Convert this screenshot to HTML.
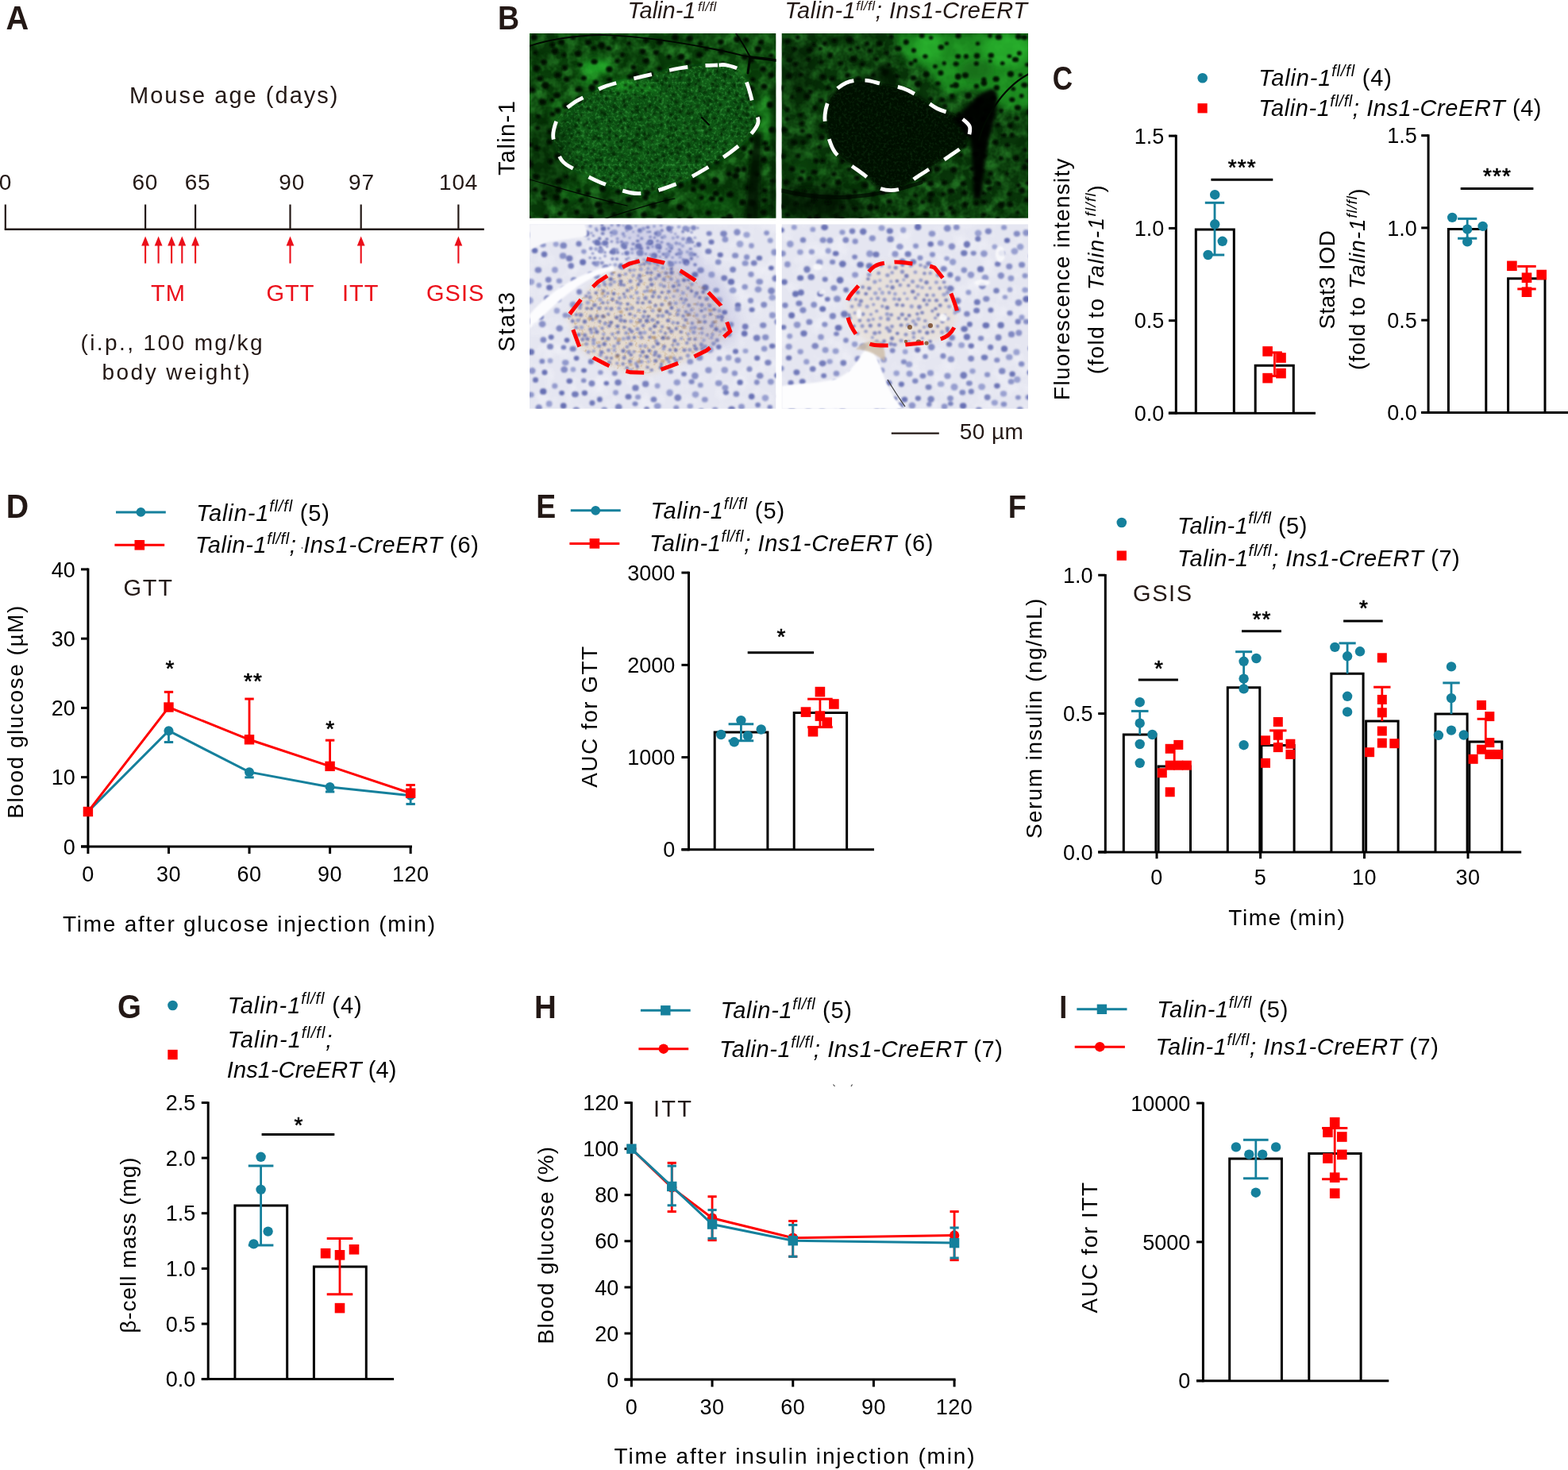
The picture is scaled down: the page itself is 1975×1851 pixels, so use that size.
<!DOCTYPE html>
<html><head><meta charset="utf-8"><title>Figure</title>
<style>
html,body{margin:0;padding:0;background:#fff;}
svg{display:block;}
text{font-family:"Liberation Sans",Arial,Helvetica,sans-serif;white-space:pre;}
.r{font-style:normal;font-weight:normal;}
.it{font-style:italic;font-weight:normal;}
.bd{font-weight:bold;}
</style></head><body>
<svg width="1975" height="1851" viewBox="0 0 1975 1851">
<rect width="100%" height="100%" fill="#fff"/>
<text class="bd" transform="translate(7.51 37.2) scale(0.925 1)" font-size="43.02" fill="#231815">A</text>
<text class="bd" transform="translate(626.88 36.9) scale(0.879 1)" font-size="42.73" fill="#231815">B</text>
<text class="bd" transform="translate(1325.66 112.97) scale(0.814 1)" font-size="43.22" fill="#231815">C</text>
<text class="bd" transform="translate(7.77 652.4) scale(0.939 1)" font-size="41.86" fill="#231815">D</text>
<text class="bd" transform="translate(675.29 652.4) scale(0.876 1)" font-size="42.73" fill="#231815">E</text>
<text class="bd" transform="translate(1269.68 651.9) scale(0.909 1)" font-size="41.42" fill="#231815">F</text>
<text class="bd" transform="translate(148.02 1282.17) scale(0.897 1)" font-size="42.94" fill="#231815">G</text>
<text class="bd" transform="translate(673.12 1282.4) scale(0.925 1)" font-size="41.57" fill="#231815">H</text>
<text class="bd" transform="translate(1334.18 1281.6) scale(0.887 1)" font-size="40.7" fill="#231815">I</text>
<text class="r" x="163" y="130.3" font-size="29" textLength="262.5" lengthAdjust="spacing" fill="#231815">Mouse age (days)</text>
<line x1="5.8" y1="288.8" x2="609.8" y2="288.8" stroke="#231815" stroke-width="2.4"/>
<line x1="6.8" y1="257.5" x2="6.8" y2="289.5" stroke="#231815" stroke-width="2.2"/>
<line x1="183.1" y1="257.5" x2="183.1" y2="289.5" stroke="#231815" stroke-width="2.2"/>
<line x1="246.1" y1="257.5" x2="246.1" y2="289.5" stroke="#231815" stroke-width="2.2"/>
<line x1="365.5" y1="257.5" x2="365.5" y2="289.5" stroke="#231815" stroke-width="2.2"/>
<line x1="454.7" y1="257.5" x2="454.7" y2="289.5" stroke="#231815" stroke-width="2.2"/>
<line x1="577.4" y1="257.5" x2="577.4" y2="289.5" stroke="#231815" stroke-width="2.2"/>
<text class="r" x="7" y="238.9" font-size="28" text-anchor="middle" letter-spacing="0.8" fill="#231815">0</text>
<text class="r" x="182.8" y="238.9" font-size="28" text-anchor="middle" letter-spacing="0.8" fill="#231815">60</text>
<text class="r" x="249" y="238.9" font-size="28" text-anchor="middle" letter-spacing="0.8" fill="#231815">65</text>
<text class="r" x="367.7" y="238.9" font-size="28" text-anchor="middle" letter-spacing="0.8" fill="#231815">90</text>
<text class="r" x="455.4" y="238.9" font-size="28" text-anchor="middle" letter-spacing="0.8" fill="#231815">97</text>
<text class="r" x="577.6" y="238.9" font-size="28" text-anchor="middle" letter-spacing="0.8" fill="#231815">104</text>
<line x1="183.1" y1="307" x2="183.1" y2="331.6" stroke="#eb0f1a" stroke-width="2.1"/>
<path d="M183.1 297.6 L178.2 309.5 L188 309.5 Z" fill="#eb0f1a"/>
<line x1="199.6" y1="307" x2="199.6" y2="331.6" stroke="#eb0f1a" stroke-width="2.1"/>
<path d="M199.6 297.6 L194.7 309.5 L204.5 309.5 Z" fill="#eb0f1a"/>
<line x1="216.1" y1="307" x2="216.1" y2="331.6" stroke="#eb0f1a" stroke-width="2.1"/>
<path d="M216.1 297.6 L211.2 309.5 L221 309.5 Z" fill="#eb0f1a"/>
<line x1="229.3" y1="307" x2="229.3" y2="331.6" stroke="#eb0f1a" stroke-width="2.1"/>
<path d="M229.3 297.6 L224.4 309.5 L234.2 309.5 Z" fill="#eb0f1a"/>
<line x1="246.1" y1="307" x2="246.1" y2="331.6" stroke="#eb0f1a" stroke-width="2.1"/>
<path d="M246.1 297.6 L241.2 309.5 L251 309.5 Z" fill="#eb0f1a"/>
<line x1="365.5" y1="307" x2="365.5" y2="331.6" stroke="#eb0f1a" stroke-width="2.1"/>
<path d="M365.5 297.6 L360.6 309.5 L370.4 309.5 Z" fill="#eb0f1a"/>
<line x1="454.7" y1="307" x2="454.7" y2="331.6" stroke="#eb0f1a" stroke-width="2.1"/>
<path d="M454.7 297.6 L449.8 309.5 L459.6 309.5 Z" fill="#eb0f1a"/>
<line x1="577.4" y1="307" x2="577.4" y2="331.6" stroke="#eb0f1a" stroke-width="2.1"/>
<path d="M577.4 297.6 L572.5 309.5 L582.3 309.5 Z" fill="#eb0f1a"/>
<text class="r" x="212" y="378.5" font-size="29" text-anchor="middle" letter-spacing="1" fill="#eb0f1a">TM</text>
<text class="r" x="365.95" y="378.5" font-size="29" text-anchor="middle" letter-spacing="1" fill="#eb0f1a">GTT</text>
<text class="r" x="454.15" y="378.5" font-size="29" text-anchor="middle" letter-spacing="1" fill="#eb0f1a">ITT</text>
<text class="r" x="573.65" y="378.5" font-size="29" text-anchor="middle" letter-spacing="1" fill="#eb0f1a">GSIS</text>
<text class="r" x="101.5" y="440.8" font-size="28" textLength="229" lengthAdjust="spacing" fill="#231815">(i.p., 100 mg/kg</text>
<text class="r" x="128.5" y="477.7" font-size="28" textLength="186" lengthAdjust="spacing" fill="#231815">body weight)</text>
<defs>
<filter id="gnoise" x="0" y="0" width="100%" height="100%" filterUnits="objectBoundingBox">
 <feTurbulence type="fractalNoise" baseFrequency="0.07" numOctaves="3" seed="7" result="t"/>
 <feColorMatrix type="matrix" values="0 0 0 0 0.06  0 0 0 0 0.55  0 0 0 0 0.06  0 0 0 2.4 -0.85"/>
</filter>
<filter id="gnoise2" x="0" y="0" width="100%" height="100%" filterUnits="objectBoundingBox">
 <feTurbulence type="fractalNoise" baseFrequency="0.3" numOctaves="2" seed="3" result="t"/>
 <feColorMatrix type="matrix" values="0 0 0 0 0.08  0 0 0 0 0.6  0 0 0 0 0.1  0 0 0 2.6 -1.2"/>
</filter>
<filter id="dnoise" x="0" y="0" width="100%" height="100%" filterUnits="objectBoundingBox">
 <feTurbulence type="fractalNoise" baseFrequency="0.05" numOctaves="2" seed="11" result="t"/>
 <feColorMatrix type="matrix" values="0 0 0 0 0  0 0 0 0 0.02  0 0 0 0 0  0 0 0 2.4 -1.0"/>
</filter>
<filter id="inoise" x="0" y="0" width="100%" height="100%" filterUnits="objectBoundingBox">
 <feTurbulence type="fractalNoise" baseFrequency="0.04" numOctaves="3" seed="5" result="t"/>
 <feColorMatrix type="matrix" values="0 0 0 0 0.97  0 0 0 0 0.97  0 0 0 0 1  0 0 0 1.6 -0.72"/>
</filter>
<filter id="bnoise" x="0" y="0" width="100%" height="100%" filterUnits="objectBoundingBox">
 <feTurbulence type="fractalNoise" baseFrequency="0.22" numOctaves="2" seed="9" result="t"/>
 <feColorMatrix type="matrix" values="0 0 0 0 0.55  0 0 0 0 0.36  0 0 0 0 0.16  0 0 0 3.2 -1.75"/>
</filter>
<filter id="blur2" x="-50%" y="-50%" width="200%" height="200%"><feGaussianBlur stdDeviation="2"/></filter>
<filter id="blur4" x="-60%" y="-60%" width="220%" height="220%"><feGaussianBlur stdDeviation="4"/></filter>
<filter id="blur8" x="-80%" y="-80%" width="260%" height="260%"><feGaussianBlur stdDeviation="8"/></filter>
<filter id="blur1" x="-20%" y="-20%" width="140%" height="140%"><feGaussianBlur stdDeviation="0.8"/></filter>
</defs>
<clipPath id="cg1"><rect x="667" y="42" width="310.5" height="232.8"/></clipPath>
<g clip-path="url(#cg1)">
<rect x="667" y="42" width="310.5" height="232.8" fill="rgb(9,62,10)"/>
<rect x="667" y="42" width="310.5" height="232.8" filter="url(#gnoise)" opacity="0.45"/>
<rect x="667" y="42" width="310.5" height="232.8" filter="url(#dnoise)" opacity="0.45"/>
<clipPath id="cg1i"><path d="M904 82 C898.2 82.2 888.1 82.3 880 83 C871.9 83.7 867.1 83.8 855.4 86 C843.7 88.2 825 92.5 809.8 96.2 C794.6 99.9 775.5 104.2 764.3 108 C753 111.8 749.3 115.3 742.3 119 C735.2 122.7 728.2 125.7 722 130 C715.8 134.3 709.1 139.5 705 145 C700.9 150.5 698.8 157.7 697.6 163 C696.4 168.3 695.9 170.5 697.6 177 C699.3 183.5 703 195.8 707.8 202.1 C712.6 208.4 718.2 210 726.6 214.7 C735 219.4 745.2 225.6 758 230.4 C770.8 235.2 788.4 243.3 803.6 243.7 C818.8 244.1 834.4 238.2 849 232.7 C863.6 227.2 877.9 218.9 891.5 210.7 C905.1 202.5 920.2 192.3 930.7 183.3 C941.2 174.3 951.1 164.4 954.2 156.6 C957.3 148.8 951.5 144.3 949.5 136.2 C947.5 128.1 944.8 115.9 942 108 C939.2 100.1 937.5 93.3 933 89 C928.5 84.7 919.8 83.2 915 82 C910.2 80.8 909.8 81.8 904 82Z"/></clipPath>
<path d="M904 82 C898.2 82.2 888.1 82.3 880 83 C871.9 83.7 867.1 83.8 855.4 86 C843.7 88.2 825 92.5 809.8 96.2 C794.6 99.9 775.5 104.2 764.3 108 C753 111.8 749.3 115.3 742.3 119 C735.2 122.7 728.2 125.7 722 130 C715.8 134.3 709.1 139.5 705 145 C700.9 150.5 698.8 157.7 697.6 163 C696.4 168.3 695.9 170.5 697.6 177 C699.3 183.5 703 195.8 707.8 202.1 C712.6 208.4 718.2 210 726.6 214.7 C735 219.4 745.2 225.6 758 230.4 C770.8 235.2 788.4 243.3 803.6 243.7 C818.8 244.1 834.4 238.2 849 232.7 C863.6 227.2 877.9 218.9 891.5 210.7 C905.1 202.5 920.2 192.3 930.7 183.3 C941.2 174.3 951.1 164.4 954.2 156.6 C957.3 148.8 951.5 144.3 949.5 136.2 C947.5 128.1 944.8 115.9 942 108 C939.2 100.1 937.5 93.3 933 89 C928.5 84.7 919.8 83.2 915 82 C910.2 80.8 909.8 81.8 904 82Z" fill="rgb(16,88,18)" opacity="0.7" filter="url(#blur4)"/>
<rect x="667" y="42" width="310.5" height="232.8" filter="url(#gnoise2)" opacity="0.45" clip-path="url(#cg1i)"/>
<ellipse cx="690" cy="200" rx="30" ry="60" fill="rgb(2,18,3)" opacity="0.35" filter="url(#blur8)"/>
<ellipse cx="760" cy="262" rx="50" ry="16" fill="rgb(2,18,3)" opacity="0.3" filter="url(#blur8)"/>
<ellipse cx="940" cy="245" rx="40" ry="30" fill="rgb(2,18,3)" opacity="0.3" filter="url(#blur8)"/>
<ellipse cx="680" cy="60" rx="20" ry="18" fill="rgb(2,18,3)" opacity="0.25" filter="url(#blur8)"/>
<ellipse cx="752" cy="84" rx="20" ry="10" fill="rgb(40,190,45)" opacity="0.75" filter="url(#blur4)"/>
<ellipse cx="742" cy="100" rx="12" ry="8" fill="rgb(40,190,45)" opacity="0.5" filter="url(#blur4)"/>
<ellipse cx="785" cy="108" rx="14" ry="6" fill="rgb(40,190,45)" opacity="0.7" filter="url(#blur4)"/>
<ellipse cx="815" cy="112" rx="12" ry="5" fill="rgb(40,190,45)" opacity="0.5" filter="url(#blur4)"/>
<ellipse cx="700" cy="140" rx="10" ry="18" fill="rgb(40,190,45)" opacity="0.18" filter="url(#blur4)"/>
<ellipse cx="965" cy="150" rx="10" ry="34" fill="rgb(40,190,45)" opacity="0.35" filter="url(#blur4)"/>
<ellipse cx="905" cy="255" rx="30" ry="12" fill="rgb(40,190,45)" opacity="0.15" filter="url(#blur4)"/>
<ellipse cx="720" cy="245" rx="14" ry="10" fill="rgb(40,190,45)" opacity="0.2" filter="url(#blur4)"/>
<g fill="rgb(1,9,2)" opacity="0.95" filter="url(#blur1)"><ellipse cx="672.6" cy="47" rx="4.2" ry="4"/><ellipse cx="695.5" cy="56.5" rx="3.1" ry="3.1"/><ellipse cx="707.1" cy="53.1" rx="4" ry="3.3"/><ellipse cx="721.8" cy="47.4" rx="2.9" ry="2.4"/><ellipse cx="740.8" cy="53.5" rx="3.9" ry="3.7"/><ellipse cx="757.8" cy="57.1" rx="4.4" ry="4.3"/><ellipse cx="773.9" cy="47" rx="3.1" ry="2.6"/><ellipse cx="792.2" cy="54.5" rx="2.9" ry="2.6"/><ellipse cx="813.8" cy="50.6" rx="3.5" ry="3.1"/><ellipse cx="831.2" cy="52.8" rx="4.2" ry="3.9"/><ellipse cx="850.3" cy="47.2" rx="4.2" ry="4.1"/><ellipse cx="868.6" cy="48.5" rx="4.1" ry="3.7"/><ellipse cx="882.4" cy="55.2" rx="3.5" ry="3.2"/><ellipse cx="907.8" cy="53.1" rx="3.6" ry="3.3"/><ellipse cx="928.5" cy="49.6" rx="4.2" ry="4"/><ellipse cx="939.9" cy="50" rx="3.2" ry="3"/><ellipse cx="958.3" cy="53.2" rx="3.6" ry="2.9"/><ellipse cx="674.1" cy="66.2" rx="3" ry="2.7"/><ellipse cx="699" cy="64.7" rx="4.4" ry="4.1"/><ellipse cx="710.3" cy="69.3" rx="2.9" ry="2.8"/><ellipse cx="728.1" cy="67.5" rx="4" ry="3.7"/><ellipse cx="748" cy="60.6" rx="2.8" ry="2.4"/><ellipse cx="766.4" cy="61" rx="3.4" ry="3"/><ellipse cx="784" cy="69.1" rx="3" ry="2.8"/><ellipse cx="809.5" cy="64.9" rx="3.8" ry="3.6"/><ellipse cx="826.5" cy="66.3" rx="3.6" ry="3.3"/><ellipse cx="842.5" cy="71.5" rx="3" ry="2.9"/><ellipse cx="858" cy="71.5" rx="4.3" ry="4.1"/><ellipse cx="881" cy="69" rx="4.1" ry="3.5"/><ellipse cx="890.1" cy="61.3" rx="3.3" ry="2.7"/><ellipse cx="908.4" cy="64.7" rx="4.1" ry="4"/><ellipse cx="938.3" cy="71.5" rx="4.4" ry="4"/><ellipse cx="954.9" cy="61.7" rx="4.2" ry="4"/><ellipse cx="971.2" cy="70.2" rx="3" ry="2.4"/><ellipse cx="675.5" cy="86.1" rx="4.3" ry="4.3"/><ellipse cx="684.8" cy="78.1" rx="4" ry="3.7"/><ellipse cx="711.3" cy="85.4" rx="3.5" ry="3.4"/><ellipse cx="730.6" cy="81.6" rx="3.3" ry="2.7"/><ellipse cx="748.6" cy="77.6" rx="4.2" ry="3.4"/><ellipse cx="767.4" cy="87.3" rx="4" ry="3.7"/><ellipse cx="777.4" cy="76.7" rx="3" ry="2.7"/><ellipse cx="798.1" cy="84.8" rx="3.3" ry="3.1"/><ellipse cx="813.6" cy="76.6" rx="4.1" ry="3.6"/><ellipse cx="830.6" cy="86.5" rx="3.1" ry="2.7"/><ellipse cx="846.2" cy="88" rx="3.5" ry="3.3"/><ellipse cx="866.3" cy="78.5" rx="4.4" ry="3.8"/><ellipse cx="910.7" cy="80" rx="3.1" ry="2.8"/><ellipse cx="946.5" cy="76" rx="3.5" ry="3.3"/><ellipse cx="961.2" cy="87" rx="3.9" ry="3.6"/><ellipse cx="680" cy="98.9" rx="4.2" ry="3.5"/><ellipse cx="702.5" cy="94.6" rx="4.1" ry="3.5"/><ellipse cx="713.6" cy="100.1" rx="3.6" ry="3.3"/><ellipse cx="735.2" cy="98.4" rx="3.7" ry="3.1"/><ellipse cx="750.3" cy="103.7" rx="3.6" ry="3.1"/><ellipse cx="767.7" cy="100.3" rx="3.3" ry="2.9"/><ellipse cx="793.6" cy="96.7" rx="3.5" ry="2.9"/><ellipse cx="800.7" cy="94.3" rx="4" ry="3.9"/><ellipse cx="818.9" cy="93.4" rx="4.4" ry="3.7"/><ellipse cx="948.1" cy="100.3" rx="3.2" ry="2.8"/><ellipse cx="971.6" cy="94.6" rx="3.8" ry="3.6"/><ellipse cx="670.7" cy="113.1" rx="3.8" ry="3.4"/><ellipse cx="686.9" cy="107.7" rx="4.5" ry="4.5"/><ellipse cx="701.6" cy="120" rx="4.2" ry="3.5"/><ellipse cx="728.6" cy="112.8" rx="4.1" ry="3.3"/><ellipse cx="745.7" cy="110.6" rx="4.4" ry="4.1"/><ellipse cx="945.4" cy="111.5" rx="4.4" ry="3.9"/><ellipse cx="962.5" cy="109" rx="4" ry="3.4"/><ellipse cx="683.3" cy="128.2" rx="4.4" ry="3.7"/><ellipse cx="695.4" cy="125.9" rx="2.8" ry="2.4"/><ellipse cx="712.8" cy="133.2" rx="3.9" ry="3.6"/><ellipse cx="729.2" cy="125.8" rx="4.2" ry="3.9"/><ellipse cx="969.9" cy="132.1" rx="4.1" ry="4.1"/><ellipse cx="677.9" cy="146.3" rx="2.9" ry="2.4"/><ellipse cx="695.9" cy="143.7" rx="3.3" ry="2.7"/><ellipse cx="702.7" cy="139.2" rx="3.7" ry="3.5"/><ellipse cx="955.5" cy="148.6" rx="3.1" ry="2.8"/><ellipse cx="676.9" cy="161" rx="3.2" ry="2.6"/><ellipse cx="692.4" cy="165.7" rx="3.3" ry="2.8"/><ellipse cx="972.3" cy="163.6" rx="4" ry="3.9"/><ellipse cx="668.5" cy="182.4" rx="2.9" ry="2.6"/><ellipse cx="692.5" cy="178.7" rx="3.6" ry="3.3"/><ellipse cx="946.5" cy="175.7" rx="3.1" ry="3"/><ellipse cx="963.6" cy="180.6" rx="3.3" ry="3"/><ellipse cx="676.1" cy="186.4" rx="3.5" ry="3.2"/><ellipse cx="702.2" cy="196.7" rx="4.3" ry="4"/><ellipse cx="936.7" cy="187" rx="3.4" ry="3.3"/><ellipse cx="945.9" cy="191.9" rx="3.1" ry="3.1"/><ellipse cx="966" cy="187.3" rx="3.9" ry="3.3"/><ellipse cx="667.1" cy="206.6" rx="4.5" ry="4.4"/><ellipse cx="693.3" cy="203.3" rx="3.7" ry="3.5"/><ellipse cx="902.8" cy="204.8" rx="3" ry="2.5"/><ellipse cx="929.2" cy="213.8" rx="3.6" ry="3.6"/><ellipse cx="937.1" cy="213" rx="3.4" ry="3.4"/><ellipse cx="962.3" cy="201.2" rx="3.8" ry="3.6"/><ellipse cx="675.4" cy="222.4" rx="4.1" ry="3.4"/><ellipse cx="703.5" cy="228.1" rx="4.4" ry="4"/><ellipse cx="713.3" cy="222.6" rx="3" ry="2.5"/><ellipse cx="874.7" cy="228.4" rx="4.2" ry="3.8"/><ellipse cx="901.2" cy="227.5" rx="4.4" ry="4.3"/><ellipse cx="918.2" cy="219" rx="3.7" ry="3.3"/><ellipse cx="926.7" cy="221.5" rx="4.1" ry="4.1"/><ellipse cx="953.3" cy="219.4" rx="3.3" ry="3"/><ellipse cx="973.3" cy="227.9" rx="3" ry="2.4"/><ellipse cx="674.1" cy="238.7" rx="2.9" ry="2.5"/><ellipse cx="685" cy="242.9" rx="3.8" ry="3.7"/><ellipse cx="703.2" cy="238.9" rx="4.1" ry="4"/><ellipse cx="728.9" cy="240.7" rx="3.2" ry="3.1"/><ellipse cx="740.1" cy="243.8" rx="3.3" ry="2.9"/><ellipse cx="759.2" cy="237.9" rx="3.7" ry="3.7"/><ellipse cx="778.7" cy="241.5" rx="3.6" ry="2.9"/><ellipse cx="791.5" cy="240.7" rx="3.4" ry="3.1"/><ellipse cx="815.3" cy="242.8" rx="4" ry="3.3"/><ellipse cx="831.8" cy="239.8" rx="3.3" ry="2.7"/><ellipse cx="857.6" cy="233.2" rx="3.7" ry="3.2"/><ellipse cx="873.3" cy="238.5" rx="3.3" ry="3"/><ellipse cx="884.9" cy="236" rx="4.1" ry="3.8"/><ellipse cx="901.8" cy="243.4" rx="4" ry="3.6"/><ellipse cx="919.6" cy="244.9" rx="4.4" ry="3.6"/><ellipse cx="941.7" cy="236.1" rx="2.9" ry="2.4"/><ellipse cx="963.2" cy="240" rx="3.6" ry="3.1"/><ellipse cx="685.5" cy="250" rx="3.1" ry="2.5"/><ellipse cx="701" cy="248.4" rx="4.1" ry="3.4"/><ellipse cx="712.4" cy="253.5" rx="3.9" ry="3.8"/><ellipse cx="732.1" cy="251.8" rx="3.2" ry="3"/><ellipse cx="753.4" cy="257.8" rx="4.3" ry="3.8"/><ellipse cx="769.4" cy="254.7" rx="4.4" ry="3.5"/><ellipse cx="792.2" cy="251" rx="3.8" ry="3.6"/><ellipse cx="813" cy="248.4" rx="3.6" ry="3.5"/><ellipse cx="822.8" cy="258.8" rx="4.5" ry="4.3"/><ellipse cx="839.1" cy="252.4" rx="3.6" ry="3.4"/><ellipse cx="856.2" cy="260.7" rx="4.3" ry="4"/><ellipse cx="883.4" cy="249.1" rx="2.9" ry="2.4"/><ellipse cx="897" cy="250.1" rx="3.8" ry="3.2"/><ellipse cx="908.2" cy="251" rx="3.1" ry="3.1"/><ellipse cx="935.1" cy="255" rx="3.7" ry="3.6"/><ellipse cx="947.7" cy="255.6" rx="4.2" ry="4"/><ellipse cx="963.1" cy="252.5" rx="3.5" ry="3"/><ellipse cx="666.3" cy="274.5" rx="2.9" ry="2.5"/><ellipse cx="688" cy="273" rx="3.6" ry="3.4"/><ellipse cx="705.4" cy="269.1" rx="3.1" ry="2.7"/><ellipse cx="726.5" cy="267.1" rx="3.4" ry="3.3"/><ellipse cx="744.1" cy="273.8" rx="3.3" ry="3.2"/><ellipse cx="756" cy="266.3" rx="3.9" ry="3.8"/><ellipse cx="773.3" cy="270.1" rx="3.3" ry="2.8"/><ellipse cx="792.4" cy="270.5" rx="3.6" ry="3.1"/><ellipse cx="811.1" cy="270.6" rx="3.8" ry="3.8"/><ellipse cx="830.7" cy="273.5" rx="3.7" ry="3.1"/><ellipse cx="855.6" cy="276.2" rx="2.9" ry="2.7"/><ellipse cx="869" cy="275.3" rx="3.6" ry="2.9"/><ellipse cx="892.2" cy="268.1" rx="3.4" ry="3.3"/><ellipse cx="911.7" cy="276.2" rx="3.9" ry="3.4"/><ellipse cx="919" cy="273.5" rx="4.4" ry="4.4"/><ellipse cx="943.9" cy="271.8" rx="2.8" ry="2.4"/><ellipse cx="962.2" cy="267.4" rx="3.8" ry="3.3"/></g>
<g fill="rgb(3,26,5)" opacity="0.75" filter="url(#blur1)"><circle cx="869.8" cy="84.7" r="2.1"/><circle cx="901" cy="83.2" r="2.3"/><circle cx="841.7" cy="92.2" r="1.7"/><circle cx="857.4" cy="89.6" r="2.2"/><circle cx="863.1" cy="90.5" r="2"/><circle cx="876.4" cy="93.7" r="1.6"/><circle cx="885.7" cy="89.7" r="2.3"/><circle cx="894.3" cy="93" r="2"/><circle cx="902.9" cy="89.7" r="2.4"/><circle cx="912.4" cy="93.8" r="2.5"/><circle cx="926.5" cy="88.7" r="1.7"/><circle cx="802.7" cy="100.6" r="1.7"/><circle cx="808" cy="97" r="2"/><circle cx="819" cy="98" r="2.4"/><circle cx="827.6" cy="101.2" r="2.3"/><circle cx="838.2" cy="99.3" r="2.5"/><circle cx="848.6" cy="100.1" r="1.8"/><circle cx="857.3" cy="98.3" r="2.5"/><circle cx="868" cy="99.8" r="2.3"/><circle cx="880" cy="101.7" r="1.9"/><circle cx="890.6" cy="95.8" r="2.3"/><circle cx="901.2" cy="101.5" r="1.7"/><circle cx="912.4" cy="97.4" r="2.4"/><circle cx="920.1" cy="97.1" r="2"/><circle cx="930.3" cy="100.8" r="1.6"/><circle cx="774.3" cy="107.9" r="1.6"/><circle cx="787.9" cy="107" r="2.3"/><circle cx="794.1" cy="109.7" r="2.5"/><circle cx="803.1" cy="107.1" r="2"/><circle cx="812.3" cy="107.8" r="2"/><circle cx="822.1" cy="108.7" r="2.1"/><circle cx="834.1" cy="105.8" r="2"/><circle cx="842.9" cy="108.5" r="2.3"/><circle cx="853.3" cy="111.1" r="1.7"/><circle cx="867.7" cy="107.2" r="2.4"/><circle cx="875.8" cy="106.2" r="2.3"/><circle cx="882.3" cy="109.8" r="2.4"/><circle cx="897.5" cy="106.2" r="2.4"/><circle cx="903.2" cy="108.8" r="2.2"/><circle cx="912.1" cy="105.9" r="2.1"/><circle cx="924.4" cy="107.5" r="2.5"/><circle cx="932.9" cy="107.8" r="1.6"/><circle cx="757" cy="115.7" r="2.5"/><circle cx="770.1" cy="116" r="1.8"/><circle cx="778.8" cy="117.7" r="2.3"/><circle cx="787.7" cy="115.2" r="2"/><circle cx="799.3" cy="119.6" r="2"/><circle cx="808.8" cy="113.7" r="2.1"/><circle cx="817.7" cy="116.7" r="1.9"/><circle cx="832.7" cy="117.6" r="1.6"/><circle cx="839.7" cy="114.8" r="1.8"/><circle cx="848.4" cy="119.2" r="2.3"/><circle cx="862.8" cy="115.7" r="2"/><circle cx="870.5" cy="117.9" r="2.1"/><circle cx="881" cy="115.1" r="2"/><circle cx="887.7" cy="115.7" r="2.3"/><circle cx="899.4" cy="114.7" r="2.3"/><circle cx="906.3" cy="119.4" r="1.7"/><circle cx="918.5" cy="116.5" r="2"/><circle cx="928.1" cy="119.6" r="2.4"/><circle cx="940.6" cy="119" r="2"/><circle cx="737" cy="127.3" r="1.9"/><circle cx="744.1" cy="127.5" r="1.7"/><circle cx="753" cy="124.8" r="1.6"/><circle cx="763.8" cy="124.3" r="2.3"/><circle cx="774.6" cy="125.2" r="1.6"/><circle cx="786" cy="127.1" r="2.3"/><circle cx="793.7" cy="124.8" r="1.9"/><circle cx="804.9" cy="122.9" r="1.8"/><circle cx="811.6" cy="122.2" r="2.1"/><circle cx="826.3" cy="123" r="1.8"/><circle cx="831.8" cy="127" r="1.7"/><circle cx="845.7" cy="124.9" r="1.7"/><circle cx="852" cy="128" r="2.5"/><circle cx="862.7" cy="122.8" r="2"/><circle cx="876.1" cy="123.5" r="2.4"/><circle cx="887.7" cy="128" r="2"/><circle cx="894.1" cy="127.1" r="2.4"/><circle cx="902.2" cy="126.5" r="2"/><circle cx="913.3" cy="123.2" r="1.9"/><circle cx="926" cy="128.3" r="2"/><circle cx="934.8" cy="127.2" r="2.6"/><circle cx="943.7" cy="124.3" r="2.6"/><circle cx="732.1" cy="135.9" r="1.6"/><circle cx="740.4" cy="137.1" r="2.4"/><circle cx="749.8" cy="135.6" r="2"/><circle cx="758.8" cy="130.6" r="1.8"/><circle cx="772.2" cy="133.7" r="2.2"/><circle cx="776.5" cy="136.1" r="2.1"/><circle cx="787" cy="132.4" r="2.5"/><circle cx="801.7" cy="135.3" r="2"/><circle cx="812.5" cy="136.5" r="2.1"/><circle cx="818.4" cy="133.2" r="2.5"/><circle cx="827.2" cy="136" r="2.3"/><circle cx="841.9" cy="133.5" r="1.8"/><circle cx="851.6" cy="137.4" r="1.7"/><circle cx="860.5" cy="134" r="1.9"/><circle cx="870.7" cy="134.3" r="1.7"/><circle cx="878.6" cy="134" r="2.2"/><circle cx="891.9" cy="132.4" r="1.7"/><circle cx="896.7" cy="137.1" r="1.6"/><circle cx="907.3" cy="131.9" r="2.3"/><circle cx="918.1" cy="137.2" r="2"/><circle cx="929.9" cy="136.2" r="2.3"/><circle cx="941" cy="136.1" r="2.4"/><circle cx="946.2" cy="131.3" r="2.3"/><circle cx="712.1" cy="143.4" r="1.9"/><circle cx="724.8" cy="143.3" r="1.7"/><circle cx="732.6" cy="145.1" r="2.1"/><circle cx="745.5" cy="139.5" r="2.1"/><circle cx="757.8" cy="141" r="2.5"/><circle cx="761.7" cy="143.8" r="2.4"/><circle cx="775.1" cy="140.1" r="1.7"/><circle cx="782.6" cy="141.9" r="1.9"/><circle cx="796.9" cy="140.5" r="1.9"/><circle cx="802.5" cy="139.4" r="2.4"/><circle cx="813.5" cy="139.8" r="1.7"/><circle cx="824.2" cy="142.4" r="2"/><circle cx="832.6" cy="141.8" r="2.4"/><circle cx="844.9" cy="144.1" r="2.5"/><circle cx="857.3" cy="140.1" r="2.6"/><circle cx="867.2" cy="142.2" r="2.6"/><circle cx="872.1" cy="141.5" r="2"/><circle cx="882.8" cy="145.1" r="1.8"/><circle cx="891.2" cy="140.7" r="2.5"/><circle cx="904.8" cy="140.8" r="1.7"/><circle cx="917" cy="139.9" r="2.2"/><circle cx="927.4" cy="143.8" r="2.1"/><circle cx="937" cy="142.7" r="2.4"/><circle cx="941.5" cy="144.8" r="2.5"/><circle cx="711.2" cy="153.3" r="2"/><circle cx="721.6" cy="148.2" r="1.9"/><circle cx="728.9" cy="150.9" r="2.3"/><circle cx="739.1" cy="154.6" r="2"/><circle cx="750.1" cy="154.1" r="2.5"/><circle cx="758.9" cy="150.8" r="1.6"/><circle cx="768" cy="152.4" r="2.1"/><circle cx="781.7" cy="152.9" r="1.9"/><circle cx="786.2" cy="150.3" r="2.2"/><circle cx="796.1" cy="149.9" r="1.9"/><circle cx="807.5" cy="149.5" r="2.2"/><circle cx="817.1" cy="149.3" r="1.8"/><circle cx="832.5" cy="148.4" r="2.2"/><circle cx="841.5" cy="153.7" r="2"/><circle cx="851.5" cy="148.9" r="1.9"/><circle cx="862.1" cy="154.6" r="2.1"/><circle cx="871.6" cy="154.3" r="1.7"/><circle cx="878.2" cy="153.4" r="1.9"/><circle cx="889.1" cy="148.1" r="2.4"/><circle cx="899.9" cy="148.8" r="2.5"/><circle cx="912.1" cy="152.9" r="2.3"/><circle cx="919.7" cy="153.9" r="1.9"/><circle cx="932.4" cy="149.9" r="2.5"/><circle cx="940" cy="153.3" r="2"/><circle cx="946.4" cy="149.5" r="2.6"/><circle cx="703.3" cy="161.9" r="1.9"/><circle cx="717.3" cy="162.4" r="2.3"/><circle cx="725.2" cy="158.8" r="2.6"/><circle cx="736.1" cy="157.6" r="2.4"/><circle cx="742.1" cy="161.6" r="1.9"/><circle cx="752.9" cy="162" r="1.8"/><circle cx="766.1" cy="158.8" r="2"/><circle cx="777.8" cy="158.2" r="1.7"/><circle cx="784.1" cy="161.5" r="1.9"/><circle cx="791.4" cy="159.9" r="1.9"/><circle cx="804.9" cy="162.9" r="2.3"/><circle cx="817.3" cy="158" r="2.5"/><circle cx="822.8" cy="159" r="1.7"/><circle cx="832.7" cy="157.1" r="2.3"/><circle cx="845.2" cy="161.5" r="2.3"/><circle cx="851.4" cy="162.9" r="2"/><circle cx="865.4" cy="161.4" r="2.5"/><circle cx="873.8" cy="162.6" r="2"/><circle cx="886.5" cy="159.4" r="2.4"/><circle cx="894.8" cy="162.8" r="2.5"/><circle cx="905.2" cy="157.1" r="1.6"/><circle cx="911.3" cy="162.5" r="2.2"/><circle cx="925.9" cy="159.9" r="2.1"/><circle cx="935" cy="159.8" r="2.2"/><circle cx="941.5" cy="161.3" r="1.9"/><circle cx="951.5" cy="158.3" r="2.5"/><circle cx="701.9" cy="167.8" r="1.8"/><circle cx="709.7" cy="171.2" r="2.1"/><circle cx="720" cy="171.6" r="2.1"/><circle cx="729.3" cy="167.5" r="2"/><circle cx="739.4" cy="168.4" r="1.8"/><circle cx="750.1" cy="171.7" r="1.7"/><circle cx="761.9" cy="168.3" r="1.7"/><circle cx="768.3" cy="166" r="2.1"/><circle cx="776.6" cy="171" r="2.4"/><circle cx="789.3" cy="170" r="1.7"/><circle cx="802.8" cy="169.3" r="2.4"/><circle cx="811.9" cy="168.5" r="2.2"/><circle cx="817.5" cy="170.5" r="2.3"/><circle cx="828.9" cy="166.5" r="1.7"/><circle cx="841.8" cy="171.6" r="2.4"/><circle cx="847.7" cy="170.2" r="1.7"/><circle cx="861" cy="168.1" r="2.4"/><circle cx="868.9" cy="171.5" r="1.8"/><circle cx="876.4" cy="167.2" r="2.1"/><circle cx="889.7" cy="166.9" r="2.4"/><circle cx="901.6" cy="172" r="1.6"/><circle cx="908.9" cy="168.6" r="2.3"/><circle cx="922.7" cy="169.7" r="1.7"/><circle cx="930.4" cy="168.4" r="1.9"/><circle cx="940.4" cy="168.2" r="1.7"/><circle cx="702.1" cy="175.1" r="2.1"/><circle cx="716.6" cy="179.9" r="1.6"/><circle cx="725.9" cy="175.8" r="1.6"/><circle cx="732.7" cy="178.8" r="1.7"/><circle cx="747.3" cy="175" r="2"/><circle cx="754" cy="174.3" r="2.3"/><circle cx="767.7" cy="174.6" r="2.3"/><circle cx="776.8" cy="178.7" r="1.7"/><circle cx="782.4" cy="177.1" r="2.6"/><circle cx="796.4" cy="177.1" r="2"/><circle cx="801.3" cy="179.5" r="2.4"/><circle cx="813.7" cy="174.7" r="2.5"/><circle cx="821.2" cy="177.8" r="2.4"/><circle cx="835.2" cy="176.1" r="2.1"/><circle cx="846.5" cy="178.6" r="2"/><circle cx="855.3" cy="176.4" r="2.2"/><circle cx="867.5" cy="180" r="1.8"/><circle cx="874.5" cy="176" r="2.3"/><circle cx="886.4" cy="178.8" r="2.4"/><circle cx="892.3" cy="179.6" r="2.3"/><circle cx="901.7" cy="178.1" r="2"/><circle cx="913.8" cy="180.1" r="2.3"/><circle cx="925.8" cy="179.9" r="1.8"/><circle cx="706.8" cy="186.7" r="2.4"/><circle cx="722.1" cy="188.4" r="1.7"/><circle cx="727.7" cy="185.6" r="2.2"/><circle cx="737.9" cy="186.9" r="2.2"/><circle cx="748.2" cy="189.1" r="1.9"/><circle cx="761.1" cy="183" r="2.3"/><circle cx="770.1" cy="187.1" r="2.6"/><circle cx="780.9" cy="185.9" r="2.3"/><circle cx="792" cy="185.6" r="2.1"/><circle cx="798.6" cy="182.9" r="2.3"/><circle cx="806.2" cy="186.2" r="2.5"/><circle cx="820.2" cy="186.6" r="1.6"/><circle cx="832.1" cy="183.5" r="2.2"/><circle cx="838.7" cy="185.4" r="2.5"/><circle cx="852.2" cy="186.6" r="2.5"/><circle cx="856.7" cy="187.4" r="1.8"/><circle cx="867.6" cy="183.6" r="2.3"/><circle cx="882.8" cy="184.5" r="1.7"/><circle cx="886.9" cy="188.5" r="1.9"/><circle cx="898.5" cy="186.1" r="2.3"/><circle cx="911.4" cy="187.8" r="1.8"/><circle cx="717.3" cy="193.5" r="1.7"/><circle cx="726.2" cy="197.6" r="1.9"/><circle cx="732" cy="198.1" r="1.8"/><circle cx="745.3" cy="192.8" r="1.7"/><circle cx="756.9" cy="193.8" r="2.2"/><circle cx="767.8" cy="194.9" r="1.6"/><circle cx="773.1" cy="193.8" r="2.5"/><circle cx="784.1" cy="196.2" r="1.8"/><circle cx="797.8" cy="193.9" r="2.2"/><circle cx="802.8" cy="193.7" r="1.8"/><circle cx="816.7" cy="192.8" r="1.9"/><circle cx="824.1" cy="191.9" r="1.7"/><circle cx="835.8" cy="196" r="2.1"/><circle cx="845.9" cy="192.6" r="2.4"/><circle cx="853.9" cy="192.6" r="2.4"/><circle cx="867.6" cy="196" r="2.5"/><circle cx="876.8" cy="197.6" r="1.8"/><circle cx="881.2" cy="197" r="2.4"/><circle cx="893.2" cy="191.8" r="1.9"/><circle cx="906.1" cy="197.9" r="2.1"/><circle cx="722" cy="203.7" r="2"/><circle cx="732" cy="200.5" r="1.8"/><circle cx="737.6" cy="204.9" r="2"/><circle cx="751.4" cy="201.9" r="2.3"/><circle cx="756.9" cy="202" r="2.3"/><circle cx="766.3" cy="202.1" r="1.6"/><circle cx="779.8" cy="201.6" r="1.7"/><circle cx="788.9" cy="203.6" r="2.2"/><circle cx="800.2" cy="200.4" r="1.8"/><circle cx="807.7" cy="204.9" r="2.5"/><circle cx="820.6" cy="204.3" r="2.2"/><circle cx="827.3" cy="201.4" r="2.4"/><circle cx="836.8" cy="202.1" r="1.7"/><circle cx="852.7" cy="200.5" r="1.8"/><circle cx="857.9" cy="205.2" r="1.6"/><circle cx="868.7" cy="201.7" r="2.5"/><circle cx="877.6" cy="202.7" r="2.6"/><circle cx="891.4" cy="204.5" r="2"/><circle cx="725" cy="208.9" r="2.5"/><circle cx="733.6" cy="210.7" r="2.6"/><circle cx="743.9" cy="209.7" r="2"/><circle cx="755.4" cy="211.1" r="2.4"/><circle cx="763" cy="211.3" r="2.4"/><circle cx="777" cy="211.9" r="2.3"/><circle cx="786.1" cy="210.5" r="1.8"/><circle cx="791.2" cy="214.2" r="1.9"/><circle cx="805.6" cy="212.3" r="2.6"/><circle cx="817.4" cy="211.5" r="1.9"/><circle cx="824.9" cy="214.2" r="2"/><circle cx="835" cy="214.4" r="2.1"/><circle cx="843.5" cy="213.9" r="2"/><circle cx="854.2" cy="214.5" r="2.3"/><circle cx="864.6" cy="210.3" r="2"/><circle cx="877" cy="215.2" r="2.2"/><circle cx="885.8" cy="210.6" r="1.8"/><circle cx="893" cy="209.5" r="2.2"/><circle cx="748.1" cy="220.6" r="2.1"/><circle cx="760.5" cy="224.1" r="2.1"/><circle cx="769.6" cy="218.9" r="2.3"/><circle cx="778.2" cy="223.6" r="2"/><circle cx="791" cy="221.8" r="1.7"/><circle cx="796.8" cy="217.7" r="2.4"/><circle cx="809.4" cy="219.8" r="1.8"/><circle cx="818.1" cy="223.1" r="2.3"/><circle cx="830.7" cy="222.2" r="2.4"/><circle cx="838.8" cy="223.2" r="2"/><circle cx="848.1" cy="223" r="2"/><circle cx="857" cy="224.3" r="2.4"/><circle cx="756.9" cy="229.2" r="2.3"/><circle cx="766" cy="226.7" r="1.9"/><circle cx="775" cy="226.3" r="2.3"/><circle cx="783.2" cy="231.3" r="2.4"/><circle cx="797.1" cy="229.7" r="2.3"/><circle cx="805.7" cy="228" r="1.8"/><circle cx="815.4" cy="227.5" r="2"/><circle cx="821.5" cy="232.5" r="1.9"/><circle cx="836.9" cy="229.4" r="2.2"/><circle cx="843.4" cy="233" r="2.2"/><circle cx="853.5" cy="227.5" r="2"/><circle cx="802.8" cy="241" r="1.9"/><circle cx="812.1" cy="240.5" r="1.9"/><circle cx="822" cy="237.6" r="2.5"/></g>
<g fill="none" stroke="rgb(0,8,0)" stroke-linecap="round">
<path d="M667 58 C690 50 720 45 757 44 C800 45 850 52 900 62 C920 66 935 70 945 72" stroke-width="1.8"/>
<path d="M945 72 C955 73 965 74 977 76" stroke-width="3.5"/>
<path d="M945 72 C944 78 943 84 942 92" stroke-width="3"/>
<path d="M945 72 C940 62 934 52 927 42" stroke-width="1.8"/>
<path d="M667 226 C700 235 740 248 790 259" stroke-width="1.2"/>
<path d="M760 276 C790 266 820 256 850 250" stroke-width="1.2"/>
<path d="M884 148 C887 151 890 154 893 157" stroke-width="2.2"/>
</g>
<path d="M950 165 C946 195 942 232 938 276 L956 276 C957 240 958 200 960 168 Z" fill="rgb(1,12,2)" opacity="0.75" filter="url(#blur2)"/>
<path d="M972 105 L977 105 L977 276 L970 276 Z" fill="rgb(0,10,0)" opacity="0.5" filter="url(#blur2)"/>
</g>
<path d="M904 82 C898.2 82.2 888.1 82.3 880 83 C871.9 83.7 867.1 83.8 855.4 86 C843.7 88.2 825 92.5 809.8 96.2 C794.6 99.9 775.5 104.2 764.3 108 C753 111.8 749.3 115.3 742.3 119 C735.2 122.7 728.2 125.7 722 130 C715.8 134.3 709.1 139.5 705 145 C700.9 150.5 698.8 157.7 697.6 163 C696.4 168.3 695.9 170.5 697.6 177 C699.3 183.5 703 195.8 707.8 202.1 C712.6 208.4 718.2 210 726.6 214.7 C735 219.4 745.2 225.6 758 230.4 C770.8 235.2 788.4 243.3 803.6 243.7 C818.8 244.1 834.4 238.2 849 232.7 C863.6 227.2 877.9 218.9 891.5 210.7 C905.1 202.5 920.2 192.3 930.7 183.3 C941.2 174.3 951.1 164.4 954.2 156.6 C957.3 148.8 951.5 144.3 949.5 136.2 C947.5 128.1 944.8 115.9 942 108 C939.2 100.1 937.5 93.3 933 89 C928.5 84.7 919.8 83.2 915 82 C910.2 80.8 909.8 81.8 904 82Z" fill="none" stroke="#fff" stroke-width="4.8" stroke-dasharray="23.5 22.5" stroke-dashoffset="8"/>
<clipPath id="cg2"><rect x="984.5" y="42" width="310.5" height="232.8"/></clipPath>
<g clip-path="url(#cg2)">
<rect x="984.5" y="42" width="310.5" height="232.8" fill="rgb(8,52,9)"/>
<rect x="984.5" y="42" width="310.5" height="232.8" filter="url(#gnoise)" opacity="0.4"/>
<rect x="984.5" y="42" width="310.5" height="232.8" filter="url(#dnoise)" opacity="0.45"/>
<path d="M1128 42 L1300 42 L1300 135 C1285 140 1272 140 1262 135 C1250 130 1240 118 1230 112 C1222 110 1215 115 1208 118 C1195 122 1180 110 1172 95 C1165 85 1158 80 1150 82 C1140 78 1132 62 1128 42 Z" fill="rgb(34,165,38)" opacity="0.75" filter="url(#blur4)"/>
<ellipse cx="1268" cy="62" rx="30" ry="20" fill="rgb(50,205,55)" opacity="0.45" filter="url(#blur4)"/>
<ellipse cx="1170" cy="60" rx="18" ry="16" fill="rgb(50,205,55)" opacity="0.45" filter="url(#blur4)"/>
<ellipse cx="1230" cy="88" rx="20" ry="14" fill="rgb(20,90,22)" opacity="0.5" filter="url(#blur4)"/>
<ellipse cx="1005" cy="90" rx="25" ry="40" fill="rgb(1,12,2)" opacity="0.3" filter="url(#blur8)"/>
<ellipse cx="1020" cy="255" rx="45" ry="20" fill="rgb(1,12,2)" opacity="0.7" filter="url(#blur8)"/>
<ellipse cx="1060" cy="262" rx="40" ry="14" fill="rgb(1,12,2)" opacity="0.5" filter="url(#blur8)"/>
<ellipse cx="1000" cy="200" rx="18" ry="30" fill="rgb(1,12,2)" opacity="0.25" filter="url(#blur8)"/>
<ellipse cx="1010" cy="210" rx="20" ry="14" fill="rgb(30,140,32)" opacity="0.25" filter="url(#blur8)"/>
<g fill="rgb(1,9,2)" opacity="0.92" filter="url(#blur1)"><ellipse cx="991.9" cy="52.2" rx="4" ry="3.4"/><ellipse cx="1004.7" cy="46.9" rx="2.8" ry="2.7"/><ellipse cx="1024.9" cy="56.1" rx="3" ry="2.5"/><ellipse cx="1038.9" cy="54.7" rx="3.1" ry="2.7"/><ellipse cx="1051.2" cy="50.8" rx="3.5" ry="2.9"/><ellipse cx="1070.2" cy="50.4" rx="4.1" ry="3.8"/><ellipse cx="1092.1" cy="54.8" rx="3" ry="2.6"/><ellipse cx="1108" cy="54.9" rx="4" ry="3.3"/><ellipse cx="1122.7" cy="46" rx="3" ry="2.5"/><ellipse cx="1141.3" cy="53.1" rx="3.5" ry="3.5"/><ellipse cx="1161.2" cy="44.9" rx="3.4" ry="3.1"/><ellipse cx="1172.7" cy="47.6" rx="2.6" ry="2.4"/><ellipse cx="1192.4" cy="54.8" rx="2.7" ry="2.3"/><ellipse cx="1207" cy="45.1" rx="3.6" ry="3.3"/><ellipse cx="1231.5" cy="54.9" rx="2.7" ry="2.3"/><ellipse cx="1247" cy="45" rx="2.6" ry="2.6"/><ellipse cx="1257.9" cy="46.6" rx="4.2" ry="3.7"/><ellipse cx="1282.7" cy="46" rx="3.7" ry="3.7"/><ellipse cx="1290.3" cy="47.1" rx="4.1" ry="3.3"/><ellipse cx="1000.7" cy="61.7" rx="2.8" ry="2.7"/><ellipse cx="1020.1" cy="63" rx="3.9" ry="3.4"/><ellipse cx="1033.1" cy="61.6" rx="2.6" ry="2.3"/><ellipse cx="1045.8" cy="69.7" rx="3.4" ry="3.4"/><ellipse cx="1071.2" cy="62.2" rx="2.6" ry="2.2"/><ellipse cx="1080.4" cy="60" rx="2.8" ry="2.3"/><ellipse cx="1095.6" cy="63.9" rx="3.1" ry="2.9"/><ellipse cx="1116.5" cy="66.2" rx="3.1" ry="2.5"/><ellipse cx="1131.4" cy="61.2" rx="4.1" ry="3.3"/><ellipse cx="1150.9" cy="63.5" rx="3" ry="3"/><ellipse cx="1165.4" cy="71" rx="3.2" ry="2.7"/><ellipse cx="1185.3" cy="59.5" rx="3.7" ry="3.2"/><ellipse cx="1206.7" cy="70.9" rx="3.5" ry="3"/><ellipse cx="1216.9" cy="71" rx="3.1" ry="2.9"/><ellipse cx="1230.5" cy="70.3" rx="3.7" ry="3.5"/><ellipse cx="1248.3" cy="69.7" rx="3.7" ry="3.2"/><ellipse cx="1271.4" cy="70.8" rx="2.9" ry="2.4"/><ellipse cx="1283.9" cy="67.1" rx="3" ry="2.8"/><ellipse cx="994" cy="75.6" rx="2.7" ry="2.2"/><ellipse cx="1002" cy="80.8" rx="3.1" ry="2.8"/><ellipse cx="1018.4" cy="74.7" rx="3.2" ry="3"/><ellipse cx="1033.9" cy="78.2" rx="2.8" ry="2.7"/><ellipse cx="1058.5" cy="79.7" rx="3.2" ry="2.8"/><ellipse cx="1075" cy="74.4" rx="4.2" ry="3.7"/><ellipse cx="1086" cy="80.9" rx="3.3" ry="3.1"/><ellipse cx="1103.6" cy="74.2" rx="2.7" ry="2.5"/><ellipse cx="1119.5" cy="81.9" rx="2.5" ry="2.2"/><ellipse cx="1147.3" cy="80" rx="3.2" ry="2.8"/><ellipse cx="1152.8" cy="76.4" rx="2.6" ry="2.6"/><ellipse cx="1177.9" cy="83.6" rx="2.8" ry="2.6"/><ellipse cx="1189.2" cy="79.7" rx="2.6" ry="2.6"/><ellipse cx="1204.2" cy="80.6" rx="3.6" ry="3"/><ellipse cx="1229.8" cy="80.1" rx="3.2" ry="2.9"/><ellipse cx="1247.2" cy="76.9" rx="2.5" ry="2.2"/><ellipse cx="1262.7" cy="79.7" rx="2.9" ry="2.5"/><ellipse cx="1279" cy="75" rx="4.1" ry="3.3"/><ellipse cx="1294.2" cy="81.5" rx="3.1" ry="2.5"/><ellipse cx="994.1" cy="95.5" rx="3.9" ry="3.5"/><ellipse cx="1008.5" cy="93.9" rx="3.2" ry="3"/><ellipse cx="1036.5" cy="96.6" rx="3.9" ry="3.9"/><ellipse cx="1048.3" cy="99.3" rx="4" ry="3.3"/><ellipse cx="1067.6" cy="95" rx="3.3" ry="3"/><ellipse cx="1080.8" cy="99.4" rx="3.7" ry="3.2"/><ellipse cx="1100" cy="94.7" rx="2.8" ry="2.5"/><ellipse cx="1114.7" cy="90.7" rx="4" ry="4"/><ellipse cx="1129.5" cy="96.1" rx="3.7" ry="2.9"/><ellipse cx="1150.7" cy="98.2" rx="3.7" ry="3.2"/><ellipse cx="1166.6" cy="93.5" rx="3.9" ry="3.8"/><ellipse cx="1184.9" cy="91.9" rx="3.4" ry="3.3"/><ellipse cx="1206.8" cy="96.5" rx="3.9" ry="3.9"/><ellipse cx="1215.9" cy="94.8" rx="4.1" ry="3.6"/><ellipse cx="1239.3" cy="100.3" rx="3.1" ry="3"/><ellipse cx="1254.6" cy="99.4" rx="4.1" ry="3.5"/><ellipse cx="1272.9" cy="93.3" rx="4.1" ry="3.7"/><ellipse cx="1285.3" cy="94.5" rx="2.6" ry="2.5"/><ellipse cx="983.4" cy="110.8" rx="3.8" ry="3.6"/><ellipse cx="1006.4" cy="113.1" rx="3.4" ry="2.9"/><ellipse cx="1020.8" cy="115.4" rx="2.8" ry="2.4"/><ellipse cx="1042.6" cy="110.6" rx="2.9" ry="2.6"/><ellipse cx="1144.1" cy="113.4" rx="2.8" ry="2.7"/><ellipse cx="1156.2" cy="106.1" rx="3.9" ry="3.6"/><ellipse cx="1181.3" cy="105.3" rx="3.3" ry="2.7"/><ellipse cx="1198.7" cy="108.4" rx="2.5" ry="2.1"/><ellipse cx="1204" cy="107.3" rx="3.9" ry="3.8"/><ellipse cx="1229.9" cy="108.5" rx="3.2" ry="3.1"/><ellipse cx="1239.4" cy="104.6" rx="3.8" ry="3.8"/><ellipse cx="1255.3" cy="110.5" rx="3.7" ry="3.6"/><ellipse cx="1276.2" cy="111.8" rx="3.1" ry="2.6"/><ellipse cx="1290.3" cy="107.1" rx="4.1" ry="3.4"/><ellipse cx="997.9" cy="122.4" rx="2.5" ry="2.2"/><ellipse cx="1016.6" cy="121.6" rx="4" ry="4"/><ellipse cx="1034.3" cy="126.4" rx="3.3" ry="2.8"/><ellipse cx="1172.4" cy="124.7" rx="2.9" ry="2.7"/><ellipse cx="1186.8" cy="125.7" rx="3.2" ry="2.7"/><ellipse cx="1199.2" cy="120.9" rx="3.3" ry="2.8"/><ellipse cx="1219.7" cy="120.5" rx="4.1" ry="4"/><ellipse cx="1234.6" cy="127.8" rx="4.1" ry="3.9"/><ellipse cx="1250.8" cy="123.6" rx="3.7" ry="3.2"/><ellipse cx="1274.8" cy="125.5" rx="3.6" ry="3.1"/><ellipse cx="1286.7" cy="120.8" rx="2.8" ry="2.7"/><ellipse cx="991.7" cy="137.7" rx="3.1" ry="2.8"/><ellipse cx="1008.3" cy="144.7" rx="3" ry="2.6"/><ellipse cx="1026.7" cy="135.9" rx="2.8" ry="2.6"/><ellipse cx="1189.9" cy="133.5" rx="2.9" ry="2.3"/><ellipse cx="1208.1" cy="144.1" rx="3.2" ry="2.8"/><ellipse cx="1229.4" cy="134" rx="3" ry="2.9"/><ellipse cx="1241.9" cy="138.5" rx="3.5" ry="3.1"/><ellipse cx="1261" cy="139.4" rx="2.7" ry="2.4"/><ellipse cx="1281.8" cy="135.6" rx="4" ry="3.3"/><ellipse cx="1296.4" cy="141" rx="3.5" ry="3"/><ellipse cx="991.4" cy="149.8" rx="2.9" ry="2.6"/><ellipse cx="1009.7" cy="155.4" rx="3.3" ry="2.8"/><ellipse cx="1035.6" cy="158.6" rx="3.6" ry="3.1"/><ellipse cx="1222.8" cy="149.6" rx="2.6" ry="2.2"/><ellipse cx="1238.5" cy="149.6" rx="4.1" ry="3.5"/><ellipse cx="1256.8" cy="157.1" rx="3.1" ry="2.8"/><ellipse cx="1272.6" cy="158.3" rx="3.4" ry="3.2"/><ellipse cx="1280.8" cy="149" rx="3.3" ry="2.8"/><ellipse cx="987.8" cy="163.6" rx="3.9" ry="3.4"/><ellipse cx="1010.7" cy="164.9" rx="2.9" ry="2.4"/><ellipse cx="1019.5" cy="171.5" rx="3.3" ry="2.7"/><ellipse cx="1035" cy="173.1" rx="4.1" ry="3.8"/><ellipse cx="1226.9" cy="167.7" rx="3.2" ry="2.6"/><ellipse cx="1239.8" cy="166.8" rx="2.5" ry="2.2"/><ellipse cx="1264.3" cy="170.4" rx="3.2" ry="2.7"/><ellipse cx="1274.7" cy="169.9" rx="3.1" ry="3"/><ellipse cx="1300.7" cy="164.7" rx="3.2" ry="2.9"/><ellipse cx="1000" cy="179.2" rx="3.8" ry="3.2"/><ellipse cx="1011.4" cy="179.1" rx="2.7" ry="2.5"/><ellipse cx="1032.2" cy="185.5" rx="2.6" ry="2.4"/><ellipse cx="1214" cy="183.3" rx="3.3" ry="3.1"/><ellipse cx="1233" cy="183.3" rx="3.4" ry="2.7"/><ellipse cx="1253.7" cy="179" rx="3.4" ry="3.1"/><ellipse cx="1268.9" cy="182.7" rx="2.8" ry="2.4"/><ellipse cx="1291.2" cy="188.9" rx="2.8" ry="2.6"/><ellipse cx="986" cy="196.8" rx="3.2" ry="3.1"/><ellipse cx="1005.2" cy="196.2" rx="2.8" ry="2.4"/><ellipse cx="1028.1" cy="202.7" rx="3.3" ry="3.1"/><ellipse cx="1035.9" cy="202.4" rx="2.9" ry="2.6"/><ellipse cx="1060.8" cy="202.8" rx="3.2" ry="3"/><ellipse cx="1210.6" cy="195.1" rx="2.8" ry="2.7"/><ellipse cx="1228.9" cy="193.7" rx="3.1" ry="3"/><ellipse cx="1239.7" cy="196" rx="3" ry="2.8"/><ellipse cx="1260.8" cy="199.5" rx="2.8" ry="2.4"/><ellipse cx="1280.3" cy="199.3" rx="4" ry="4"/><ellipse cx="1293.9" cy="202.8" rx="3.4" ry="2.7"/><ellipse cx="997.6" cy="213" rx="3.8" ry="3.6"/><ellipse cx="1010.9" cy="216.1" rx="2.7" ry="2.2"/><ellipse cx="1025.9" cy="216.8" rx="4" ry="3.2"/><ellipse cx="1050.2" cy="219.2" rx="3.2" ry="2.7"/><ellipse cx="1069.4" cy="213.3" rx="2.8" ry="2.2"/><ellipse cx="1170.2" cy="214.5" rx="4.1" ry="3.7"/><ellipse cx="1180.1" cy="213.1" rx="4.2" ry="4"/><ellipse cx="1201.4" cy="214" rx="4" ry="4"/><ellipse cx="1224.1" cy="212.6" rx="3.1" ry="2.6"/><ellipse cx="1237.7" cy="215.1" rx="2.5" ry="2.4"/><ellipse cx="1247.5" cy="218.8" rx="3.4" ry="2.8"/><ellipse cx="1268.2" cy="218.7" rx="2.6" ry="2.2"/><ellipse cx="1290.7" cy="210.8" rx="3.6" ry="3.6"/><ellipse cx="989.9" cy="229.8" rx="4" ry="3.7"/><ellipse cx="1008.3" cy="225.2" rx="3.5" ry="3.2"/><ellipse cx="1019" cy="224.4" rx="2.5" ry="2.3"/><ellipse cx="1038.1" cy="233.5" rx="2.9" ry="2.7"/><ellipse cx="1055.8" cy="229.8" rx="3.8" ry="3.8"/><ellipse cx="1079.7" cy="223.9" rx="3.3" ry="2.9"/><ellipse cx="1089.5" cy="233.3" rx="4" ry="3.9"/><ellipse cx="1163.3" cy="226" rx="3.6" ry="3.6"/><ellipse cx="1172" cy="231.3" rx="3.9" ry="3.3"/><ellipse cx="1189.2" cy="230" rx="3.4" ry="3.2"/><ellipse cx="1213.4" cy="231.2" rx="3.1" ry="2.8"/><ellipse cx="1229.3" cy="225.4" rx="3.3" ry="2.7"/><ellipse cx="1244.7" cy="229.1" rx="4.1" ry="3.7"/><ellipse cx="1258" cy="231.3" rx="2.5" ry="2.4"/><ellipse cx="1282.5" cy="233.1" rx="2.9" ry="2.4"/><ellipse cx="1294.9" cy="230.4" rx="3.2" ry="2.6"/><ellipse cx="1002.8" cy="243.4" rx="4" ry="3.7"/><ellipse cx="1013.3" cy="240.5" rx="2.5" ry="2.4"/><ellipse cx="1026" cy="247.1" rx="4" ry="3.4"/><ellipse cx="1054.2" cy="243.3" rx="3" ry="2.4"/><ellipse cx="1068.8" cy="247.6" rx="3.8" ry="3.1"/><ellipse cx="1076.8" cy="241.3" rx="3.1" ry="2.8"/><ellipse cx="1099.7" cy="244.2" rx="3.4" ry="3.1"/><ellipse cx="1112.1" cy="242.2" rx="3.2" ry="2.9"/><ellipse cx="1153" cy="246" rx="2.7" ry="2.5"/><ellipse cx="1172.7" cy="244.8" rx="4.1" ry="3.6"/><ellipse cx="1187.8" cy="244.7" rx="2.7" ry="2.6"/><ellipse cx="1197.8" cy="240.6" rx="4.1" ry="3.6"/><ellipse cx="1214.6" cy="242.9" rx="3.8" ry="3.5"/><ellipse cx="1238.9" cy="243.4" rx="2.9" ry="2.6"/><ellipse cx="1246.6" cy="237.7" rx="3.5" ry="2.8"/><ellipse cx="1271.3" cy="244.1" rx="2.9" ry="2.5"/><ellipse cx="1287.3" cy="240" rx="4" ry="3.8"/><ellipse cx="985.2" cy="260" rx="3.5" ry="2.9"/><ellipse cx="1002.7" cy="256.8" rx="3.1" ry="2.7"/><ellipse cx="1025.6" cy="252.7" rx="3.3" ry="2.9"/><ellipse cx="1043" cy="254.3" rx="3.7" ry="3.3"/><ellipse cx="1061" cy="261" rx="3.6" ry="3.3"/><ellipse cx="1076.5" cy="262.6" rx="3.4" ry="2.8"/><ellipse cx="1096.2" cy="261.3" rx="4.2" ry="4.1"/><ellipse cx="1104" cy="261.3" rx="3.1" ry="2.8"/><ellipse cx="1120.1" cy="253.9" rx="3.7" ry="3.1"/><ellipse cx="1145.9" cy="256.1" rx="2.9" ry="2.8"/><ellipse cx="1162.1" cy="254.3" rx="2.6" ry="2.4"/><ellipse cx="1171.2" cy="252.1" rx="3.1" ry="2.6"/><ellipse cx="1197.4" cy="261.9" rx="3.3" ry="3"/><ellipse cx="1215.2" cy="257.6" rx="3.3" ry="3.3"/><ellipse cx="1230" cy="256.1" rx="3.6" ry="3.2"/><ellipse cx="1239.5" cy="254.5" rx="3.7" ry="3"/><ellipse cx="1261.4" cy="257.8" rx="4" ry="3.9"/><ellipse cx="1272.5" cy="257.5" rx="3.7" ry="3.2"/><ellipse cx="1293.1" cy="251.8" rx="3.1" ry="2.9"/><ellipse cx="991.9" cy="270.7" rx="2.9" ry="2.6"/><ellipse cx="1020.1" cy="275.3" rx="3.4" ry="3"/><ellipse cx="1028.9" cy="273.6" rx="3.8" ry="3.4"/><ellipse cx="1053.8" cy="272.2" rx="2.7" ry="2.6"/><ellipse cx="1059.9" cy="276.2" rx="3.9" ry="3.5"/><ellipse cx="1084.5" cy="276.3" rx="2.8" ry="2.5"/><ellipse cx="1103.1" cy="277.9" rx="2.8" ry="2.5"/><ellipse cx="1119.5" cy="269.3" rx="3.1" ry="2.9"/><ellipse cx="1127.6" cy="269.2" rx="2.7" ry="2.6"/><ellipse cx="1149.4" cy="269.8" rx="2.7" ry="2.3"/><ellipse cx="1166.9" cy="269.6" rx="3.6" ry="3.2"/><ellipse cx="1186.1" cy="269.4" rx="2.9" ry="2.4"/><ellipse cx="1200.9" cy="267.5" rx="2.6" ry="2.5"/><ellipse cx="1219.4" cy="277.7" rx="3.4" ry="3.2"/><ellipse cx="1239" cy="270.5" rx="3.2" ry="2.7"/><ellipse cx="1256.5" cy="276.3" rx="2.9" ry="2.7"/><ellipse cx="1268.6" cy="277" rx="2.8" ry="2.2"/><ellipse cx="1281.8" cy="267.8" rx="2.6" ry="2.5"/></g>
<path d="M1089.5 101.1 C1097.1 101.4 1103.6 104.1 1111.6 105.8 C1119.6 107.5 1129.6 108.5 1137.5 111.3 C1145.4 114 1151.7 118.1 1158.8 122.3 C1165.9 126.5 1172.9 132.8 1180.1 136.5 C1187.3 140.2 1196.3 141.8 1202.1 144.4 C1207.9 147 1211.7 149.1 1215 152 C1218.3 154.9 1221.7 156.8 1221.8 161.7 C1221.9 166.6 1220 175.5 1215.5 181.4 C1211 187.3 1201.8 192.2 1195 197.1 C1188.2 201.9 1181.5 206 1174.6 210.5 C1167.6 215 1160.1 219.3 1153.3 223.9 C1146.5 228.5 1141.1 235.9 1133.6 238.1 C1126.1 240.3 1115.5 239.9 1108.4 237.3 C1101.3 234.7 1097.5 227.4 1091.1 222.3 C1084.7 217.2 1076.4 211.7 1069.8 206.6 C1063.2 201.5 1056.3 198 1051.7 191.6 C1047.1 185.2 1044.4 175.9 1042.3 168 C1040.2 160.1 1038.3 152.4 1039.1 144.4 C1039.9 136.4 1042.5 126.7 1047 120 C1051.5 113.3 1058.8 107.4 1065.9 104.2 C1073 101 1081.9 100.8 1089.5 101.1Z" fill="rgb(3,16,4)" opacity="0.95" filter="url(#blur2)"/>
<clipPath id="cg2i"><path d="M1089.5 101.1 C1097.1 101.4 1103.6 104.1 1111.6 105.8 C1119.6 107.5 1129.6 108.5 1137.5 111.3 C1145.4 114 1151.7 118.1 1158.8 122.3 C1165.9 126.5 1172.9 132.8 1180.1 136.5 C1187.3 140.2 1196.3 141.8 1202.1 144.4 C1207.9 147 1211.7 149.1 1215 152 C1218.3 154.9 1221.7 156.8 1221.8 161.7 C1221.9 166.6 1220 175.5 1215.5 181.4 C1211 187.3 1201.8 192.2 1195 197.1 C1188.2 201.9 1181.5 206 1174.6 210.5 C1167.6 215 1160.1 219.3 1153.3 223.9 C1146.5 228.5 1141.1 235.9 1133.6 238.1 C1126.1 240.3 1115.5 239.9 1108.4 237.3 C1101.3 234.7 1097.5 227.4 1091.1 222.3 C1084.7 217.2 1076.4 211.7 1069.8 206.6 C1063.2 201.5 1056.3 198 1051.7 191.6 C1047.1 185.2 1044.4 175.9 1042.3 168 C1040.2 160.1 1038.3 152.4 1039.1 144.4 C1039.9 136.4 1042.5 126.7 1047 120 C1051.5 113.3 1058.8 107.4 1065.9 104.2 C1073 101 1081.9 100.8 1089.5 101.1Z"/></clipPath>
<rect x="984.5" y="42" width="310.5" height="232.8" filter="url(#gnoise2)" opacity="0.12" clip-path="url(#cg2i)"/>
<path d="M1200 150 C1215 140 1225 125 1235 118 C1245 112 1252 108 1256 118 C1258 135 1250 160 1245 180 C1240 200 1238 230 1236 250 L1226 250 C1226 220 1224 190 1222 175 Z" fill="rgb(0,6,0)" opacity="0.95" filter="url(#blur2)"/>
<path d="M1088 102 C1098 90 1108 80 1116 78 C1124 85 1130 95 1132 108 Z" fill="rgb(0,10,0)" opacity="0.6" filter="url(#blur2)"/>
<g fill="none" stroke="rgb(0,8,0)" stroke-linecap="round">
<path d="M1298 92 C1282 100 1265 115 1252 135 C1242 150 1236 165 1233 176" stroke-width="2.2"/>
<path d="M984.5 240 C1010 246 1040 250 1070 248 C1100 246 1130 240 1160 230" stroke-width="5" opacity="0.7"/>
</g>
</g>
<path d="M1089.5 101.1 C1097.1 101.4 1103.6 104.1 1111.6 105.8 C1119.6 107.5 1129.6 108.5 1137.5 111.3 C1145.4 114 1151.7 118.1 1158.8 122.3 C1165.9 126.5 1172.9 132.8 1180.1 136.5 C1187.3 140.2 1196.3 141.8 1202.1 144.4 C1207.9 147 1211.7 149.1 1215 152 C1218.3 154.9 1221.7 156.8 1221.8 161.7 C1221.9 166.6 1220 175.5 1215.5 181.4 C1211 187.3 1201.8 192.2 1195 197.1 C1188.2 201.9 1181.5 206 1174.6 210.5 C1167.6 215 1160.1 219.3 1153.3 223.9 C1146.5 228.5 1141.1 235.9 1133.6 238.1 C1126.1 240.3 1115.5 239.9 1108.4 237.3 C1101.3 234.7 1097.5 227.4 1091.1 222.3 C1084.7 217.2 1076.4 211.7 1069.8 206.6 C1063.2 201.5 1056.3 198 1051.7 191.6 C1047.1 185.2 1044.4 175.9 1042.3 168 C1040.2 160.1 1038.3 152.4 1039.1 144.4 C1039.9 136.4 1042.5 126.7 1047 120 C1051.5 113.3 1058.8 107.4 1065.9 104.2 C1073 101 1081.9 100.8 1089.5 101.1Z" fill="none" stroke="#fff" stroke-width="4.8" stroke-dasharray="23 23" stroke-dashoffset="4"/>
<clipPath id="ci1"><rect x="667" y="282.2" width="310.5" height="232.6"/></clipPath>
<g clip-path="url(#ci1)">
<rect x="667" y="282.2" width="310.5" height="232.6" fill="rgb(229,230,241)"/>
<rect x="667" y="282.2" width="310.5" height="232.6" filter="url(#inoise)" opacity="0.6"/>
<path d="M814.5 326 C821.7 325.8 828.6 328.2 835.7 330.7 C842.8 333.2 850.5 337.2 857 340.9 C863.5 344.5 869 347.9 875 352.6 C881 357.3 887.5 363.7 893 369.1 C898.5 374.5 904.2 378.7 908 384.8 C911.8 390.9 913.8 400.6 915.8 406 C917.8 411.4 920.6 413.7 919.7 417 C918.8 420.3 915.3 421.6 910.3 425.6 C905.3 429.7 897 436.9 889.9 441.3 C882.8 445.8 875.8 448.9 867.9 452.3 C860 455.7 850.8 458.8 842.8 461.7 C834.8 464.6 828.1 468.4 820 469.6 C811.9 470.8 802.3 470 794.1 468.8 C785.9 467.6 778.3 465.5 770.6 462.5 C762.9 459.5 754.6 455 747.8 450.7 C741 446.4 734.5 443.5 729.8 436.6 C725.1 429.7 722.1 415.4 719.6 409.1 C717.1 402.8 714.4 402.3 714.9 398.9 C715.4 395.5 719.1 393.4 722.7 388.7 C726.4 384 731.7 376.3 736.8 370.7 C741.9 365.1 747.4 359.7 753.3 355 C759.2 350.3 765.7 346.2 772.2 342.4 C778.8 338.6 785.6 334.9 792.6 332.2 C799.6 329.5 807.3 326.2 814.5 326Z" fill="rgb(228,214,196)" opacity="0.75" filter="url(#blur4)"/>
<clipPath id="ci1i"><path d="M814.5 326 C821.7 325.8 828.6 328.2 835.7 330.7 C842.8 333.2 850.5 337.2 857 340.9 C863.5 344.5 869 347.9 875 352.6 C881 357.3 887.5 363.7 893 369.1 C898.5 374.5 904.2 378.7 908 384.8 C911.8 390.9 913.8 400.6 915.8 406 C917.8 411.4 920.6 413.7 919.7 417 C918.8 420.3 915.3 421.6 910.3 425.6 C905.3 429.7 897 436.9 889.9 441.3 C882.8 445.8 875.8 448.9 867.9 452.3 C860 455.7 850.8 458.8 842.8 461.7 C834.8 464.6 828.1 468.4 820 469.6 C811.9 470.8 802.3 470 794.1 468.8 C785.9 467.6 778.3 465.5 770.6 462.5 C762.9 459.5 754.6 455 747.8 450.7 C741 446.4 734.5 443.5 729.8 436.6 C725.1 429.7 722.1 415.4 719.6 409.1 C717.1 402.8 714.4 402.3 714.9 398.9 C715.4 395.5 719.1 393.4 722.7 388.7 C726.4 384 731.7 376.3 736.8 370.7 C741.9 365.1 747.4 359.7 753.3 355 C759.2 350.3 765.7 346.2 772.2 342.4 C778.8 338.6 785.6 334.9 792.6 332.2 C799.6 329.5 807.3 326.2 814.5 326Z"/></clipPath>
<rect x="667" y="282.2" width="310.5" height="232.6" filter="url(#bnoise)" opacity="0.55" clip-path="url(#ci1i)"/>
<path d="M740 282 L840 282 C860 300 880 320 900 340 C915 360 925 390 935 420 C920 430 900 440 880 440 C870 420 860 400 850 380 C830 350 800 320 770 300 Z" fill="rgb(170,170,215)" opacity="0.35" filter="url(#blur8)"/>
<g opacity="0.9" filter="url(#blur1)"><ellipse cx="666.1" cy="295.9" rx="4" ry="3.8" fill="rgb(142,151,204)"/><ellipse cx="684.9" cy="296.1" rx="4.3" ry="3.8" fill="rgb(140,148,202)"/><ellipse cx="710.2" cy="288" rx="3.4" ry="3.3" fill="rgb(120,128,190)"/><ellipse cx="722.4" cy="289.6" rx="4.1" ry="3.8" fill="rgb(139,147,202)"/><ellipse cx="738.3" cy="293.9" rx="4.2" ry="4" fill="rgb(91,101,174)"/><ellipse cx="759.9" cy="288" rx="3.4" ry="3.1" fill="rgb(90,100,173)"/><ellipse cx="773.7" cy="292.7" rx="4.5" ry="3.8" fill="rgb(146,154,205)"/><ellipse cx="791.3" cy="286.5" rx="4.5" ry="3.8" fill="rgb(100,110,179)"/><ellipse cx="806.1" cy="290.6" rx="3.5" ry="3.1" fill="rgb(147,155,206)"/><ellipse cx="828.9" cy="294.2" rx="4.4" ry="4" fill="rgb(137,145,200)"/><ellipse cx="843.2" cy="288.3" rx="3.6" ry="3.6" fill="rgb(102,112,180)"/><ellipse cx="863.1" cy="287.7" rx="3.8" ry="3.3" fill="rgb(129,138,196)"/><ellipse cx="873.5" cy="286.9" rx="3.4" ry="3.1" fill="rgb(116,125,188)"/><ellipse cx="893.2" cy="294" rx="3.6" ry="3.1" fill="rgb(115,124,188)"/><ellipse cx="911.5" cy="294.3" rx="4.3" ry="3.8" fill="rgb(113,122,186)"/><ellipse cx="928.5" cy="292.4" rx="4.2" ry="4.2" fill="rgb(121,130,191)"/><ellipse cx="940.5" cy="295.7" rx="4.2" ry="3.7" fill="rgb(146,154,206)"/><ellipse cx="965.6" cy="293.3" rx="3.4" ry="3.1" fill="rgb(127,135,194)"/><ellipse cx="982.7" cy="294.9" rx="3.4" ry="2.9" fill="rgb(103,113,181)"/><ellipse cx="683.9" cy="308.3" rx="3.7" ry="3.3" fill="rgb(129,138,196)"/><ellipse cx="700.2" cy="307.6" rx="3.5" ry="3.3" fill="rgb(146,154,206)"/><ellipse cx="709.7" cy="309.2" rx="4.3" ry="3.9" fill="rgb(114,123,187)"/><ellipse cx="729.1" cy="307.1" rx="3.6" ry="3.5" fill="rgb(109,118,184)"/><ellipse cx="752.1" cy="305.4" rx="3.9" ry="3.8" fill="rgb(95,105,176)"/><ellipse cx="762.2" cy="306.1" rx="4.2" ry="3.7" fill="rgb(100,109,179)"/><ellipse cx="785.9" cy="309.2" rx="4.2" ry="4.1" fill="rgb(106,116,182)"/><ellipse cx="804.2" cy="310" rx="4.3" ry="3.7" fill="rgb(101,110,179)"/><ellipse cx="819.1" cy="305.3" rx="3.9" ry="3.7" fill="rgb(92,102,174)"/><ellipse cx="829.3" cy="310.3" rx="4.2" ry="3.8" fill="rgb(110,119,185)"/><ellipse cx="844.7" cy="310.4" rx="3.5" ry="3.4" fill="rgb(142,151,204)"/><ellipse cx="868.3" cy="302.6" rx="4.2" ry="4.1" fill="rgb(124,133,193)"/><ellipse cx="880.1" cy="307.9" rx="3.3" ry="3.1" fill="rgb(98,108,178)"/><ellipse cx="896" cy="304.7" rx="3.6" ry="3.2" fill="rgb(98,107,177)"/><ellipse cx="913.4" cy="301.5" rx="3.9" ry="3.8" fill="rgb(129,138,196)"/><ellipse cx="932" cy="307.2" rx="4.4" ry="4.2" fill="rgb(147,155,206)"/><ellipse cx="946.5" cy="309.4" rx="3.3" ry="3.3" fill="rgb(134,142,198)"/><ellipse cx="970.2" cy="302.8" rx="3.5" ry="3.4" fill="rgb(140,149,202)"/><ellipse cx="673.6" cy="315.5" rx="3.8" ry="3.5" fill="rgb(89,99,173)"/><ellipse cx="685.5" cy="320.3" rx="3.8" ry="3.8" fill="rgb(96,106,176)"/><ellipse cx="709.1" cy="322.2" rx="4.3" ry="3.9" fill="rgb(128,137,195)"/><ellipse cx="717.2" cy="325.3" rx="4.2" ry="3.9" fill="rgb(103,112,180)"/><ellipse cx="735.4" cy="316.8" rx="3.3" ry="3" fill="rgb(136,145,200)"/><ellipse cx="757.1" cy="315.6" rx="3.7" ry="3.6" fill="rgb(138,147,201)"/><ellipse cx="772.3" cy="317.1" rx="3.9" ry="3.7" fill="rgb(102,111,180)"/><ellipse cx="789.7" cy="318.6" rx="3.5" ry="3.2" fill="rgb(141,149,203)"/><ellipse cx="806.4" cy="318.5" rx="4.3" ry="3.9" fill="rgb(112,121,186)"/><ellipse cx="824" cy="322" rx="4.1" ry="3.7" fill="rgb(97,106,177)"/><ellipse cx="840.4" cy="320.6" rx="3.6" ry="3.3" fill="rgb(147,155,206)"/><ellipse cx="856" cy="319.2" rx="3.3" ry="2.8" fill="rgb(129,138,196)"/><ellipse cx="870.6" cy="319.8" rx="3.5" ry="3.4" fill="rgb(136,145,200)"/><ellipse cx="892.3" cy="316.5" rx="4.1" ry="3.5" fill="rgb(105,114,182)"/><ellipse cx="907.2" cy="320.9" rx="3.6" ry="3.1" fill="rgb(94,104,175)"/><ellipse cx="926.1" cy="321.7" rx="4.1" ry="3.5" fill="rgb(123,132,192)"/><ellipse cx="940.6" cy="323.8" rx="3.6" ry="3.5" fill="rgb(125,134,194)"/><ellipse cx="956.4" cy="324.9" rx="3.7" ry="3.2" fill="rgb(96,106,177)"/><ellipse cx="975.5" cy="317.7" rx="4.1" ry="4.1" fill="rgb(131,140,197)"/><ellipse cx="677.9" cy="340" rx="4.3" ry="3.8" fill="rgb(116,125,188)"/><ellipse cx="698.9" cy="339.9" rx="3.9" ry="3.8" fill="rgb(139,147,202)"/><ellipse cx="719.2" cy="334.7" rx="3.8" ry="3.8" fill="rgb(105,114,182)"/><ellipse cx="734.1" cy="330.1" rx="4" ry="3.9" fill="rgb(90,100,173)"/><ellipse cx="751.2" cy="332.4" rx="3.5" ry="3.3" fill="rgb(135,144,199)"/><ellipse cx="762.9" cy="336.9" rx="4.4" ry="3.8" fill="rgb(119,128,190)"/><ellipse cx="781.8" cy="335.6" rx="3.3" ry="3" fill="rgb(89,99,172)"/><ellipse cx="845.2" cy="332.4" rx="4.1" ry="3.6" fill="rgb(119,128,190)"/><ellipse cx="864.2" cy="329.9" rx="4.4" ry="4" fill="rgb(90,100,173)"/><ellipse cx="882.5" cy="340.3" rx="4.3" ry="3.8" fill="rgb(116,125,188)"/><ellipse cx="904.7" cy="330" rx="3.8" ry="3.6" fill="rgb(124,133,193)"/><ellipse cx="923.1" cy="339.5" rx="3.9" ry="3.7" fill="rgb(111,120,185)"/><ellipse cx="938.7" cy="331.5" rx="4.1" ry="3.6" fill="rgb(132,141,198)"/><ellipse cx="949.7" cy="331.3" rx="3.9" ry="3.5" fill="rgb(109,118,184)"/><ellipse cx="971.4" cy="337.5" rx="3.4" ry="2.9" fill="rgb(88,98,172)"/><ellipse cx="668.8" cy="354.9" rx="4.4" ry="4.1" fill="rgb(145,153,205)"/><ellipse cx="690.8" cy="352.2" rx="3.9" ry="3.7" fill="rgb(115,124,188)"/><ellipse cx="704.4" cy="353.8" rx="3.7" ry="3.2" fill="rgb(135,144,199)"/><ellipse cx="722.8" cy="352.9" rx="4.1" ry="3.9" fill="rgb(115,125,188)"/><ellipse cx="743.8" cy="345.1" rx="3.5" ry="3" fill="rgb(114,123,187)"/><ellipse cx="751.3" cy="347" rx="4" ry="3.9" fill="rgb(120,128,190)"/><ellipse cx="875.3" cy="345.8" rx="4" ry="3.5" fill="rgb(90,100,173)"/><ellipse cx="896.3" cy="345.9" rx="4.1" ry="3.8" fill="rgb(135,144,199)"/><ellipse cx="912.2" cy="350.1" rx="4" ry="3.6" fill="rgb(103,112,180)"/><ellipse cx="920.9" cy="354.9" rx="4.2" ry="3.8" fill="rgb(90,100,173)"/><ellipse cx="946" cy="345.5" rx="3.7" ry="3.4" fill="rgb(128,136,195)"/><ellipse cx="956.7" cy="354.7" rx="4.4" ry="3.8" fill="rgb(127,136,195)"/><ellipse cx="976.7" cy="350.6" rx="4.3" ry="4" fill="rgb(111,120,185)"/><ellipse cx="678.9" cy="359.2" rx="3.3" ry="3.2" fill="rgb(140,149,202)"/><ellipse cx="692.1" cy="362.1" rx="4" ry="3.7" fill="rgb(94,104,176)"/><ellipse cx="709.6" cy="363.6" rx="3.7" ry="3.6" fill="rgb(141,149,202)"/><ellipse cx="729.6" cy="367.5" rx="3.5" ry="3.5" fill="rgb(112,121,186)"/><ellipse cx="888.4" cy="362.1" rx="4.3" ry="4.2" fill="rgb(93,102,174)"/><ellipse cx="902.1" cy="365.4" rx="3.8" ry="3.2" fill="rgb(123,132,192)"/><ellipse cx="923.1" cy="365.7" rx="4.5" ry="3.9" fill="rgb(139,148,202)"/><ellipse cx="938.2" cy="361.2" rx="3.8" ry="3.5" fill="rgb(131,140,197)"/><ellipse cx="955" cy="364.5" rx="4.4" ry="3.9" fill="rgb(133,142,198)"/><ellipse cx="971.6" cy="366.2" rx="4.4" ry="4.3" fill="rgb(114,123,187)"/><ellipse cx="667.3" cy="378.4" rx="4.4" ry="4.4" fill="rgb(145,153,205)"/><ellipse cx="689.5" cy="376" rx="4.4" ry="4.3" fill="rgb(102,111,180)"/><ellipse cx="703.3" cy="377.1" rx="3.9" ry="3.6" fill="rgb(138,147,201)"/><ellipse cx="721.8" cy="383.6" rx="4.3" ry="4.1" fill="rgb(133,142,198)"/><ellipse cx="906" cy="377.6" rx="4.1" ry="3.5" fill="rgb(144,152,204)"/><ellipse cx="929.5" cy="384.4" rx="3.7" ry="3.4" fill="rgb(91,101,173)"/><ellipse cx="945.5" cy="378.6" rx="3.6" ry="3.5" fill="rgb(121,130,191)"/><ellipse cx="962.2" cy="383.8" rx="4" ry="3.7" fill="rgb(119,128,190)"/><ellipse cx="972.7" cy="374.7" rx="4.4" ry="3.9" fill="rgb(144,152,204)"/><ellipse cx="680.9" cy="399.1" rx="4.1" ry="3.6" fill="rgb(101,111,180)"/><ellipse cx="701.4" cy="391.2" rx="3.7" ry="3.7" fill="rgb(146,154,205)"/><ellipse cx="712.1" cy="397" rx="3.5" ry="3.3" fill="rgb(131,140,197)"/><ellipse cx="912.7" cy="393.3" rx="3.4" ry="3" fill="rgb(91,101,174)"/><ellipse cx="929.4" cy="388.9" rx="3.9" ry="3.5" fill="rgb(135,144,199)"/><ellipse cx="947.1" cy="390" rx="3.6" ry="3.1" fill="rgb(98,108,178)"/><ellipse cx="972.9" cy="397" rx="4.1" ry="3.9" fill="rgb(137,145,200)"/><ellipse cx="668.5" cy="404.4" rx="4.5" ry="3.9" fill="rgb(108,117,183)"/><ellipse cx="683.1" cy="408.2" rx="4.4" ry="4.1" fill="rgb(127,135,194)"/><ellipse cx="704.7" cy="413.5" rx="4.3" ry="4" fill="rgb(118,127,190)"/><ellipse cx="920.8" cy="408.6" rx="3.5" ry="3.4" fill="rgb(121,130,191)"/><ellipse cx="938.7" cy="411.2" rx="3.9" ry="3.8" fill="rgb(103,112,181)"/><ellipse cx="961.2" cy="409.6" rx="4.2" ry="3.6" fill="rgb(118,127,189)"/><ellipse cx="979.3" cy="405.2" rx="4" ry="3.7" fill="rgb(124,133,193)"/><ellipse cx="684.4" cy="427.9" rx="3.9" ry="3.6" fill="rgb(115,124,188)"/><ellipse cx="694.2" cy="424.6" rx="3.5" ry="3.3" fill="rgb(97,106,177)"/><ellipse cx="714.1" cy="428.3" rx="3.3" ry="3.1" fill="rgb(90,100,173)"/><ellipse cx="918.1" cy="421" rx="3.3" ry="3.2" fill="rgb(119,128,190)"/><ellipse cx="937.7" cy="420" rx="3.9" ry="3.8" fill="rgb(90,100,173)"/><ellipse cx="953.2" cy="425.5" rx="4.4" ry="4.1" fill="rgb(105,114,182)"/><ellipse cx="964.2" cy="424.8" rx="4.2" ry="3.7" fill="rgb(125,134,193)"/><ellipse cx="668.9" cy="443.2" rx="4.1" ry="3.9" fill="rgb(92,102,174)"/><ellipse cx="693" cy="436.4" rx="4" ry="3.6" fill="rgb(113,122,186)"/><ellipse cx="709.9" cy="437.4" rx="3.3" ry="2.9" fill="rgb(106,116,183)"/><ellipse cx="721.7" cy="439.3" rx="4.1" ry="3.5" fill="rgb(111,121,185)"/><ellipse cx="894.3" cy="440.2" rx="4.3" ry="4.3" fill="rgb(144,152,205)"/><ellipse cx="905.3" cy="436.8" rx="3.4" ry="3.1" fill="rgb(98,108,178)"/><ellipse cx="926.5" cy="442.5" rx="3.5" ry="3.2" fill="rgb(94,104,176)"/><ellipse cx="939" cy="442.1" rx="3.5" ry="3" fill="rgb(143,151,204)"/><ellipse cx="962.7" cy="439.2" rx="3.8" ry="3.6" fill="rgb(132,141,198)"/><ellipse cx="972.7" cy="435.8" rx="3.8" ry="3.3" fill="rgb(96,105,176)"/><ellipse cx="682.8" cy="454.9" rx="3.4" ry="3.2" fill="rgb(117,126,189)"/><ellipse cx="693" cy="454.2" rx="3.3" ry="3.2" fill="rgb(147,155,206)"/><ellipse cx="712.2" cy="456.6" rx="4.3" ry="3.7" fill="rgb(134,143,199)"/><ellipse cx="726.1" cy="451.1" rx="3.4" ry="3.1" fill="rgb(90,100,173)"/><ellipse cx="744.3" cy="455.4" rx="3.5" ry="3.3" fill="rgb(107,116,183)"/><ellipse cx="869.3" cy="455.4" rx="3.9" ry="3.4" fill="rgb(131,139,197)"/><ellipse cx="881.2" cy="450.3" rx="4.3" ry="3.9" fill="rgb(127,136,195)"/><ellipse cx="906.1" cy="451.7" rx="3.4" ry="3.2" fill="rgb(132,140,197)"/><ellipse cx="917.6" cy="450.4" rx="3.9" ry="3.7" fill="rgb(142,150,203)"/><ellipse cx="929.3" cy="453.6" rx="4" ry="3.6" fill="rgb(127,135,194)"/><ellipse cx="953.7" cy="450.9" rx="3.6" ry="3.3" fill="rgb(96,106,177)"/><ellipse cx="967.4" cy="456.6" rx="4.2" ry="3.7" fill="rgb(110,119,184)"/><ellipse cx="670.4" cy="466.8" rx="4.2" ry="4.1" fill="rgb(131,139,197)"/><ellipse cx="686" cy="468.9" rx="3.5" ry="3.4" fill="rgb(90,100,173)"/><ellipse cx="710.7" cy="465.3" rx="4.4" ry="4" fill="rgb(119,128,190)"/><ellipse cx="721.9" cy="465.2" rx="3.3" ry="3.3" fill="rgb(145,153,205)"/><ellipse cx="735.5" cy="466.4" rx="3.5" ry="3" fill="rgb(91,101,174)"/><ellipse cx="756.4" cy="469.1" rx="3.3" ry="3" fill="rgb(133,141,198)"/><ellipse cx="774.3" cy="470.1" rx="3.5" ry="3.2" fill="rgb(115,124,188)"/><ellipse cx="844.7" cy="468" rx="3.3" ry="2.8" fill="rgb(117,126,189)"/><ellipse cx="861.5" cy="471.1" rx="3.5" ry="3" fill="rgb(101,111,180)"/><ellipse cx="875.4" cy="473.2" rx="4.4" ry="4.2" fill="rgb(125,133,193)"/><ellipse cx="892.4" cy="466.1" rx="4.2" ry="3.9" fill="rgb(131,140,197)"/><ellipse cx="912.7" cy="466" rx="4.3" ry="3.9" fill="rgb(137,145,200)"/><ellipse cx="925.4" cy="470" rx="3.7" ry="3.6" fill="rgb(130,138,196)"/><ellipse cx="944" cy="464.7" rx="3.6" ry="3.5" fill="rgb(122,131,192)"/><ellipse cx="957.2" cy="473.2" rx="4.4" ry="3.9" fill="rgb(116,125,188)"/><ellipse cx="979" cy="472.8" rx="3.8" ry="3.4" fill="rgb(91,101,174)"/><ellipse cx="674.5" cy="478.4" rx="3.5" ry="3.4" fill="rgb(94,104,175)"/><ellipse cx="698.8" cy="485.9" rx="3.6" ry="3.5" fill="rgb(138,146,201)"/><ellipse cx="717.3" cy="479.8" rx="3.8" ry="3.4" fill="rgb(91,101,173)"/><ellipse cx="735.2" cy="479.2" rx="3.3" ry="2.9" fill="rgb(123,132,192)"/><ellipse cx="745.4" cy="482.8" rx="4" ry="3.9" fill="rgb(112,121,186)"/><ellipse cx="763.8" cy="482.6" rx="3.3" ry="2.9" fill="rgb(95,104,176)"/><ellipse cx="778.5" cy="481.6" rx="4.2" ry="3.9" fill="rgb(105,114,182)"/><ellipse cx="800.5" cy="488.4" rx="4.2" ry="3.9" fill="rgb(108,117,183)"/><ellipse cx="813.1" cy="483.5" rx="4.2" ry="3.9" fill="rgb(109,118,184)"/><ellipse cx="828.1" cy="485.8" rx="3.5" ry="3.4" fill="rgb(141,149,203)"/><ellipse cx="852.8" cy="481.6" rx="4.3" ry="3.8" fill="rgb(138,147,201)"/><ellipse cx="871.1" cy="480.7" rx="3.6" ry="3.1" fill="rgb(117,126,189)"/><ellipse cx="882.3" cy="484.9" rx="3.4" ry="3.2" fill="rgb(133,142,198)"/><ellipse cx="905.3" cy="482.5" rx="4.4" ry="3.8" fill="rgb(133,142,198)"/><ellipse cx="913.4" cy="488.2" rx="4" ry="3.6" fill="rgb(131,140,197)"/><ellipse cx="932.1" cy="481.6" rx="3.7" ry="3.5" fill="rgb(92,102,174)"/><ellipse cx="953.3" cy="481.3" rx="3.4" ry="3.4" fill="rgb(121,130,191)"/><ellipse cx="970.9" cy="480.8" rx="4" ry="3.7" fill="rgb(132,141,198)"/><ellipse cx="668.6" cy="497" rx="4.1" ry="3.6" fill="rgb(131,140,197)"/><ellipse cx="684.2" cy="492.9" rx="4.2" ry="3.9" fill="rgb(88,98,172)"/><ellipse cx="707.6" cy="494.8" rx="3.4" ry="3.1" fill="rgb(89,99,173)"/><ellipse cx="724.4" cy="496.5" rx="4.4" ry="3.7" fill="rgb(101,110,179)"/><ellipse cx="736.4" cy="494.8" rx="3.7" ry="3.4" fill="rgb(94,104,175)"/><ellipse cx="755.4" cy="502.9" rx="3.4" ry="3.4" fill="rgb(97,107,177)"/><ellipse cx="775.5" cy="494.3" rx="3.5" ry="3.4" fill="rgb(141,149,203)"/><ellipse cx="791.5" cy="499.5" rx="4" ry="3.5" fill="rgb(95,105,176)"/><ellipse cx="803.6" cy="499.9" rx="3.6" ry="3.1" fill="rgb(137,145,200)"/><ellipse cx="823.4" cy="503.1" rx="3.9" ry="3.5" fill="rgb(112,121,186)"/><ellipse cx="843.6" cy="494.6" rx="4.3" ry="4.3" fill="rgb(141,149,203)"/><ellipse cx="853.8" cy="500.8" rx="4.4" ry="4.3" fill="rgb(109,118,184)"/><ellipse cx="876" cy="496.7" rx="4.3" ry="4" fill="rgb(142,150,203)"/><ellipse cx="887.8" cy="503.2" rx="3.9" ry="3.4" fill="rgb(134,142,198)"/><ellipse cx="914.4" cy="494.3" rx="3.7" ry="3.1" fill="rgb(100,110,179)"/><ellipse cx="927.4" cy="496.2" rx="3.8" ry="3.6" fill="rgb(116,125,188)"/><ellipse cx="946.7" cy="499.2" rx="3.8" ry="3.8" fill="rgb(91,101,174)"/><ellipse cx="964" cy="501.2" rx="4.3" ry="4.1" fill="rgb(144,152,204)"/><ellipse cx="982.3" cy="498.8" rx="3.6" ry="3.5" fill="rgb(88,98,172)"/><ellipse cx="678.7" cy="513.3" rx="4.2" ry="4.1" fill="rgb(116,125,188)"/><ellipse cx="691.7" cy="508.4" rx="3.9" ry="3.9" fill="rgb(143,151,204)"/><ellipse cx="709.7" cy="511" rx="3.9" ry="3.8" fill="rgb(88,98,172)"/><ellipse cx="725.8" cy="516.2" rx="4.2" ry="3.7" fill="rgb(108,117,183)"/><ellipse cx="745.9" cy="507.4" rx="3.5" ry="3.4" fill="rgb(99,109,178)"/><ellipse cx="761.2" cy="516.2" rx="4" ry="3.8" fill="rgb(124,133,193)"/><ellipse cx="779.2" cy="512.8" rx="4.4" ry="4.2" fill="rgb(109,119,184)"/><ellipse cx="800" cy="508.5" rx="3.5" ry="3" fill="rgb(117,126,189)"/><ellipse cx="814.6" cy="515.5" rx="3.4" ry="3.4" fill="rgb(103,112,180)"/><ellipse cx="828.2" cy="511.4" rx="4.5" ry="4" fill="rgb(137,146,201)"/><ellipse cx="851.8" cy="513.7" rx="3.5" ry="3.4" fill="rgb(132,140,197)"/><ellipse cx="869.2" cy="511.6" rx="3.8" ry="3.3" fill="rgb(143,151,204)"/><ellipse cx="883.2" cy="517.9" rx="4.1" ry="3.8" fill="rgb(124,133,193)"/><ellipse cx="900.7" cy="516" rx="3.7" ry="3.3" fill="rgb(121,130,191)"/><ellipse cx="921.5" cy="515.4" rx="4.5" ry="4" fill="rgb(94,103,175)"/><ellipse cx="934" cy="512.3" rx="4" ry="3.8" fill="rgb(135,143,199)"/><ellipse cx="954.6" cy="509.9" rx="3.4" ry="3.1" fill="rgb(110,120,185)"/><ellipse cx="969.8" cy="512.7" rx="3.3" ry="3" fill="rgb(114,124,187)"/></g>
<g opacity="0.85" filter="url(#blur1)"><ellipse cx="794.5" cy="332" rx="2.7" ry="2.7" fill="rgb(140,148,202)"/><ellipse cx="803.8" cy="330" rx="2.4" ry="2.3" fill="rgb(107,117,183)"/><ellipse cx="815" cy="329" rx="2.7" ry="2.3" fill="rgb(94,104,175)"/><ellipse cx="824.4" cy="330.6" rx="2.4" ry="2.2" fill="rgb(110,120,185)"/><ellipse cx="828.2" cy="329.9" rx="2.2" ry="2.1" fill="rgb(96,106,176)"/><ellipse cx="783.7" cy="337.3" rx="2.7" ry="2.4" fill="rgb(134,142,199)"/><ellipse cx="793.5" cy="340.6" rx="2.5" ry="2.1" fill="rgb(126,135,194)"/><ellipse cx="798.7" cy="340.1" rx="2.4" ry="2.1" fill="rgb(145,153,205)"/><ellipse cx="807.3" cy="339" rx="2.7" ry="2.5" fill="rgb(146,154,206)"/><ellipse cx="816.3" cy="338.2" rx="2.3" ry="2.1" fill="rgb(137,145,200)"/><ellipse cx="825.2" cy="338.1" rx="2.7" ry="2.4" fill="rgb(146,154,206)"/><ellipse cx="834.7" cy="337.2" rx="2.2" ry="1.9" fill="rgb(124,133,193)"/><ellipse cx="845.6" cy="338.6" rx="2.2" ry="2.1" fill="rgb(89,99,172)"/><ellipse cx="770.9" cy="344.7" rx="2.5" ry="2.2" fill="rgb(127,136,195)"/><ellipse cx="780.3" cy="346.9" rx="2.5" ry="2.4" fill="rgb(93,103,175)"/><ellipse cx="787.9" cy="345.1" rx="2.4" ry="2.2" fill="rgb(139,147,202)"/><ellipse cx="797.7" cy="346.9" rx="2.4" ry="2.1" fill="rgb(146,154,205)"/><ellipse cx="805.6" cy="347.2" rx="2.6" ry="2.6" fill="rgb(110,119,185)"/><ellipse cx="815.3" cy="343.4" rx="2.2" ry="2.2" fill="rgb(100,110,179)"/><ellipse cx="820.2" cy="343.5" rx="2.3" ry="2" fill="rgb(96,106,177)"/><ellipse cx="829.9" cy="346.7" rx="2.6" ry="2.6" fill="rgb(95,105,176)"/><ellipse cx="838.8" cy="343.8" rx="2.7" ry="2.6" fill="rgb(131,140,197)"/><ellipse cx="845.9" cy="343.3" rx="2.7" ry="2.6" fill="rgb(92,102,174)"/><ellipse cx="857.7" cy="344.6" rx="2.6" ry="2.3" fill="rgb(105,115,182)"/><ellipse cx="865" cy="347.1" rx="2.4" ry="2.2" fill="rgb(106,115,182)"/><ellipse cx="759.9" cy="354.1" rx="2.7" ry="2.6" fill="rgb(144,152,204)"/><ellipse cx="769.3" cy="351.4" rx="2.7" ry="2.5" fill="rgb(90,100,173)"/><ellipse cx="773.8" cy="354.9" rx="2.4" ry="2.1" fill="rgb(138,147,201)"/><ellipse cx="781.8" cy="354.2" rx="2.6" ry="2.5" fill="rgb(101,111,179)"/><ellipse cx="794" cy="354" rx="2.5" ry="2.5" fill="rgb(117,126,189)"/><ellipse cx="803.2" cy="350.6" rx="2.2" ry="2" fill="rgb(145,153,205)"/><ellipse cx="806.9" cy="353.7" rx="2.6" ry="2.5" fill="rgb(107,116,183)"/><ellipse cx="819.5" cy="351.9" rx="2.6" ry="2.4" fill="rgb(114,123,187)"/><ellipse cx="826" cy="350.6" rx="2.5" ry="2.3" fill="rgb(133,141,198)"/><ellipse cx="836.3" cy="351.8" rx="2.7" ry="2.5" fill="rgb(119,128,190)"/><ellipse cx="845.3" cy="351.4" rx="2.4" ry="2.1" fill="rgb(122,131,191)"/><ellipse cx="853.9" cy="354.1" rx="2.6" ry="2.6" fill="rgb(135,143,199)"/><ellipse cx="861.6" cy="352.8" rx="2.6" ry="2.4" fill="rgb(89,99,172)"/><ellipse cx="867.2" cy="352.3" rx="2.3" ry="2.1" fill="rgb(95,104,176)"/><ellipse cx="754.1" cy="359.8" rx="2.7" ry="2.6" fill="rgb(139,148,202)"/><ellipse cx="761.7" cy="358.2" rx="2.5" ry="2.3" fill="rgb(115,124,187)"/><ellipse cx="769" cy="358.1" rx="2.7" ry="2.6" fill="rgb(135,144,199)"/><ellipse cx="781.9" cy="358.2" rx="2.6" ry="2.2" fill="rgb(103,112,181)"/><ellipse cx="786" cy="359" rx="2.2" ry="1.9" fill="rgb(115,124,187)"/><ellipse cx="795.6" cy="362.6" rx="2.2" ry="2" fill="rgb(129,138,196)"/><ellipse cx="804.1" cy="358.2" rx="2.2" ry="2.2" fill="rgb(95,105,176)"/><ellipse cx="815.6" cy="361.3" rx="2.2" ry="1.9" fill="rgb(131,139,197)"/><ellipse cx="820.8" cy="358.3" rx="2.7" ry="2.4" fill="rgb(94,104,176)"/><ellipse cx="832.2" cy="358.7" rx="2.6" ry="2.3" fill="rgb(147,155,206)"/><ellipse cx="836.7" cy="360.5" rx="2.3" ry="2" fill="rgb(114,123,187)"/><ellipse cx="848.4" cy="360.5" rx="2.6" ry="2.3" fill="rgb(92,102,174)"/><ellipse cx="855.2" cy="359" rx="2.3" ry="2" fill="rgb(109,119,184)"/><ellipse cx="866.6" cy="362.8" rx="2.4" ry="2.2" fill="rgb(119,128,190)"/><ellipse cx="871.6" cy="357.9" rx="2.2" ry="2" fill="rgb(120,129,190)"/><ellipse cx="741.7" cy="368.9" rx="2.4" ry="2.1" fill="rgb(138,147,201)"/><ellipse cx="750.8" cy="368.8" rx="2.3" ry="2" fill="rgb(102,111,180)"/><ellipse cx="760.1" cy="366.5" rx="2.4" ry="2.2" fill="rgb(113,122,186)"/><ellipse cx="765.6" cy="369.2" rx="2.2" ry="2" fill="rgb(122,130,191)"/><ellipse cx="773.1" cy="369.8" rx="2.3" ry="2.2" fill="rgb(89,99,173)"/><ellipse cx="785.8" cy="370" rx="2.1" ry="2" fill="rgb(115,125,188)"/><ellipse cx="790.3" cy="365.7" rx="2.4" ry="2.2" fill="rgb(108,117,183)"/><ellipse cx="802" cy="368.5" rx="2.5" ry="2.4" fill="rgb(134,143,199)"/><ellipse cx="811.7" cy="367" rx="2.1" ry="1.9" fill="rgb(132,141,198)"/><ellipse cx="815.4" cy="366.2" rx="2.4" ry="2.4" fill="rgb(142,150,203)"/><ellipse cx="823.9" cy="368.1" rx="2.6" ry="2.4" fill="rgb(109,119,184)"/><ellipse cx="833.8" cy="368.2" rx="2.1" ry="1.9" fill="rgb(91,101,173)"/><ellipse cx="842.3" cy="367.3" rx="2.5" ry="2.2" fill="rgb(109,118,184)"/><ellipse cx="853.3" cy="365.8" rx="2.2" ry="2.2" fill="rgb(120,129,190)"/><ellipse cx="860.2" cy="368.9" rx="2.6" ry="2.4" fill="rgb(138,146,201)"/><ellipse cx="871" cy="366.5" rx="2.2" ry="1.9" fill="rgb(90,99,173)"/><ellipse cx="877.3" cy="369.2" rx="2.6" ry="2.5" fill="rgb(106,116,183)"/><ellipse cx="885.7" cy="367.7" rx="2.4" ry="2.2" fill="rgb(91,101,173)"/><ellipse cx="738.2" cy="372.8" rx="2.2" ry="2.1" fill="rgb(121,129,191)"/><ellipse cx="743.3" cy="374.6" rx="2.5" ry="2.5" fill="rgb(125,133,193)"/><ellipse cx="756" cy="377.2" rx="2.6" ry="2.4" fill="rgb(145,153,205)"/><ellipse cx="761.6" cy="372.8" rx="2.2" ry="1.8" fill="rgb(139,147,201)"/><ellipse cx="771.4" cy="376.9" rx="2.4" ry="2.3" fill="rgb(102,111,180)"/><ellipse cx="780.4" cy="375.3" rx="2.4" ry="2.2" fill="rgb(132,141,197)"/><ellipse cx="787.1" cy="374" rx="2.3" ry="2.1" fill="rgb(129,138,196)"/><ellipse cx="794.9" cy="373.6" rx="2.2" ry="2.2" fill="rgb(127,136,195)"/><ellipse cx="804.1" cy="375.9" rx="2.4" ry="2.1" fill="rgb(139,147,202)"/><ellipse cx="813.1" cy="375.3" rx="2.7" ry="2.7" fill="rgb(118,127,189)"/><ellipse cx="822.2" cy="373.3" rx="2.5" ry="2.3" fill="rgb(106,115,182)"/><ellipse cx="829.9" cy="373.9" rx="2.5" ry="2.3" fill="rgb(119,127,190)"/><ellipse cx="839.2" cy="375.2" rx="2.3" ry="2.1" fill="rgb(130,139,197)"/><ellipse cx="848.5" cy="373.3" rx="2.1" ry="1.8" fill="rgb(128,136,195)"/><ellipse cx="858.2" cy="376.2" rx="2.1" ry="1.9" fill="rgb(104,114,181)"/><ellipse cx="863.8" cy="377.4" rx="2.3" ry="2.3" fill="rgb(113,122,187)"/><ellipse cx="875.5" cy="372.9" rx="2.2" ry="2" fill="rgb(137,145,200)"/><ellipse cx="881.3" cy="374.7" rx="2.3" ry="2.2" fill="rgb(105,114,182)"/><ellipse cx="890.1" cy="376.2" rx="2.8" ry="2.7" fill="rgb(110,119,185)"/><ellipse cx="900.1" cy="377.2" rx="2.7" ry="2.5" fill="rgb(147,155,206)"/><ellipse cx="731" cy="383.4" rx="2.8" ry="2.6" fill="rgb(127,135,194)"/><ellipse cx="740.3" cy="381.2" rx="2.7" ry="2.4" fill="rgb(141,150,203)"/><ellipse cx="749" cy="384.2" rx="2.7" ry="2.4" fill="rgb(106,116,183)"/><ellipse cx="759.3" cy="381.3" rx="2.3" ry="2" fill="rgb(105,115,182)"/><ellipse cx="765.5" cy="380.9" rx="2.2" ry="1.9" fill="rgb(140,148,202)"/><ellipse cx="777.3" cy="380.6" rx="2.3" ry="2.3" fill="rgb(114,124,187)"/><ellipse cx="781.6" cy="382.3" rx="2.4" ry="2.4" fill="rgb(131,139,197)"/><ellipse cx="790.7" cy="382.8" rx="2.3" ry="2.1" fill="rgb(92,102,174)"/><ellipse cx="803.2" cy="380.9" rx="2.3" ry="2" fill="rgb(108,117,183)"/><ellipse cx="809.6" cy="381.4" rx="2.3" ry="1.9" fill="rgb(94,104,175)"/><ellipse cx="818.4" cy="380.3" rx="2.3" ry="2.2" fill="rgb(106,115,182)"/><ellipse cx="825.6" cy="384.7" rx="2.5" ry="2.3" fill="rgb(116,125,188)"/><ellipse cx="833.7" cy="383.5" rx="2.6" ry="2.2" fill="rgb(109,118,184)"/><ellipse cx="844.1" cy="382" rx="2.6" ry="2.4" fill="rgb(129,137,196)"/><ellipse cx="851.1" cy="381.8" rx="2.6" ry="2.3" fill="rgb(136,145,200)"/><ellipse cx="861.2" cy="381.3" rx="2.4" ry="2.1" fill="rgb(139,147,201)"/><ellipse cx="867.6" cy="384.6" rx="2.5" ry="2.4" fill="rgb(112,121,186)"/><ellipse cx="878.3" cy="382.9" rx="2.2" ry="2" fill="rgb(143,151,204)"/><ellipse cx="883.9" cy="383.9" rx="2.7" ry="2.5" fill="rgb(115,124,188)"/><ellipse cx="893.9" cy="384.8" rx="2.7" ry="2.6" fill="rgb(121,130,191)"/><ellipse cx="730.4" cy="387.9" rx="2.5" ry="2.2" fill="rgb(130,139,196)"/><ellipse cx="739.3" cy="388.4" rx="2.3" ry="2.1" fill="rgb(108,118,184)"/><ellipse cx="745.1" cy="388.5" rx="2.1" ry="2.1" fill="rgb(88,98,172)"/><ellipse cx="754.8" cy="388.2" rx="2.7" ry="2.4" fill="rgb(117,126,189)"/><ellipse cx="763.6" cy="388.2" rx="2.2" ry="2" fill="rgb(117,126,189)"/><ellipse cx="769.9" cy="389" rx="2.6" ry="2.4" fill="rgb(119,128,190)"/><ellipse cx="779.7" cy="388.2" rx="2.6" ry="2.5" fill="rgb(138,146,201)"/><ellipse cx="789.6" cy="389.4" rx="2.2" ry="1.9" fill="rgb(103,113,181)"/><ellipse cx="795.9" cy="387.8" rx="2.7" ry="2.6" fill="rgb(133,142,198)"/><ellipse cx="804.7" cy="390.9" rx="2.4" ry="2.1" fill="rgb(133,142,198)"/><ellipse cx="811.9" cy="392.3" rx="2.2" ry="2.1" fill="rgb(102,111,180)"/><ellipse cx="822.2" cy="391.2" rx="2.4" ry="2.2" fill="rgb(140,148,202)"/><ellipse cx="830.8" cy="391.4" rx="2.1" ry="2" fill="rgb(92,102,174)"/><ellipse cx="839.8" cy="392.4" rx="2.6" ry="2.5" fill="rgb(96,106,177)"/><ellipse cx="845.9" cy="387.7" rx="2.5" ry="2.4" fill="rgb(90,100,173)"/><ellipse cx="854.5" cy="390.8" rx="2.6" ry="2.4" fill="rgb(132,140,197)"/><ellipse cx="863.9" cy="392.4" rx="2.2" ry="2" fill="rgb(113,123,187)"/><ellipse cx="871.2" cy="390.3" rx="2.4" ry="2.1" fill="rgb(127,136,194)"/><ellipse cx="883.5" cy="391.3" rx="2.3" ry="2.1" fill="rgb(93,103,175)"/><ellipse cx="888.4" cy="389.2" rx="2.4" ry="2.3" fill="rgb(143,151,204)"/><ellipse cx="899.5" cy="389.6" rx="2.4" ry="2.2" fill="rgb(96,105,176)"/><ellipse cx="906.1" cy="391.3" rx="2.6" ry="2.4" fill="rgb(136,145,200)"/><ellipse cx="717" cy="397.7" rx="2.6" ry="2.4" fill="rgb(132,141,198)"/><ellipse cx="725.8" cy="396.2" rx="2.2" ry="2" fill="rgb(100,109,179)"/><ellipse cx="731.6" cy="396.6" rx="2.7" ry="2.7" fill="rgb(102,112,180)"/><ellipse cx="743.8" cy="398.2" rx="2.1" ry="1.9" fill="rgb(97,107,177)"/><ellipse cx="752.2" cy="398.1" rx="2.6" ry="2.3" fill="rgb(106,116,182)"/><ellipse cx="759.5" cy="398.4" rx="2.7" ry="2.4" fill="rgb(105,114,182)"/><ellipse cx="766.1" cy="395.6" rx="2.3" ry="2.2" fill="rgb(124,132,193)"/><ellipse cx="776.7" cy="399.8" rx="2.5" ry="2.2" fill="rgb(90,100,173)"/><ellipse cx="781.8" cy="397.7" rx="2.1" ry="2" fill="rgb(104,113,181)"/><ellipse cx="793.4" cy="395.5" rx="2.4" ry="2" fill="rgb(94,104,175)"/><ellipse cx="799.7" cy="397.7" rx="2.1" ry="1.8" fill="rgb(117,126,189)"/><ellipse cx="810.6" cy="398.4" rx="2.5" ry="2.5" fill="rgb(123,132,192)"/><ellipse cx="816.5" cy="398.6" rx="2.3" ry="2.2" fill="rgb(97,107,177)"/><ellipse cx="828.9" cy="397.6" rx="2.4" ry="2.1" fill="rgb(118,127,189)"/><ellipse cx="834.5" cy="397.7" rx="2.6" ry="2.4" fill="rgb(128,137,195)"/><ellipse cx="843.7" cy="395.5" rx="2.2" ry="2.1" fill="rgb(119,128,190)"/><ellipse cx="853.6" cy="396.1" rx="2.6" ry="2.3" fill="rgb(127,136,195)"/><ellipse cx="860.5" cy="398" rx="2.4" ry="2.2" fill="rgb(115,124,187)"/><ellipse cx="867.7" cy="395.3" rx="2.7" ry="2.5" fill="rgb(136,144,200)"/><ellipse cx="877.6" cy="396.9" rx="2.4" ry="2.3" fill="rgb(140,148,202)"/><ellipse cx="887" cy="398.6" rx="2.5" ry="2.2" fill="rgb(141,149,203)"/><ellipse cx="894.8" cy="395.6" rx="2.2" ry="2.1" fill="rgb(96,106,177)"/><ellipse cx="904.4" cy="399.1" rx="2.6" ry="2.4" fill="rgb(114,124,187)"/><ellipse cx="909.2" cy="398.8" rx="2.7" ry="2.6" fill="rgb(103,112,180)"/><ellipse cx="721.2" cy="404.2" rx="2.3" ry="2.2" fill="rgb(96,106,177)"/><ellipse cx="728.1" cy="403.3" rx="2.7" ry="2.4" fill="rgb(136,145,200)"/><ellipse cx="736.5" cy="404.9" rx="2.7" ry="2.7" fill="rgb(93,103,175)"/><ellipse cx="746.4" cy="402.4" rx="2.4" ry="2.4" fill="rgb(124,133,193)"/><ellipse cx="755.4" cy="404.7" rx="2.1" ry="2.1" fill="rgb(108,118,184)"/><ellipse cx="762.2" cy="407.2" rx="2.5" ry="2.5" fill="rgb(127,136,195)"/><ellipse cx="769.5" cy="406.1" rx="2.6" ry="2.4" fill="rgb(96,106,176)"/><ellipse cx="781.9" cy="403.2" rx="2.7" ry="2.6" fill="rgb(118,127,190)"/><ellipse cx="787" cy="404.3" rx="2.3" ry="2.2" fill="rgb(90,100,173)"/><ellipse cx="794.7" cy="404.6" rx="2.6" ry="2.4" fill="rgb(145,153,205)"/><ellipse cx="806.2" cy="403.9" rx="2.6" ry="2.6" fill="rgb(118,127,189)"/><ellipse cx="814.8" cy="403.9" rx="2.8" ry="2.6" fill="rgb(89,99,172)"/><ellipse cx="822" cy="402.9" rx="2.8" ry="2.4" fill="rgb(126,135,194)"/><ellipse cx="828.3" cy="406.1" rx="2.5" ry="2.3" fill="rgb(92,102,174)"/><ellipse cx="841.5" cy="403.6" rx="2.6" ry="2.3" fill="rgb(96,105,176)"/><ellipse cx="847.8" cy="406.2" rx="2.6" ry="2.2" fill="rgb(141,149,202)"/><ellipse cx="853.7" cy="406.8" rx="2.2" ry="2.1" fill="rgb(98,108,178)"/><ellipse cx="863.7" cy="402.9" rx="2.5" ry="2.1" fill="rgb(104,113,181)"/><ellipse cx="871.8" cy="407.1" rx="2.4" ry="2.3" fill="rgb(120,129,191)"/><ellipse cx="881.1" cy="404.8" rx="2.3" ry="2" fill="rgb(129,138,196)"/><ellipse cx="887.8" cy="405.3" rx="2.6" ry="2.2" fill="rgb(106,115,182)"/><ellipse cx="898.4" cy="406.2" rx="2.7" ry="2.3" fill="rgb(130,138,196)"/><ellipse cx="909.2" cy="403.1" rx="2.1" ry="2" fill="rgb(111,120,185)"/><ellipse cx="725.6" cy="412.4" rx="2.5" ry="2.1" fill="rgb(111,120,185)"/><ellipse cx="732.5" cy="412.2" rx="2.7" ry="2.5" fill="rgb(147,155,206)"/><ellipse cx="743.7" cy="414.6" rx="2.5" ry="2.2" fill="rgb(97,106,177)"/><ellipse cx="749.7" cy="414" rx="2.4" ry="2.2" fill="rgb(137,145,200)"/><ellipse cx="758.4" cy="413.3" rx="2.3" ry="2.1" fill="rgb(120,129,191)"/><ellipse cx="767.4" cy="410.4" rx="2.3" ry="2.1" fill="rgb(92,101,174)"/><ellipse cx="777.8" cy="410.8" rx="2.6" ry="2.4" fill="rgb(95,105,176)"/><ellipse cx="786.3" cy="412.2" rx="2.3" ry="2" fill="rgb(104,114,181)"/><ellipse cx="792.9" cy="414.5" rx="2.3" ry="2.1" fill="rgb(103,113,181)"/><ellipse cx="802.9" cy="414.2" rx="2.6" ry="2.3" fill="rgb(121,130,191)"/><ellipse cx="810" cy="410.1" rx="2.5" ry="2.4" fill="rgb(115,124,188)"/><ellipse cx="819.1" cy="414.2" rx="2.2" ry="2.2" fill="rgb(121,130,191)"/><ellipse cx="824.7" cy="410.7" rx="2.7" ry="2.3" fill="rgb(88,98,172)"/><ellipse cx="834.1" cy="411.4" rx="2.2" ry="2.1" fill="rgb(117,126,189)"/><ellipse cx="842.7" cy="413.6" rx="2.1" ry="2.1" fill="rgb(104,114,181)"/><ellipse cx="851.8" cy="413.7" rx="2.3" ry="2.2" fill="rgb(105,114,182)"/><ellipse cx="861.3" cy="410" rx="2.3" ry="2.1" fill="rgb(133,141,198)"/><ellipse cx="870.8" cy="413.1" rx="2.4" ry="2.3" fill="rgb(132,140,197)"/><ellipse cx="875.3" cy="412.5" rx="2.4" ry="2.2" fill="rgb(125,134,194)"/><ellipse cx="884.2" cy="413.6" rx="2.3" ry="2" fill="rgb(121,130,191)"/><ellipse cx="896.4" cy="410.4" rx="2.6" ry="2.3" fill="rgb(123,131,192)"/><ellipse cx="902.1" cy="414.4" rx="2.7" ry="2.7" fill="rgb(93,103,175)"/><ellipse cx="912" cy="414.3" rx="2.2" ry="2.1" fill="rgb(97,106,177)"/><ellipse cx="729" cy="421.6" rx="2.5" ry="2.5" fill="rgb(93,103,175)"/><ellipse cx="736.7" cy="422" rx="2.6" ry="2.5" fill="rgb(105,115,182)"/><ellipse cx="745" cy="418.6" rx="2.5" ry="2.4" fill="rgb(135,143,199)"/><ellipse cx="751.8" cy="417.9" rx="2.7" ry="2.5" fill="rgb(94,104,175)"/><ellipse cx="760.3" cy="420.7" rx="2.4" ry="2.2" fill="rgb(144,152,205)"/><ellipse cx="771.4" cy="420.7" rx="2.3" ry="2.2" fill="rgb(129,138,196)"/><ellipse cx="778.5" cy="418.5" rx="2.4" ry="2.2" fill="rgb(113,122,187)"/><ellipse cx="788.6" cy="419.2" rx="2.4" ry="2.2" fill="rgb(129,138,196)"/><ellipse cx="795.6" cy="417.3" rx="2.7" ry="2.4" fill="rgb(109,118,184)"/><ellipse cx="806.4" cy="419.3" rx="2.6" ry="2.6" fill="rgb(114,123,187)"/><ellipse cx="811.9" cy="418.8" rx="2.8" ry="2.5" fill="rgb(147,155,206)"/><ellipse cx="823.5" cy="418.8" rx="2.2" ry="1.9" fill="rgb(103,112,181)"/><ellipse cx="832.3" cy="417.2" rx="2.1" ry="2" fill="rgb(132,141,198)"/><ellipse cx="838" cy="419.8" rx="2.2" ry="2" fill="rgb(114,123,187)"/><ellipse cx="845.7" cy="417.3" rx="2.8" ry="2.5" fill="rgb(110,119,184)"/><ellipse cx="857.9" cy="418.1" rx="2.4" ry="2.1" fill="rgb(107,116,183)"/><ellipse cx="866.9" cy="420.6" rx="2.2" ry="2.1" fill="rgb(142,150,203)"/><ellipse cx="873.8" cy="418.3" rx="2.7" ry="2.6" fill="rgb(126,135,194)"/><ellipse cx="884.1" cy="419.3" rx="2.4" ry="2.1" fill="rgb(134,142,198)"/><ellipse cx="890.7" cy="422" rx="2.2" ry="1.9" fill="rgb(132,140,197)"/><ellipse cx="897.6" cy="421.1" rx="2.2" ry="2.1" fill="rgb(131,139,197)"/><ellipse cx="907.1" cy="417.5" rx="2.2" ry="2.1" fill="rgb(141,149,203)"/><ellipse cx="733.8" cy="427.5" rx="2.4" ry="2.4" fill="rgb(107,116,183)"/><ellipse cx="739.9" cy="426.8" rx="2.7" ry="2.3" fill="rgb(103,113,181)"/><ellipse cx="747.7" cy="427.9" rx="2.7" ry="2.4" fill="rgb(126,135,194)"/><ellipse cx="759" cy="426.3" rx="2.1" ry="1.9" fill="rgb(95,105,176)"/><ellipse cx="765.9" cy="426.4" rx="2.8" ry="2.4" fill="rgb(106,116,182)"/><ellipse cx="775.3" cy="425.9" rx="2.1" ry="1.9" fill="rgb(132,141,198)"/><ellipse cx="785.3" cy="426.6" rx="2.5" ry="2.4" fill="rgb(146,154,206)"/><ellipse cx="791.5" cy="425.5" rx="2.8" ry="2.8" fill="rgb(123,131,192)"/><ellipse cx="798.9" cy="425" rx="2.4" ry="2.2" fill="rgb(106,116,182)"/><ellipse cx="808" cy="425" rx="2.5" ry="2.5" fill="rgb(128,137,195)"/><ellipse cx="818.4" cy="424.8" rx="2.3" ry="2" fill="rgb(102,111,180)"/><ellipse cx="826.6" cy="429" rx="2.3" ry="2.2" fill="rgb(145,153,205)"/><ellipse cx="835.2" cy="425.6" rx="2.7" ry="2.5" fill="rgb(89,99,172)"/><ellipse cx="841.5" cy="425.5" rx="2.5" ry="2.4" fill="rgb(144,152,204)"/><ellipse cx="849.7" cy="428.9" rx="2.6" ry="2.5" fill="rgb(103,112,180)"/><ellipse cx="858.2" cy="426.3" rx="2.2" ry="2" fill="rgb(135,144,199)"/><ellipse cx="868.1" cy="427" rx="2.5" ry="2.2" fill="rgb(120,129,191)"/><ellipse cx="875.5" cy="427.2" rx="2.1" ry="1.9" fill="rgb(98,107,178)"/><ellipse cx="886.5" cy="428.3" rx="2.3" ry="2.1" fill="rgb(142,150,203)"/><ellipse cx="896.1" cy="425.3" rx="2.3" ry="2.2" fill="rgb(139,147,201)"/><ellipse cx="903.2" cy="428.3" rx="2.6" ry="2.6" fill="rgb(117,126,188)"/><ellipse cx="738.7" cy="433.2" rx="2.6" ry="2.3" fill="rgb(130,139,196)"/><ellipse cx="747.7" cy="432.6" rx="2.6" ry="2.5" fill="rgb(140,148,202)"/><ellipse cx="754.6" cy="435.6" rx="2.7" ry="2.4" fill="rgb(121,130,191)"/><ellipse cx="761.2" cy="433.2" rx="2.7" ry="2.7" fill="rgb(96,105,176)"/><ellipse cx="773.5" cy="435.9" rx="2.5" ry="2.2" fill="rgb(135,144,199)"/><ellipse cx="778.7" cy="431.9" rx="2.6" ry="2.3" fill="rgb(125,134,193)"/><ellipse cx="789.9" cy="436.7" rx="2.4" ry="2.2" fill="rgb(130,138,196)"/><ellipse cx="794.4" cy="433.3" rx="2.6" ry="2.3" fill="rgb(103,113,181)"/><ellipse cx="806.7" cy="435.7" rx="2.3" ry="2.2" fill="rgb(137,145,200)"/><ellipse cx="812.6" cy="435.7" rx="2.5" ry="2.4" fill="rgb(138,146,201)"/><ellipse cx="823.1" cy="436.6" rx="2.3" ry="2.1" fill="rgb(128,137,195)"/><ellipse cx="828.4" cy="432.8" rx="2.7" ry="2.4" fill="rgb(88,98,172)"/><ellipse cx="836.7" cy="436.3" rx="2.4" ry="2" fill="rgb(99,108,178)"/><ellipse cx="847.5" cy="434.6" rx="2.2" ry="1.9" fill="rgb(133,141,198)"/><ellipse cx="853.7" cy="433.4" rx="2.4" ry="2.2" fill="rgb(127,135,194)"/><ellipse cx="865.2" cy="431.9" rx="2.3" ry="2.2" fill="rgb(122,131,192)"/><ellipse cx="874.9" cy="435.5" rx="2.2" ry="2.1" fill="rgb(102,111,180)"/><ellipse cx="883.4" cy="433.8" rx="2.6" ry="2.6" fill="rgb(118,127,189)"/><ellipse cx="888.2" cy="436.2" rx="2.7" ry="2.5" fill="rgb(127,136,194)"/><ellipse cx="898.7" cy="432.7" rx="2.8" ry="2.7" fill="rgb(125,134,193)"/><ellipse cx="741.1" cy="443.3" rx="2.5" ry="2.3" fill="rgb(138,146,201)"/><ellipse cx="747.9" cy="442" rx="2.3" ry="2" fill="rgb(144,152,204)"/><ellipse cx="757.7" cy="443.5" rx="2.8" ry="2.5" fill="rgb(103,113,181)"/><ellipse cx="766.5" cy="441.1" rx="2.5" ry="2.3" fill="rgb(121,130,191)"/><ellipse cx="773.8" cy="441.1" rx="2.4" ry="2.3" fill="rgb(146,154,206)"/><ellipse cx="785" cy="441.7" rx="2.6" ry="2.5" fill="rgb(97,107,177)"/><ellipse cx="792.1" cy="443.4" rx="2.6" ry="2.6" fill="rgb(122,131,192)"/><ellipse cx="798.5" cy="442.9" rx="2.1" ry="1.9" fill="rgb(129,137,196)"/><ellipse cx="809.6" cy="443" rx="2.7" ry="2.5" fill="rgb(94,104,175)"/><ellipse cx="817.8" cy="441.6" rx="2.3" ry="2.3" fill="rgb(91,101,174)"/><ellipse cx="825.6" cy="443.9" rx="2.6" ry="2.6" fill="rgb(114,123,187)"/><ellipse cx="835.8" cy="439.3" rx="2.3" ry="2.2" fill="rgb(141,149,203)"/><ellipse cx="844" cy="440.7" rx="2.2" ry="2.1" fill="rgb(107,116,183)"/><ellipse cx="851.1" cy="440.9" rx="2.5" ry="2.3" fill="rgb(90,100,173)"/><ellipse cx="862" cy="440.9" rx="2.7" ry="2.3" fill="rgb(112,121,186)"/><ellipse cx="868.8" cy="440.6" rx="2.6" ry="2.4" fill="rgb(129,138,196)"/><ellipse cx="876.8" cy="439.3" rx="2.7" ry="2.4" fill="rgb(100,110,179)"/><ellipse cx="884.7" cy="439.3" rx="2.8" ry="2.7" fill="rgb(125,134,193)"/><ellipse cx="756.4" cy="447.3" rx="2.3" ry="2.2" fill="rgb(131,139,197)"/><ellipse cx="763.9" cy="450.4" rx="2.5" ry="2.2" fill="rgb(127,135,194)"/><ellipse cx="770" cy="451.1" rx="2.1" ry="2" fill="rgb(108,117,183)"/><ellipse cx="777.7" cy="447.4" rx="2.2" ry="2.1" fill="rgb(109,118,184)"/><ellipse cx="786.1" cy="450.4" rx="2.5" ry="2.5" fill="rgb(115,124,188)"/><ellipse cx="794.8" cy="447" rx="2.4" ry="2.1" fill="rgb(102,111,180)"/><ellipse cx="806.8" cy="448.1" rx="2.2" ry="2.1" fill="rgb(131,139,197)"/><ellipse cx="814.7" cy="449.3" rx="2.7" ry="2.5" fill="rgb(89,99,172)"/><ellipse cx="824.4" cy="447.2" rx="2.2" ry="1.9" fill="rgb(114,123,187)"/><ellipse cx="830.1" cy="448.6" rx="2.7" ry="2.5" fill="rgb(109,118,184)"/><ellipse cx="840.3" cy="451.6" rx="2.7" ry="2.6" fill="rgb(118,127,189)"/><ellipse cx="849" cy="450.9" rx="2.4" ry="2.2" fill="rgb(125,134,194)"/><ellipse cx="857.2" cy="451" rx="2.6" ry="2.2" fill="rgb(134,143,199)"/><ellipse cx="866.4" cy="447.8" rx="2.7" ry="2.6" fill="rgb(135,143,199)"/><ellipse cx="767.5" cy="456.2" rx="2.6" ry="2.2" fill="rgb(123,132,192)"/><ellipse cx="777.2" cy="457.4" rx="2.1" ry="1.9" fill="rgb(130,138,196)"/><ellipse cx="784.7" cy="458.2" rx="2.2" ry="2.2" fill="rgb(115,124,187)"/><ellipse cx="793.6" cy="455.1" rx="2.7" ry="2.6" fill="rgb(112,121,186)"/><ellipse cx="801.4" cy="457.8" rx="2.6" ry="2.6" fill="rgb(136,144,200)"/><ellipse cx="807.6" cy="455.6" rx="2.8" ry="2.5" fill="rgb(136,145,200)"/><ellipse cx="816.8" cy="455.2" rx="2.2" ry="2" fill="rgb(146,154,205)"/><ellipse cx="825.7" cy="454.3" rx="2.6" ry="2.4" fill="rgb(96,106,177)"/><ellipse cx="833.1" cy="458.2" rx="2.1" ry="2" fill="rgb(103,113,181)"/><ellipse cx="842.7" cy="455.8" rx="2.2" ry="2" fill="rgb(126,134,194)"/><ellipse cx="851.7" cy="454.5" rx="2.8" ry="2.7" fill="rgb(128,136,195)"/><ellipse cx="789.8" cy="463.2" rx="2.2" ry="1.9" fill="rgb(95,105,176)"/><ellipse cx="794.9" cy="466" rx="2.4" ry="2.2" fill="rgb(142,150,203)"/><ellipse cx="802.8" cy="461.7" rx="2.2" ry="2.1" fill="rgb(99,109,178)"/><ellipse cx="815.5" cy="462.4" rx="2.2" ry="1.9" fill="rgb(106,116,182)"/><ellipse cx="820.7" cy="466.1" rx="2.4" ry="2" fill="rgb(113,122,186)"/><ellipse cx="832.4" cy="462.8" rx="2.6" ry="2.6" fill="rgb(94,104,175)"/></g>
<g opacity="0.8" filter="url(#blur1)"><ellipse cx="743.6" cy="284.8" rx="2.4" ry="1.9" fill="rgb(129,137,195)"/><ellipse cx="750.9" cy="288" rx="2.2" ry="1.9" fill="rgb(134,143,199)"/><ellipse cx="758.4" cy="283.6" rx="2" ry="1.7" fill="rgb(88,98,172)"/><ellipse cx="766.5" cy="287.6" rx="2" ry="1.9" fill="rgb(109,118,184)"/><ellipse cx="770.6" cy="283.6" rx="2.2" ry="1.8" fill="rgb(129,138,196)"/><ellipse cx="778.9" cy="283.3" rx="2.5" ry="2.4" fill="rgb(115,124,187)"/><ellipse cx="785.1" cy="284.1" rx="1.6" ry="1.4" fill="rgb(139,147,201)"/><ellipse cx="795" cy="287.2" rx="1.8" ry="1.8" fill="rgb(110,119,185)"/><ellipse cx="800.9" cy="284.4" rx="1.6" ry="1.5" fill="rgb(143,151,204)"/><ellipse cx="810.4" cy="287.9" rx="2.6" ry="2.4" fill="rgb(135,143,199)"/><ellipse cx="816" cy="286.3" rx="2.5" ry="2" fill="rgb(91,101,174)"/><ellipse cx="824" cy="285" rx="2" ry="1.8" fill="rgb(130,138,196)"/><ellipse cx="832.7" cy="284.1" rx="2" ry="1.7" fill="rgb(128,137,195)"/><ellipse cx="841.8" cy="287.1" rx="2.5" ry="2.4" fill="rgb(106,115,182)"/><ellipse cx="846.7" cy="286.5" rx="1.8" ry="1.7" fill="rgb(122,131,192)"/><ellipse cx="855.1" cy="285.7" rx="2.6" ry="2" fill="rgb(140,148,202)"/><ellipse cx="863.9" cy="287" rx="2.6" ry="2" fill="rgb(142,150,203)"/><ellipse cx="867.9" cy="287.1" rx="2.1" ry="1.7" fill="rgb(130,139,197)"/><ellipse cx="878.8" cy="287.1" rx="1.7" ry="1.4" fill="rgb(114,123,187)"/><ellipse cx="745" cy="293.5" rx="1.7" ry="1.4" fill="rgb(128,137,195)"/><ellipse cx="751.8" cy="290.2" rx="1.7" ry="1.3" fill="rgb(93,103,175)"/><ellipse cx="759.2" cy="294" rx="2.5" ry="2.3" fill="rgb(101,110,179)"/><ellipse cx="769.6" cy="292.9" rx="1.8" ry="1.4" fill="rgb(95,105,176)"/><ellipse cx="774.5" cy="293" rx="2" ry="1.5" fill="rgb(135,143,199)"/><ellipse cx="785" cy="294.5" rx="2.3" ry="2.2" fill="rgb(122,131,192)"/><ellipse cx="789.5" cy="290.7" rx="1.8" ry="1.6" fill="rgb(139,147,202)"/><ellipse cx="797.7" cy="291.9" rx="1.6" ry="1.2" fill="rgb(126,135,194)"/><ellipse cx="805.8" cy="290" rx="2.2" ry="1.9" fill="rgb(91,101,173)"/><ellipse cx="815.6" cy="292.1" rx="1.8" ry="1.5" fill="rgb(124,133,193)"/><ellipse cx="818.5" cy="291.9" rx="1.7" ry="1.4" fill="rgb(89,99,172)"/><ellipse cx="825.9" cy="293.8" rx="2.2" ry="1.9" fill="rgb(99,108,178)"/><ellipse cx="833.7" cy="290.2" rx="2" ry="1.9" fill="rgb(99,108,178)"/><ellipse cx="845.4" cy="292.3" rx="1.9" ry="1.5" fill="rgb(138,146,201)"/><ellipse cx="850.6" cy="294.6" rx="1.6" ry="1.4" fill="rgb(127,136,195)"/><ellipse cx="860.1" cy="291.8" rx="2.1" ry="2" fill="rgb(104,114,181)"/><ellipse cx="866.7" cy="290.4" rx="2.1" ry="1.9" fill="rgb(108,117,183)"/><ellipse cx="871.1" cy="292.6" rx="1.6" ry="1.3" fill="rgb(100,109,179)"/><ellipse cx="741.4" cy="301" rx="1.9" ry="1.4" fill="rgb(142,150,203)"/><ellipse cx="747.3" cy="296.8" rx="1.7" ry="1.3" fill="rgb(88,98,172)"/><ellipse cx="755.2" cy="300.4" rx="2.3" ry="2.2" fill="rgb(92,102,174)"/><ellipse cx="764.4" cy="301" rx="2.3" ry="1.7" fill="rgb(90,99,173)"/><ellipse cx="770.1" cy="296.8" rx="1.8" ry="1.5" fill="rgb(139,148,202)"/><ellipse cx="777.6" cy="300.6" rx="2" ry="1.9" fill="rgb(125,133,193)"/><ellipse cx="786.4" cy="297.5" rx="2.1" ry="1.8" fill="rgb(138,146,201)"/><ellipse cx="793.1" cy="299.5" rx="1.7" ry="1.5" fill="rgb(143,151,204)"/><ellipse cx="803.8" cy="296.8" rx="1.8" ry="1.6" fill="rgb(131,140,197)"/><ellipse cx="808.2" cy="300.3" rx="2.3" ry="2" fill="rgb(116,125,188)"/><ellipse cx="819.1" cy="298.3" rx="2" ry="1.9" fill="rgb(118,127,189)"/><ellipse cx="824.4" cy="299.2" rx="1.6" ry="1.6" fill="rgb(99,109,178)"/><ellipse cx="834.4" cy="299" rx="2.4" ry="2.1" fill="rgb(93,103,175)"/><ellipse cx="836.9" cy="297.9" rx="2.5" ry="2.5" fill="rgb(142,150,203)"/><ellipse cx="847.8" cy="299.8" rx="2.1" ry="2" fill="rgb(143,151,204)"/><ellipse cx="853.4" cy="298.6" rx="2.3" ry="2" fill="rgb(130,138,196)"/><ellipse cx="860.5" cy="300.7" rx="2.6" ry="2.3" fill="rgb(130,138,196)"/><ellipse cx="867.9" cy="300.8" rx="2.5" ry="2.4" fill="rgb(112,121,186)"/><ellipse cx="875.3" cy="299.3" rx="1.8" ry="1.5" fill="rgb(133,141,198)"/><ellipse cx="747.8" cy="304.4" rx="1.9" ry="1.7" fill="rgb(112,121,186)"/><ellipse cx="754.6" cy="307.1" rx="2.2" ry="2" fill="rgb(104,113,181)"/><ellipse cx="758.1" cy="306.8" rx="1.6" ry="1.6" fill="rgb(125,134,194)"/><ellipse cx="770.3" cy="304.1" rx="2" ry="1.7" fill="rgb(110,119,184)"/><ellipse cx="777.9" cy="304.8" rx="2.3" ry="2.1" fill="rgb(130,138,196)"/><ellipse cx="783" cy="304.5" rx="2.1" ry="1.9" fill="rgb(105,114,182)"/><ellipse cx="789.2" cy="306.2" rx="2.6" ry="2.3" fill="rgb(138,146,201)"/><ellipse cx="797.6" cy="307.2" rx="2.3" ry="1.9" fill="rgb(105,114,181)"/><ellipse cx="803.2" cy="303.4" rx="2.4" ry="1.8" fill="rgb(89,99,173)"/><ellipse cx="815.4" cy="306.8" rx="2.3" ry="2.1" fill="rgb(119,128,190)"/><ellipse cx="818.7" cy="304.6" rx="2.3" ry="1.9" fill="rgb(126,135,194)"/><ellipse cx="828.2" cy="303.4" rx="2.1" ry="1.9" fill="rgb(120,129,190)"/><ellipse cx="833.4" cy="305" rx="2.3" ry="1.8" fill="rgb(113,122,186)"/><ellipse cx="841.5" cy="307.3" rx="2.5" ry="2" fill="rgb(117,126,189)"/><ellipse cx="851.8" cy="306.2" rx="2.3" ry="2.2" fill="rgb(122,131,192)"/><ellipse cx="856.1" cy="307.1" rx="2.1" ry="2" fill="rgb(134,142,199)"/><ellipse cx="864.7" cy="305.5" rx="1.7" ry="1.6" fill="rgb(134,142,199)"/><ellipse cx="872.5" cy="305" rx="1.9" ry="1.5" fill="rgb(94,104,175)"/><ellipse cx="744.2" cy="312.9" rx="2.5" ry="2.3" fill="rgb(112,121,186)"/><ellipse cx="750.7" cy="313.5" rx="2.6" ry="2.5" fill="rgb(145,153,205)"/><ellipse cx="756.3" cy="311.4" rx="2.2" ry="2" fill="rgb(98,107,177)"/><ellipse cx="764.6" cy="310.5" rx="1.6" ry="1.6" fill="rgb(104,114,181)"/><ellipse cx="773.4" cy="314.3" rx="2.6" ry="2.2" fill="rgb(117,126,189)"/><ellipse cx="777.1" cy="314.2" rx="2.1" ry="2" fill="rgb(133,142,198)"/><ellipse cx="787.4" cy="312" rx="2.4" ry="2" fill="rgb(106,115,182)"/><ellipse cx="796.1" cy="313.8" rx="2.3" ry="2" fill="rgb(121,130,191)"/><ellipse cx="800.5" cy="313.2" rx="1.6" ry="1.6" fill="rgb(141,150,203)"/><ellipse cx="807.7" cy="313.1" rx="2.5" ry="2.1" fill="rgb(91,101,174)"/><ellipse cx="816.2" cy="312.1" rx="2.2" ry="2" fill="rgb(91,101,174)"/><ellipse cx="822" cy="310.5" rx="2" ry="1.9" fill="rgb(134,142,199)"/><ellipse cx="831.3" cy="312.4" rx="1.8" ry="1.4" fill="rgb(91,101,174)"/><ellipse cx="839.7" cy="313.7" rx="1.6" ry="1.4" fill="rgb(134,142,199)"/><ellipse cx="846" cy="313" rx="1.7" ry="1.4" fill="rgb(94,104,175)"/><ellipse cx="855.7" cy="314.2" rx="1.9" ry="1.5" fill="rgb(99,109,178)"/><ellipse cx="859.9" cy="309.7" rx="2.2" ry="2.1" fill="rgb(141,149,203)"/><ellipse cx="869.8" cy="313.4" rx="2.3" ry="1.7" fill="rgb(105,114,182)"/><ellipse cx="875.4" cy="309.9" rx="1.7" ry="1.3" fill="rgb(136,145,200)"/><ellipse cx="746.6" cy="319.1" rx="1.9" ry="1.6" fill="rgb(119,128,190)"/><ellipse cx="754.8" cy="316.6" rx="1.7" ry="1.4" fill="rgb(121,130,191)"/><ellipse cx="762.1" cy="317.8" rx="1.7" ry="1.5" fill="rgb(94,104,175)"/><ellipse cx="769.3" cy="317.5" rx="1.8" ry="1.6" fill="rgb(89,98,172)"/><ellipse cx="777.9" cy="317.9" rx="2.4" ry="2.1" fill="rgb(108,117,183)"/><ellipse cx="784.2" cy="319.6" rx="1.6" ry="1.6" fill="rgb(137,145,200)"/><ellipse cx="789.4" cy="318.8" rx="2.5" ry="2.1" fill="rgb(97,107,177)"/><ellipse cx="796.2" cy="318.6" rx="2.2" ry="1.8" fill="rgb(140,149,202)"/><ellipse cx="803.8" cy="318.1" rx="2.1" ry="1.9" fill="rgb(133,142,198)"/><ellipse cx="813.4" cy="319.7" rx="1.7" ry="1.5" fill="rgb(94,104,175)"/><ellipse cx="818.7" cy="320.6" rx="1.7" ry="1.4" fill="rgb(126,135,194)"/><ellipse cx="830.2" cy="316.7" rx="2.3" ry="2.1" fill="rgb(130,139,197)"/><ellipse cx="835.5" cy="320.1" rx="2.2" ry="1.9" fill="rgb(93,103,175)"/><ellipse cx="843.5" cy="316.3" rx="2.3" ry="1.9" fill="rgb(89,99,172)"/><ellipse cx="852.1" cy="320.2" rx="1.9" ry="1.7" fill="rgb(92,102,174)"/><ellipse cx="857.8" cy="317.5" rx="2.5" ry="2.2" fill="rgb(141,149,202)"/><ellipse cx="865.8" cy="317.3" rx="2.4" ry="2.3" fill="rgb(145,153,205)"/><ellipse cx="875.2" cy="320.6" rx="2.5" ry="2" fill="rgb(88,98,172)"/><ellipse cx="743.2" cy="324.4" rx="1.7" ry="1.5" fill="rgb(97,106,177)"/><ellipse cx="749" cy="324.9" rx="2.2" ry="1.7" fill="rgb(99,109,178)"/><ellipse cx="755.7" cy="325.3" rx="1.6" ry="1.5" fill="rgb(142,150,203)"/><ellipse cx="762" cy="322.4" rx="1.8" ry="1.8" fill="rgb(123,132,192)"/><ellipse cx="771.4" cy="326" rx="2.3" ry="1.9" fill="rgb(108,117,183)"/><ellipse cx="777" cy="326.2" rx="2" ry="1.9" fill="rgb(90,100,173)"/><ellipse cx="789.1" cy="326.3" rx="1.7" ry="1.6" fill="rgb(101,110,179)"/><ellipse cx="791.9" cy="324.8" rx="1.7" ry="1.6" fill="rgb(129,137,196)"/><ellipse cx="802.3" cy="327" rx="1.8" ry="1.5" fill="rgb(95,104,176)"/><ellipse cx="810.8" cy="326.4" rx="1.9" ry="1.5" fill="rgb(142,150,203)"/><ellipse cx="818.3" cy="326.8" rx="2.4" ry="2.2" fill="rgb(135,143,199)"/><ellipse cx="822.3" cy="323.2" rx="2.1" ry="2" fill="rgb(140,149,202)"/><ellipse cx="831.2" cy="323.3" rx="1.6" ry="1.5" fill="rgb(125,134,194)"/><ellipse cx="839.1" cy="323.9" rx="1.9" ry="1.7" fill="rgb(101,110,179)"/><ellipse cx="847" cy="324.2" rx="1.9" ry="1.8" fill="rgb(132,140,197)"/><ellipse cx="856.7" cy="324" rx="2.6" ry="2.1" fill="rgb(147,155,206)"/><ellipse cx="860.6" cy="327.1" rx="1.9" ry="1.8" fill="rgb(106,116,183)"/><ellipse cx="870.8" cy="325.6" rx="2.3" ry="2.3" fill="rgb(97,107,177)"/><ellipse cx="878.7" cy="323.2" rx="1.6" ry="1.3" fill="rgb(141,149,203)"/><ellipse cx="747.9" cy="331.2" rx="2.6" ry="2.2" fill="rgb(110,120,185)"/><ellipse cx="753.5" cy="330.3" rx="1.6" ry="1.5" fill="rgb(129,138,196)"/><ellipse cx="758.3" cy="331.1" rx="2.6" ry="2.3" fill="rgb(115,124,187)"/><ellipse cx="768.4" cy="333.6" rx="1.8" ry="1.4" fill="rgb(134,143,199)"/><ellipse cx="774.9" cy="333.5" rx="2.5" ry="2.3" fill="rgb(141,149,203)"/><ellipse cx="782.1" cy="333.1" rx="2.1" ry="1.7" fill="rgb(88,98,172)"/><ellipse cx="791.7" cy="332" rx="2.6" ry="2.3" fill="rgb(147,155,206)"/><ellipse cx="800.1" cy="331.6" rx="1.7" ry="1.5" fill="rgb(145,154,205)"/><ellipse cx="807.3" cy="333.3" rx="1.8" ry="1.4" fill="rgb(103,112,181)"/><ellipse cx="811.4" cy="332.4" rx="2.3" ry="1.9" fill="rgb(99,109,178)"/><ellipse cx="818.5" cy="331.6" rx="2.3" ry="2.3" fill="rgb(112,121,186)"/><ellipse cx="828.3" cy="333.8" rx="2.2" ry="1.8" fill="rgb(103,112,180)"/><ellipse cx="833.9" cy="332" rx="2" ry="1.8" fill="rgb(129,137,196)"/><ellipse cx="842.9" cy="329.9" rx="1.9" ry="1.6" fill="rgb(104,114,181)"/><ellipse cx="850.9" cy="330.6" rx="2.4" ry="2" fill="rgb(141,149,203)"/><ellipse cx="856.6" cy="330.4" rx="1.9" ry="1.7" fill="rgb(126,134,194)"/><ellipse cx="865.1" cy="332.6" rx="2" ry="1.8" fill="rgb(139,148,202)"/><ellipse cx="875.5" cy="333.3" rx="2.2" ry="2.1" fill="rgb(93,102,174)"/></g>
<ellipse cx="874.7" cy="398.2" rx="1.7" ry="1" fill="rgb(150,100,45)" opacity="0.45" filter="url(#blur1)"/>
<ellipse cx="850" cy="366.3" rx="1.6" ry="1.7" fill="rgb(150,100,45)" opacity="0.45" filter="url(#blur1)"/>
<ellipse cx="761.1" cy="398.8" rx="2.3" ry="1" fill="rgb(150,100,45)" opacity="0.45" filter="url(#blur1)"/>
<ellipse cx="842.2" cy="348.8" rx="2.9" ry="1.3" fill="rgb(150,100,45)" opacity="0.45" filter="url(#blur1)"/>
<ellipse cx="819.4" cy="366.4" rx="2.3" ry="2.2" fill="rgb(150,100,45)" opacity="0.45" filter="url(#blur1)"/>
<ellipse cx="830.7" cy="389.8" rx="2.8" ry="2.3" fill="rgb(150,100,45)" opacity="0.45" filter="url(#blur1)"/>
<ellipse cx="794.4" cy="459.3" rx="2.5" ry="1.5" fill="rgb(150,100,45)" opacity="0.45" filter="url(#blur1)"/>
<ellipse cx="804.4" cy="455.3" rx="2.4" ry="2" fill="rgb(150,100,45)" opacity="0.45" filter="url(#blur1)"/>
<ellipse cx="840.5" cy="426" rx="2.7" ry="1.6" fill="rgb(150,100,45)" opacity="0.45" filter="url(#blur1)"/>
<ellipse cx="866.3" cy="406.9" rx="1.8" ry="1.5" fill="rgb(150,100,45)" opacity="0.45" filter="url(#blur1)"/>
<ellipse cx="900.7" cy="405.3" rx="2.8" ry="1.6" fill="rgb(150,100,45)" opacity="0.45" filter="url(#blur1)"/>
<ellipse cx="773.1" cy="343.3" rx="3" ry="1.1" fill="rgb(150,100,45)" opacity="0.45" filter="url(#blur1)"/>
<ellipse cx="823.6" cy="425.1" rx="3.4" ry="2" fill="rgb(150,100,45)" opacity="0.45" filter="url(#blur1)"/>
<ellipse cx="750.6" cy="400.5" rx="1.8" ry="2.2" fill="rgb(150,100,45)" opacity="0.45" filter="url(#blur1)"/>
<ellipse cx="885.5" cy="362.5" rx="3.3" ry="1.1" fill="rgb(150,100,45)" opacity="0.45" filter="url(#blur1)"/>
<ellipse cx="894.7" cy="390.8" rx="3" ry="1.6" fill="rgb(150,100,45)" opacity="0.45" filter="url(#blur1)"/>
<ellipse cx="861.8" cy="412.7" rx="2.9" ry="1.4" fill="rgb(150,100,45)" opacity="0.45" filter="url(#blur1)"/>
<ellipse cx="881.1" cy="413.9" rx="2.9" ry="1.2" fill="rgb(150,100,45)" opacity="0.45" filter="url(#blur1)"/>
<ellipse cx="782.8" cy="392.7" rx="1.8" ry="2.2" fill="rgb(150,100,45)" opacity="0.45" filter="url(#blur1)"/>
<ellipse cx="872.7" cy="443.4" rx="1.8" ry="1.2" fill="rgb(150,100,45)" opacity="0.45" filter="url(#blur1)"/>
<ellipse cx="844.7" cy="449.9" rx="2.5" ry="2.2" fill="rgb(150,100,45)" opacity="0.45" filter="url(#blur1)"/>
<ellipse cx="780.2" cy="392.5" rx="1.7" ry="1" fill="rgb(150,100,45)" opacity="0.45" filter="url(#blur1)"/>
<ellipse cx="742.9" cy="401.1" rx="3.2" ry="1.8" fill="rgb(150,100,45)" opacity="0.45" filter="url(#blur1)"/>
<ellipse cx="758.7" cy="369.7" rx="2.1" ry="2.4" fill="rgb(150,100,45)" opacity="0.45" filter="url(#blur1)"/>
<ellipse cx="843.1" cy="382.7" rx="2.2" ry="2.3" fill="rgb(150,100,45)" opacity="0.45" filter="url(#blur1)"/>
<ellipse cx="875.3" cy="382.9" rx="2.3" ry="1.2" fill="rgb(150,100,45)" opacity="0.45" filter="url(#blur1)"/>
<ellipse cx="777.5" cy="448.8" rx="2.9" ry="2.4" fill="rgb(150,100,45)" opacity="0.45" filter="url(#blur1)"/>
<ellipse cx="839.8" cy="344" rx="1.8" ry="1.1" fill="rgb(150,100,45)" opacity="0.45" filter="url(#blur1)"/>
<ellipse cx="834.7" cy="454.2" rx="3.1" ry="1.4" fill="rgb(150,100,45)" opacity="0.45" filter="url(#blur1)"/>
<ellipse cx="803" cy="406.1" rx="3.1" ry="1.4" fill="rgb(150,100,45)" opacity="0.45" filter="url(#blur1)"/>
<ellipse cx="841.7" cy="413" rx="2.1" ry="1.2" fill="rgb(150,100,45)" opacity="0.45" filter="url(#blur1)"/>
<ellipse cx="779.7" cy="427.4" rx="2.5" ry="2.4" fill="rgb(150,100,45)" opacity="0.45" filter="url(#blur1)"/>
<ellipse cx="880.9" cy="405.5" rx="3.4" ry="1.6" fill="rgb(150,100,45)" opacity="0.45" filter="url(#blur1)"/>
<ellipse cx="819" cy="387" rx="1.6" ry="2" fill="rgb(150,100,45)" opacity="0.45" filter="url(#blur1)"/>
<ellipse cx="867" cy="396.4" rx="3.1" ry="1.7" fill="rgb(150,100,45)" opacity="0.45" filter="url(#blur1)"/>
<ellipse cx="754.4" cy="431.1" rx="2.5" ry="1.1" fill="rgb(150,100,45)" opacity="0.45" filter="url(#blur1)"/>
<path d="M667 396 C685 375 710 356 740 344 C752 339 762 336 772 335 L774 340 C760 343 748 348 735 356 C712 370 690 392 667 414 Z" fill="#fcfcfe" filter="url(#blur1)"/>
<path d="M667 282 L736 282 C739 288 741 294 738 298 C725 300 705 302 690 305 C680 308 672 312 667 314 Z" fill="#f7f7fa" filter="url(#blur1)"/>
</g>
<path d="M814.5 326 L835.7 330.7 L857 340.9 L875 352.6 L893 369.1 L908 384.8 L915.8 406 L919.7 417 L910.3 425.6 L889.9 441.3 L867.9 452.3 L842.8 461.7 L820 469.6 L794.1 468.8 L770.6 462.5 L747.8 450.7 L729.8 436.6 L719.6 409.1 L714.9 398.9 L722.7 388.7 L736.8 370.7 L753.3 355 L772.2 342.4 L792.6 332.2Z" fill="none" stroke="#ff0000" stroke-width="5" stroke-dasharray="23 22" stroke-dashoffset="0"/>
<clipPath id="ci2"><rect x="984.5" y="282.2" width="310.5" height="232.6"/></clipPath>
<g clip-path="url(#ci2)">
<rect x="984.5" y="282.2" width="310.5" height="232.6" fill="rgb(229,230,241)"/>
<rect x="984.5" y="282.2" width="310.5" height="232.6" filter="url(#inoise)" opacity="0.6"/>
<path d="M1126.5 330 L1149.4 332.1 L1162 333.5 L1175.3 336.3 L1178.5 338.7 L1190.3 354.4 L1200.5 376.5 L1206 400.1 L1195 421.4 L1173 430 L1147.8 433.2 L1124.2 434.8 L1099 434 L1086.4 426.9 L1078.5 421.4 L1068.3 400.9 L1067.5 378.1 L1083.2 357.6 L1101.3 335.5Z" fill="rgb(232,222,210)" opacity="0.7" filter="url(#blur4)"/>
<g opacity="0.9" filter="url(#blur1)"><ellipse cx="984.2" cy="289.7" rx="3.6" ry="3.2" fill="rgb(95,105,176)"/><ellipse cx="1000.3" cy="286.2" rx="3.5" ry="3.3" fill="rgb(143,151,204)"/><ellipse cx="1023.8" cy="288.9" rx="3.4" ry="3.2" fill="rgb(141,149,203)"/><ellipse cx="1038.6" cy="286.3" rx="4.5" ry="3.9" fill="rgb(94,104,175)"/><ellipse cx="1061" cy="292.5" rx="3.6" ry="3.2" fill="rgb(134,143,199)"/><ellipse cx="1073.5" cy="291.1" rx="3.8" ry="3.6" fill="rgb(108,117,183)"/><ellipse cx="1087.2" cy="291.6" rx="4.3" ry="4.2" fill="rgb(98,108,178)"/><ellipse cx="1110.5" cy="287.2" rx="4" ry="3.6" fill="rgb(142,150,203)"/><ellipse cx="1120.8" cy="290.8" rx="4.1" ry="3.6" fill="rgb(99,109,178)"/><ellipse cx="1137.7" cy="289.7" rx="3.7" ry="3.7" fill="rgb(145,153,205)"/><ellipse cx="1156.2" cy="285.7" rx="4.3" ry="4.3" fill="rgb(90,99,173)"/><ellipse cx="1174" cy="294.2" rx="4.3" ry="3.8" fill="rgb(131,140,197)"/><ellipse cx="1193.3" cy="287.5" rx="4.5" ry="4.3" fill="rgb(119,128,190)"/><ellipse cx="1204.8" cy="286.2" rx="3.9" ry="3.5" fill="rgb(123,131,192)"/><ellipse cx="1232.1" cy="293.6" rx="4.3" ry="4.2" fill="rgb(143,151,204)"/><ellipse cx="1244.9" cy="291.2" rx="4.1" ry="3.7" fill="rgb(114,124,187)"/><ellipse cx="1264.6" cy="286.4" rx="3.6" ry="3.2" fill="rgb(135,144,199)"/><ellipse cx="1280.8" cy="294.3" rx="4.1" ry="3.6" fill="rgb(120,129,190)"/><ellipse cx="1292.5" cy="293.2" rx="4.2" ry="4.1" fill="rgb(129,137,195)"/><ellipse cx="995.3" cy="307.3" rx="4.3" ry="4.3" fill="rgb(137,146,201)"/><ellipse cx="1011.5" cy="302.2" rx="3.7" ry="3.5" fill="rgb(113,122,186)"/><ellipse cx="1036.6" cy="302.3" rx="4" ry="3.6" fill="rgb(123,132,192)"/><ellipse cx="1045.4" cy="302.8" rx="4" ry="3.8" fill="rgb(117,126,189)"/><ellipse cx="1065.3" cy="302.2" rx="3.9" ry="3.7" fill="rgb(116,125,188)"/><ellipse cx="1077.2" cy="303.9" rx="3.6" ry="3.4" fill="rgb(126,134,194)"/><ellipse cx="1098.8" cy="300.1" rx="4.1" ry="3.8" fill="rgb(127,136,194)"/><ellipse cx="1121.6" cy="301.2" rx="4.3" ry="3.9" fill="rgb(115,124,187)"/><ellipse cx="1133.4" cy="310.6" rx="4.5" ry="3.8" fill="rgb(131,139,197)"/><ellipse cx="1153.5" cy="309.8" rx="3.5" ry="3.2" fill="rgb(129,138,196)"/><ellipse cx="1172.2" cy="307.4" rx="3.7" ry="3.3" fill="rgb(94,104,175)"/><ellipse cx="1184.8" cy="306.2" rx="4" ry="3.6" fill="rgb(139,147,202)"/><ellipse cx="1198.9" cy="310.3" rx="4.3" ry="4.1" fill="rgb(122,130,191)"/><ellipse cx="1217.9" cy="307.8" rx="4.2" ry="4.2" fill="rgb(96,105,176)"/><ellipse cx="1231.8" cy="300.9" rx="3.6" ry="3.3" fill="rgb(101,111,179)"/><ellipse cx="1252.8" cy="310.8" rx="3.4" ry="3.2" fill="rgb(147,155,206)"/><ellipse cx="1268.5" cy="302.8" rx="3.6" ry="3.3" fill="rgb(88,98,172)"/><ellipse cx="1285.2" cy="310.8" rx="4.3" ry="4" fill="rgb(142,151,204)"/><ellipse cx="985.7" cy="319.3" rx="4.1" ry="3.8" fill="rgb(127,136,194)"/><ellipse cx="1007.9" cy="317.5" rx="3.8" ry="3.4" fill="rgb(143,151,204)"/><ellipse cx="1022.4" cy="317.1" rx="3.7" ry="3.4" fill="rgb(136,144,200)"/><ellipse cx="1043.2" cy="315.8" rx="3.6" ry="3.6" fill="rgb(139,148,202)"/><ellipse cx="1052.7" cy="319.3" rx="3.8" ry="3.3" fill="rgb(93,102,175)"/><ellipse cx="1076.6" cy="323.5" rx="3.4" ry="3.1" fill="rgb(115,124,187)"/><ellipse cx="1095.5" cy="319.5" rx="4.4" ry="4.3" fill="rgb(136,145,200)"/><ellipse cx="1103.5" cy="320.4" rx="4.1" ry="3.7" fill="rgb(101,110,179)"/><ellipse cx="1127.5" cy="319.9" rx="4.1" ry="3.8" fill="rgb(132,140,197)"/><ellipse cx="1143.7" cy="319.9" rx="4.1" ry="3.6" fill="rgb(105,115,182)"/><ellipse cx="1159" cy="324.8" rx="3.5" ry="3.3" fill="rgb(126,134,194)"/><ellipse cx="1174.5" cy="320.6" rx="3.5" ry="3.3" fill="rgb(126,135,194)"/><ellipse cx="1192.6" cy="325.5" rx="3.4" ry="3" fill="rgb(140,148,202)"/><ellipse cx="1214.3" cy="318.8" rx="4.2" ry="3.7" fill="rgb(100,110,179)"/><ellipse cx="1226.2" cy="318.8" rx="3.6" ry="3.1" fill="rgb(119,128,190)"/><ellipse cx="1239.4" cy="319.4" rx="4.4" ry="4.1" fill="rgb(134,143,199)"/><ellipse cx="1261.8" cy="318.8" rx="4.1" ry="3.5" fill="rgb(100,110,179)"/><ellipse cx="1277.9" cy="316.4" rx="4.4" ry="4.2" fill="rgb(141,149,203)"/><ellipse cx="1299.2" cy="322.5" rx="3.8" ry="3.3" fill="rgb(111,120,185)"/><ellipse cx="991.9" cy="332.9" rx="3.9" ry="3.8" fill="rgb(132,140,197)"/><ellipse cx="1016.5" cy="339.3" rx="4.2" ry="4.2" fill="rgb(106,116,182)"/><ellipse cx="1032.2" cy="330.4" rx="4.3" ry="3.9" fill="rgb(136,145,200)"/><ellipse cx="1048.6" cy="329.9" rx="3.6" ry="3.1" fill="rgb(118,127,189)"/><ellipse cx="1061.3" cy="332.3" rx="4.4" ry="4.1" fill="rgb(95,105,176)"/><ellipse cx="1083.7" cy="333.3" rx="4.3" ry="3.8" fill="rgb(92,102,174)"/><ellipse cx="1095.1" cy="335" rx="4.4" ry="3.9" fill="rgb(100,110,179)"/><ellipse cx="1136.5" cy="329.6" rx="4.4" ry="4.1" fill="rgb(97,107,177)"/><ellipse cx="1150.2" cy="329.7" rx="4" ry="3.5" fill="rgb(110,119,185)"/><ellipse cx="1169.6" cy="332.1" rx="3.4" ry="3" fill="rgb(116,125,188)"/><ellipse cx="1188.7" cy="338.5" rx="4.1" ry="3.5" fill="rgb(115,124,188)"/><ellipse cx="1200.1" cy="329.8" rx="4.2" ry="4.1" fill="rgb(139,148,202)"/><ellipse cx="1214.3" cy="340.1" rx="3.8" ry="3.7" fill="rgb(125,134,193)"/><ellipse cx="1235.1" cy="338.9" rx="4.3" ry="3.9" fill="rgb(95,105,176)"/><ellipse cx="1256.7" cy="332.5" rx="3.7" ry="3.2" fill="rgb(104,113,181)"/><ellipse cx="1271.2" cy="335.5" rx="4" ry="3.7" fill="rgb(121,130,191)"/><ellipse cx="1287.1" cy="333.4" rx="4.1" ry="3.6" fill="rgb(118,127,189)"/><ellipse cx="987.9" cy="355.1" rx="3.9" ry="3.7" fill="rgb(95,105,176)"/><ellipse cx="1008.1" cy="350" rx="4.1" ry="3.6" fill="rgb(93,103,175)"/><ellipse cx="1021.7" cy="348.9" rx="4.3" ry="3.8" fill="rgb(102,111,180)"/><ellipse cx="1039.2" cy="351.8" rx="3.5" ry="3.3" fill="rgb(106,116,183)"/><ellipse cx="1058.1" cy="352.7" rx="4.4" ry="4.3" fill="rgb(93,103,175)"/><ellipse cx="1077.1" cy="346.1" rx="4" ry="3.7" fill="rgb(135,143,199)"/><ellipse cx="1196.8" cy="346.1" rx="3.6" ry="3.5" fill="rgb(104,114,181)"/><ellipse cx="1206.4" cy="351.1" rx="3.6" ry="3.5" fill="rgb(129,137,195)"/><ellipse cx="1222.9" cy="346.1" rx="4.3" ry="4.1" fill="rgb(133,141,198)"/><ellipse cx="1240.9" cy="349.7" rx="4.4" ry="3.9" fill="rgb(134,143,199)"/><ellipse cx="1260.8" cy="347.1" rx="4.2" ry="4.1" fill="rgb(122,131,192)"/><ellipse cx="1273.4" cy="350.5" rx="3.9" ry="3.7" fill="rgb(134,143,199)"/><ellipse cx="1291.1" cy="347.3" rx="3.5" ry="3.2" fill="rgb(130,139,196)"/><ellipse cx="1002" cy="370.1" rx="4" ry="3.9" fill="rgb(92,102,174)"/><ellipse cx="1008.9" cy="368.4" rx="3.9" ry="3.8" fill="rgb(96,106,177)"/><ellipse cx="1033.2" cy="369.9" rx="3.9" ry="3.5" fill="rgb(88,98,172)"/><ellipse cx="1050.4" cy="362.6" rx="4.1" ry="3.6" fill="rgb(119,128,190)"/><ellipse cx="1065.6" cy="365.1" rx="3.4" ry="3.3" fill="rgb(101,111,180)"/><ellipse cx="1197.1" cy="363.4" rx="4.5" ry="3.8" fill="rgb(105,114,182)"/><ellipse cx="1219.9" cy="368.2" rx="3.4" ry="3.3" fill="rgb(139,148,202)"/><ellipse cx="1237.3" cy="360.2" rx="4.3" ry="4.1" fill="rgb(118,127,189)"/><ellipse cx="1255" cy="366" rx="3.8" ry="3.6" fill="rgb(106,116,182)"/><ellipse cx="1272.1" cy="364.8" rx="3.3" ry="3.2" fill="rgb(142,150,203)"/><ellipse cx="1291.3" cy="365.2" rx="3.9" ry="3.4" fill="rgb(142,151,204)"/><ellipse cx="988.9" cy="384.5" rx="3.7" ry="3.4" fill="rgb(114,123,187)"/><ellipse cx="1006.5" cy="381.9" rx="4.1" ry="3.5" fill="rgb(109,118,184)"/><ellipse cx="1025.2" cy="383.7" rx="3.9" ry="3.8" fill="rgb(124,133,193)"/><ellipse cx="1042.3" cy="376.8" rx="3.4" ry="3" fill="rgb(98,108,178)"/><ellipse cx="1054.4" cy="376.3" rx="4.5" ry="4" fill="rgb(125,134,193)"/><ellipse cx="1206.2" cy="378.9" rx="4.4" ry="4.2" fill="rgb(113,122,187)"/><ellipse cx="1230.8" cy="380.4" rx="4" ry="3.7" fill="rgb(98,108,178)"/><ellipse cx="1242.3" cy="376.3" rx="4.2" ry="3.6" fill="rgb(118,127,189)"/><ellipse cx="1265.9" cy="374.1" rx="3.3" ry="2.9" fill="rgb(141,149,202)"/><ellipse cx="1283" cy="381.1" rx="4.4" ry="4.1" fill="rgb(119,128,190)"/><ellipse cx="1292.8" cy="376.7" rx="4.5" ry="4.1" fill="rgb(90,99,173)"/><ellipse cx="997.1" cy="397.1" rx="4" ry="3.9" fill="rgb(90,100,173)"/><ellipse cx="1011.4" cy="390.6" rx="4.1" ry="3.8" fill="rgb(117,126,189)"/><ellipse cx="1036.2" cy="389.1" rx="4.1" ry="3.7" fill="rgb(92,102,174)"/><ellipse cx="1048.9" cy="398.1" rx="4.1" ry="4" fill="rgb(114,123,187)"/><ellipse cx="1063.5" cy="395.5" rx="4.5" ry="4.2" fill="rgb(100,109,179)"/><ellipse cx="1205.7" cy="389.9" rx="4.3" ry="3.8" fill="rgb(120,129,191)"/><ellipse cx="1217.9" cy="395.3" rx="3.8" ry="3.5" fill="rgb(115,124,187)"/><ellipse cx="1230.1" cy="391.1" rx="4" ry="3.5" fill="rgb(100,109,179)"/><ellipse cx="1247.9" cy="390.5" rx="3.4" ry="3.2" fill="rgb(101,110,179)"/><ellipse cx="1272" cy="394.2" rx="3.6" ry="3.2" fill="rgb(119,128,190)"/><ellipse cx="1287" cy="399.6" rx="3.5" ry="3.4" fill="rgb(141,149,203)"/><ellipse cx="986.8" cy="412.1" rx="3.6" ry="3.2" fill="rgb(99,109,178)"/><ellipse cx="1004.1" cy="409" rx="4.4" ry="4.1" fill="rgb(132,140,197)"/><ellipse cx="1019.4" cy="405.4" rx="4" ry="3.6" fill="rgb(118,127,189)"/><ellipse cx="1038.8" cy="408.6" rx="3.6" ry="3.3" fill="rgb(124,133,193)"/><ellipse cx="1056.1" cy="412.7" rx="4.4" ry="3.8" fill="rgb(91,101,174)"/><ellipse cx="1214.6" cy="414.2" rx="4.3" ry="3.7" fill="rgb(93,103,175)"/><ellipse cx="1221.4" cy="408.4" rx="3.4" ry="3.3" fill="rgb(95,105,176)"/><ellipse cx="1241.9" cy="409.7" rx="4.4" ry="3.7" fill="rgb(91,101,174)"/><ellipse cx="1260.6" cy="409.5" rx="4.2" ry="3.9" fill="rgb(96,106,176)"/><ellipse cx="1282.2" cy="405" rx="3.6" ry="3.5" fill="rgb(108,117,184)"/><ellipse cx="1292.8" cy="405.1" rx="3.8" ry="3.3" fill="rgb(125,134,193)"/><ellipse cx="994.7" cy="423.3" rx="3.5" ry="3.4" fill="rgb(138,146,201)"/><ellipse cx="1012.5" cy="419.8" rx="4.2" ry="3.9" fill="rgb(98,108,178)"/><ellipse cx="1034" cy="424.4" rx="3.8" ry="3.7" fill="rgb(133,141,198)"/><ellipse cx="1053.5" cy="420.3" rx="3.4" ry="2.9" fill="rgb(111,120,185)"/><ellipse cx="1065.5" cy="428.5" rx="3.3" ry="3.2" fill="rgb(119,128,190)"/><ellipse cx="1199.1" cy="425.2" rx="3.9" ry="3.7" fill="rgb(119,128,190)"/><ellipse cx="1217.9" cy="424.3" rx="4.1" ry="4" fill="rgb(95,105,176)"/><ellipse cx="1235.5" cy="426" rx="3.7" ry="3.3" fill="rgb(120,129,191)"/><ellipse cx="1257.5" cy="425" rx="4" ry="3.9" fill="rgb(112,121,186)"/><ellipse cx="1274" cy="420.9" rx="4.1" ry="3.9" fill="rgb(117,126,189)"/><ellipse cx="1283.3" cy="419.1" rx="4" ry="3.9" fill="rgb(128,136,195)"/><ellipse cx="993.6" cy="436.6" rx="4.1" ry="3.8" fill="rgb(131,140,197)"/><ellipse cx="1008.2" cy="442.8" rx="3.7" ry="3.4" fill="rgb(139,147,201)"/><ellipse cx="1026.7" cy="435.7" rx="4.4" ry="3.9" fill="rgb(115,124,187)"/><ellipse cx="1039.6" cy="440.8" rx="4" ry="3.8" fill="rgb(136,145,200)"/><ellipse cx="1052.6" cy="442.1" rx="4" ry="3.6" fill="rgb(141,150,203)"/><ellipse cx="1076.6" cy="433.5" rx="3.7" ry="3.4" fill="rgb(140,149,202)"/><ellipse cx="1087.1" cy="436.1" rx="4.4" ry="3.8" fill="rgb(136,145,200)"/><ellipse cx="1110.1" cy="434.5" rx="4.1" ry="3.7" fill="rgb(134,142,198)"/><ellipse cx="1124.2" cy="441.4" rx="3.4" ry="3.1" fill="rgb(116,125,188)"/><ellipse cx="1140.2" cy="442.9" rx="3.4" ry="3.1" fill="rgb(146,154,206)"/><ellipse cx="1155.7" cy="440.6" rx="3.6" ry="3.4" fill="rgb(88,98,172)"/><ellipse cx="1173.2" cy="437" rx="4.4" ry="4.2" fill="rgb(121,130,191)"/><ellipse cx="1195.6" cy="433.5" rx="3.6" ry="3.2" fill="rgb(106,115,182)"/><ellipse cx="1211.1" cy="434.7" rx="4" ry="3.6" fill="rgb(145,153,205)"/><ellipse cx="1223.2" cy="435.6" rx="3.7" ry="3.3" fill="rgb(94,104,175)"/><ellipse cx="1247.6" cy="437.3" rx="3.6" ry="3.5" fill="rgb(103,113,181)"/><ellipse cx="1265" cy="439.2" rx="4.1" ry="3.9" fill="rgb(94,104,175)"/><ellipse cx="1280.4" cy="443.4" rx="4.1" ry="3.9" fill="rgb(146,154,205)"/><ellipse cx="1299" cy="438.8" rx="4.2" ry="3.8" fill="rgb(91,101,174)"/><ellipse cx="993.6" cy="450.8" rx="3.7" ry="3.3" fill="rgb(94,103,175)"/><ellipse cx="1015.8" cy="455.5" rx="3.6" ry="3.5" fill="rgb(140,148,202)"/><ellipse cx="1036.1" cy="457.6" rx="4.5" ry="3.9" fill="rgb(102,111,180)"/><ellipse cx="1045.1" cy="455.2" rx="3.6" ry="3.3" fill="rgb(144,152,204)"/><ellipse cx="1062.3" cy="457" rx="3.9" ry="3.7" fill="rgb(106,116,182)"/><ellipse cx="1080.9" cy="452.2" rx="4.4" ry="4.1" fill="rgb(119,128,190)"/><ellipse cx="1103.3" cy="456.4" rx="3.7" ry="3.6" fill="rgb(124,133,193)"/><ellipse cx="1113.2" cy="452.9" rx="3.8" ry="3.7" fill="rgb(138,146,201)"/><ellipse cx="1138.4" cy="455.6" rx="3.5" ry="3.2" fill="rgb(119,128,190)"/><ellipse cx="1145.1" cy="458.8" rx="4.2" ry="3.8" fill="rgb(142,151,204)"/><ellipse cx="1165.5" cy="448.9" rx="3.3" ry="3.2" fill="rgb(124,133,193)"/><ellipse cx="1187.9" cy="448.2" rx="3.6" ry="3.5" fill="rgb(118,127,189)"/><ellipse cx="1197.9" cy="452.4" rx="4.2" ry="3.8" fill="rgb(133,142,198)"/><ellipse cx="1223.1" cy="451.5" rx="3.9" ry="3.8" fill="rgb(114,123,187)"/><ellipse cx="1240" cy="450.1" rx="4.3" ry="3.7" fill="rgb(100,110,179)"/><ellipse cx="1255.8" cy="453.4" rx="3.6" ry="3.2" fill="rgb(122,131,192)"/><ellipse cx="1271.2" cy="449.8" rx="4.3" ry="3.7" fill="rgb(139,148,202)"/><ellipse cx="1286.6" cy="458.4" rx="3.7" ry="3.3" fill="rgb(120,129,191)"/><ellipse cx="984.2" cy="464" rx="3.5" ry="3.4" fill="rgb(131,140,197)"/><ellipse cx="1003.4" cy="468.8" rx="4" ry="3.6" fill="rgb(100,109,179)"/><ellipse cx="1023.7" cy="464.6" rx="3.9" ry="3.6" fill="rgb(106,115,182)"/><ellipse cx="1037.6" cy="473.1" rx="3.5" ry="3.2" fill="rgb(105,114,182)"/><ellipse cx="1053.5" cy="470.2" rx="3.8" ry="3.5" fill="rgb(131,139,197)"/><ellipse cx="1072.4" cy="470" rx="3.4" ry="3.4" fill="rgb(115,125,188)"/><ellipse cx="1088.8" cy="472.9" rx="4.3" ry="4.2" fill="rgb(96,106,176)"/><ellipse cx="1110.6" cy="466.3" rx="3.8" ry="3.6" fill="rgb(138,146,201)"/><ellipse cx="1129.2" cy="470" rx="3.8" ry="3.4" fill="rgb(144,152,205)"/><ellipse cx="1145.6" cy="470.6" rx="4" ry="3.8" fill="rgb(137,146,201)"/><ellipse cx="1162.4" cy="473.3" rx="3.9" ry="3.4" fill="rgb(114,123,187)"/><ellipse cx="1172" cy="469.7" rx="4.1" ry="3.8" fill="rgb(134,143,199)"/><ellipse cx="1193.5" cy="473.3" rx="4.2" ry="3.9" fill="rgb(131,140,197)"/><ellipse cx="1213.7" cy="472.6" rx="4.4" ry="4.4" fill="rgb(102,112,180)"/><ellipse cx="1225" cy="467.3" rx="3.7" ry="3.4" fill="rgb(143,151,204)"/><ellipse cx="1243.6" cy="471.8" rx="3.6" ry="3.2" fill="rgb(128,137,195)"/><ellipse cx="1262.2" cy="467.2" rx="4.2" ry="4" fill="rgb(117,126,189)"/><ellipse cx="1275.1" cy="471.1" rx="3.7" ry="3.5" fill="rgb(93,103,175)"/><ellipse cx="1297.2" cy="469.1" rx="3.7" ry="3.4" fill="rgb(100,110,179)"/><ellipse cx="996.1" cy="482.2" rx="3.6" ry="3.4" fill="rgb(100,109,179)"/><ellipse cx="1010.7" cy="480.6" rx="4" ry="3.7" fill="rgb(96,106,177)"/><ellipse cx="1034.2" cy="487.8" rx="3.7" ry="3.1" fill="rgb(100,109,179)"/><ellipse cx="1051.5" cy="480.7" rx="3.4" ry="3.3" fill="rgb(142,150,203)"/><ellipse cx="1060.2" cy="484.2" rx="4.2" ry="4.2" fill="rgb(107,116,183)"/><ellipse cx="1083.7" cy="487.7" rx="3.8" ry="3.4" fill="rgb(139,148,202)"/><ellipse cx="1094.7" cy="487" rx="3.8" ry="3.2" fill="rgb(93,103,175)"/><ellipse cx="1119.2" cy="482.3" rx="4.1" ry="3.5" fill="rgb(97,107,177)"/><ellipse cx="1135.4" cy="483.8" rx="3.6" ry="3.4" fill="rgb(97,107,177)"/><ellipse cx="1152.8" cy="479.7" rx="3.7" ry="3.3" fill="rgb(115,125,188)"/><ellipse cx="1169.6" cy="487.5" rx="4" ry="3.4" fill="rgb(109,119,184)"/><ellipse cx="1185.1" cy="483.6" rx="4.4" ry="3.7" fill="rgb(147,155,206)"/><ellipse cx="1202" cy="487.3" rx="4.5" ry="4.4" fill="rgb(141,149,203)"/><ellipse cx="1220.9" cy="482.6" rx="4" ry="3.4" fill="rgb(119,128,190)"/><ellipse cx="1236.6" cy="487" rx="4.5" ry="4.1" fill="rgb(146,154,205)"/><ellipse cx="1255.9" cy="485.8" rx="3.8" ry="3.4" fill="rgb(94,103,175)"/><ellipse cx="1273.6" cy="480.4" rx="3.9" ry="3.5" fill="rgb(131,140,197)"/><ellipse cx="1281.2" cy="477.9" rx="4.1" ry="4" fill="rgb(145,153,205)"/><ellipse cx="990.8" cy="501" rx="3.4" ry="3" fill="rgb(137,145,200)"/><ellipse cx="1010.7" cy="493" rx="3.9" ry="3.4" fill="rgb(107,116,183)"/><ellipse cx="1021.4" cy="502.8" rx="4.1" ry="3.6" fill="rgb(133,141,198)"/><ellipse cx="1041.9" cy="501.3" rx="3.7" ry="3.7" fill="rgb(90,100,173)"/><ellipse cx="1053.2" cy="496.9" rx="3.9" ry="3.4" fill="rgb(90,100,173)"/><ellipse cx="1077.2" cy="497.2" rx="3.6" ry="3.4" fill="rgb(123,132,192)"/><ellipse cx="1090.8" cy="502.2" rx="4" ry="3.9" fill="rgb(95,105,176)"/><ellipse cx="1110.2" cy="493.6" rx="3.9" ry="3.6" fill="rgb(116,125,188)"/><ellipse cx="1126.9" cy="502.1" rx="3.3" ry="2.9" fill="rgb(100,109,179)"/><ellipse cx="1139.4" cy="502.9" rx="3.8" ry="3.5" fill="rgb(91,101,174)"/><ellipse cx="1156.4" cy="501.6" rx="3.6" ry="3.3" fill="rgb(104,114,181)"/><ellipse cx="1172.6" cy="502.7" rx="4.3" ry="4.1" fill="rgb(112,121,186)"/><ellipse cx="1197" cy="501.6" rx="3.9" ry="3.6" fill="rgb(127,136,194)"/><ellipse cx="1212.3" cy="494.2" rx="3.9" ry="3.4" fill="rgb(117,126,189)"/><ellipse cx="1223.3" cy="493" rx="3.6" ry="3.6" fill="rgb(109,119,184)"/><ellipse cx="1243.7" cy="500.2" rx="3.9" ry="3.7" fill="rgb(110,119,184)"/><ellipse cx="1264" cy="495.8" rx="4.2" ry="3.7" fill="rgb(145,153,205)"/><ellipse cx="1282.4" cy="500.6" rx="3.4" ry="3" fill="rgb(127,136,194)"/><ellipse cx="1295.3" cy="500.3" rx="3.6" ry="3.2" fill="rgb(115,124,187)"/><ellipse cx="997.4" cy="513.9" rx="4.2" ry="3.6" fill="rgb(100,110,179)"/><ellipse cx="1018.1" cy="513.1" rx="3.7" ry="3.2" fill="rgb(128,137,195)"/><ellipse cx="1035.5" cy="515.2" rx="3.6" ry="3.5" fill="rgb(133,142,198)"/><ellipse cx="1052.6" cy="510.1" rx="3.8" ry="3.4" fill="rgb(144,153,205)"/><ellipse cx="1061.2" cy="515.5" rx="3.8" ry="3.3" fill="rgb(115,124,188)"/><ellipse cx="1080.5" cy="507.3" rx="4.4" ry="3.9" fill="rgb(133,142,198)"/><ellipse cx="1104.4" cy="513" rx="3.4" ry="3.1" fill="rgb(103,113,181)"/><ellipse cx="1112.1" cy="511.6" rx="4.3" ry="4.1" fill="rgb(139,147,201)"/><ellipse cx="1133.5" cy="510.9" rx="4.4" ry="4.1" fill="rgb(102,112,180)"/><ellipse cx="1148.9" cy="510.6" rx="4.4" ry="4" fill="rgb(133,141,198)"/><ellipse cx="1170.3" cy="509.1" rx="3.3" ry="3.2" fill="rgb(120,129,190)"/><ellipse cx="1189.6" cy="511.9" rx="3.9" ry="3.6" fill="rgb(131,139,197)"/><ellipse cx="1197.3" cy="508.3" rx="3.4" ry="2.9" fill="rgb(109,119,184)"/><ellipse cx="1213.1" cy="511.1" rx="4.3" ry="3.8" fill="rgb(90,100,173)"/><ellipse cx="1232.9" cy="516.3" rx="4" ry="3.6" fill="rgb(107,116,183)"/><ellipse cx="1252.8" cy="507.1" rx="4.1" ry="3.6" fill="rgb(143,151,204)"/><ellipse cx="1264.4" cy="509" rx="3.8" ry="3.3" fill="rgb(126,135,194)"/><ellipse cx="1284.7" cy="515.7" rx="4.1" ry="3.5" fill="rgb(111,121,185)"/></g>
<g opacity="0.8" filter="url(#blur1)"><ellipse cx="1110.2" cy="334.4" rx="2.4" ry="2.1" fill="rgb(136,144,200)"/><ellipse cx="1120.4" cy="336.4" rx="2.2" ry="2.1" fill="rgb(140,148,202)"/><ellipse cx="1128.2" cy="337.1" rx="2.7" ry="2.3" fill="rgb(101,111,179)"/><ellipse cx="1136.8" cy="334" rx="2.2" ry="2.1" fill="rgb(94,103,175)"/><ellipse cx="1147.3" cy="334.2" rx="2.6" ry="2.3" fill="rgb(120,129,190)"/><ellipse cx="1159.5" cy="334" rx="2.4" ry="2.1" fill="rgb(119,128,190)"/><ellipse cx="1165.5" cy="336.1" rx="2.6" ry="2.4" fill="rgb(127,135,194)"/><ellipse cx="1094.6" cy="345.9" rx="2.8" ry="2.4" fill="rgb(125,133,193)"/><ellipse cx="1106.7" cy="344" rx="2.5" ry="2.3" fill="rgb(120,129,190)"/><ellipse cx="1117.9" cy="346.6" rx="2.7" ry="2.4" fill="rgb(125,134,193)"/><ellipse cx="1123.7" cy="343.3" rx="2.3" ry="2.2" fill="rgb(134,143,199)"/><ellipse cx="1136.5" cy="342.2" rx="2.6" ry="2.6" fill="rgb(117,126,189)"/><ellipse cx="1141.8" cy="347.5" rx="2.8" ry="2.7" fill="rgb(95,104,176)"/><ellipse cx="1152.9" cy="342.8" rx="2.5" ry="2.3" fill="rgb(135,143,199)"/><ellipse cx="1164.4" cy="344.2" rx="2.3" ry="2.3" fill="rgb(111,120,185)"/><ellipse cx="1171.7" cy="344" rx="2.4" ry="2.2" fill="rgb(130,139,197)"/><ellipse cx="1181.7" cy="346.3" rx="2.8" ry="2.5" fill="rgb(111,120,185)"/><ellipse cx="1093.4" cy="351.3" rx="2.2" ry="2" fill="rgb(91,100,173)"/><ellipse cx="1101.9" cy="355" rx="2.7" ry="2.4" fill="rgb(133,142,198)"/><ellipse cx="1108.4" cy="353.1" rx="2.3" ry="2.1" fill="rgb(147,155,206)"/><ellipse cx="1122.3" cy="354.4" rx="2.2" ry="2.1" fill="rgb(144,152,204)"/><ellipse cx="1129.9" cy="353.9" rx="2.3" ry="2.1" fill="rgb(89,99,172)"/><ellipse cx="1138.3" cy="352.3" rx="2.1" ry="2" fill="rgb(146,155,206)"/><ellipse cx="1149.5" cy="354.6" rx="2.6" ry="2.5" fill="rgb(128,136,195)"/><ellipse cx="1159.9" cy="352.9" rx="2.5" ry="2.3" fill="rgb(132,140,197)"/><ellipse cx="1167" cy="355.6" rx="2.8" ry="2.7" fill="rgb(97,107,177)"/><ellipse cx="1179.4" cy="355.5" rx="2.5" ry="2.3" fill="rgb(133,141,198)"/><ellipse cx="1189.1" cy="355.3" rx="2.4" ry="2.1" fill="rgb(109,118,184)"/><ellipse cx="1086.7" cy="361.5" rx="2.3" ry="2.3" fill="rgb(107,116,183)"/><ellipse cx="1094.8" cy="363.1" rx="2.7" ry="2.4" fill="rgb(104,113,181)"/><ellipse cx="1108" cy="364" rx="2.2" ry="1.9" fill="rgb(147,155,206)"/><ellipse cx="1117.6" cy="360.4" rx="2.2" ry="1.9" fill="rgb(133,142,198)"/><ellipse cx="1124.1" cy="361.9" rx="2.7" ry="2.6" fill="rgb(93,103,175)"/><ellipse cx="1133.8" cy="359" rx="2.4" ry="2.2" fill="rgb(121,130,191)"/><ellipse cx="1144.3" cy="359.6" rx="2.2" ry="2" fill="rgb(106,115,182)"/><ellipse cx="1155.9" cy="360.5" rx="2.6" ry="2.3" fill="rgb(132,140,197)"/><ellipse cx="1161.6" cy="362.1" rx="2.4" ry="2.2" fill="rgb(141,149,203)"/><ellipse cx="1171.5" cy="362.8" rx="2.1" ry="2" fill="rgb(125,134,194)"/><ellipse cx="1183.7" cy="363" rx="2.3" ry="2.2" fill="rgb(107,116,183)"/><ellipse cx="1190.9" cy="361.8" rx="2.2" ry="2" fill="rgb(126,135,194)"/><ellipse cx="1080.5" cy="368.2" rx="2.7" ry="2.5" fill="rgb(93,103,175)"/><ellipse cx="1090.7" cy="369.9" rx="2.4" ry="2.2" fill="rgb(90,100,173)"/><ellipse cx="1102.6" cy="369.2" rx="2.7" ry="2.5" fill="rgb(140,148,202)"/><ellipse cx="1111.4" cy="368.7" rx="2.6" ry="2.6" fill="rgb(147,155,206)"/><ellipse cx="1120" cy="368.6" rx="2.3" ry="2.3" fill="rgb(124,133,193)"/><ellipse cx="1127.4" cy="370.2" rx="2.4" ry="2.4" fill="rgb(140,148,202)"/><ellipse cx="1139.3" cy="369.4" rx="2.1" ry="1.9" fill="rgb(146,154,206)"/><ellipse cx="1149.7" cy="367.2" rx="2.7" ry="2.4" fill="rgb(91,101,174)"/><ellipse cx="1156.4" cy="370.9" rx="2.2" ry="2.1" fill="rgb(136,144,200)"/><ellipse cx="1167.5" cy="371.6" rx="2.3" ry="2.2" fill="rgb(105,114,182)"/><ellipse cx="1175.7" cy="371.8" rx="2.4" ry="2.3" fill="rgb(130,139,197)"/><ellipse cx="1189.1" cy="371" rx="2.8" ry="2.4" fill="rgb(137,146,201)"/><ellipse cx="1193.7" cy="368.2" rx="2.7" ry="2.6" fill="rgb(131,139,197)"/><ellipse cx="1070.2" cy="376.9" rx="2.6" ry="2.3" fill="rgb(141,149,203)"/><ellipse cx="1078" cy="376.9" rx="2.1" ry="1.9" fill="rgb(110,119,184)"/><ellipse cx="1084.4" cy="379.1" rx="2.7" ry="2.5" fill="rgb(104,113,181)"/><ellipse cx="1097.5" cy="376.3" rx="2.1" ry="2" fill="rgb(135,144,199)"/><ellipse cx="1105.7" cy="375.7" rx="2.6" ry="2.4" fill="rgb(128,137,195)"/><ellipse cx="1114.1" cy="377.5" rx="2.6" ry="2.5" fill="rgb(125,133,193)"/><ellipse cx="1126.5" cy="376.4" rx="2.6" ry="2.2" fill="rgb(133,142,198)"/><ellipse cx="1132.6" cy="377.1" rx="2.5" ry="2.4" fill="rgb(107,116,183)"/><ellipse cx="1142.7" cy="376.2" rx="2.2" ry="2" fill="rgb(142,150,203)"/><ellipse cx="1153" cy="375.3" rx="2.2" ry="2.2" fill="rgb(116,125,188)"/><ellipse cx="1163.9" cy="377.9" rx="2.4" ry="2.3" fill="rgb(94,104,175)"/><ellipse cx="1170.5" cy="378.2" rx="2.3" ry="2" fill="rgb(107,117,183)"/><ellipse cx="1179.5" cy="378.2" rx="2.6" ry="2.2" fill="rgb(98,107,178)"/><ellipse cx="1191.7" cy="377.9" rx="2.4" ry="2.2" fill="rgb(88,98,172)"/><ellipse cx="1073.1" cy="385.9" rx="2.3" ry="2.2" fill="rgb(126,135,194)"/><ellipse cx="1082.6" cy="383.8" rx="2.7" ry="2.6" fill="rgb(129,138,196)"/><ellipse cx="1092.2" cy="386" rx="2.6" ry="2.5" fill="rgb(136,145,200)"/><ellipse cx="1100.2" cy="383.5" rx="2.2" ry="1.9" fill="rgb(135,143,199)"/><ellipse cx="1111.3" cy="385.7" rx="2.1" ry="2.1" fill="rgb(119,128,190)"/><ellipse cx="1117.5" cy="387.4" rx="2.8" ry="2.7" fill="rgb(96,106,177)"/><ellipse cx="1129.7" cy="383.8" rx="2.5" ry="2.3" fill="rgb(99,109,178)"/><ellipse cx="1136.9" cy="384.4" rx="2.5" ry="2.2" fill="rgb(98,107,177)"/><ellipse cx="1148.2" cy="385.8" rx="2.6" ry="2.6" fill="rgb(134,142,198)"/><ellipse cx="1158" cy="386.6" rx="2.8" ry="2.8" fill="rgb(103,112,181)"/><ellipse cx="1167.4" cy="383.4" rx="2.2" ry="2.2" fill="rgb(109,119,184)"/><ellipse cx="1178.5" cy="388.7" rx="2.3" ry="2" fill="rgb(90,100,173)"/><ellipse cx="1184.2" cy="384.5" rx="2.5" ry="2.3" fill="rgb(93,103,175)"/><ellipse cx="1195.5" cy="386.1" rx="2.6" ry="2.4" fill="rgb(139,147,202)"/><ellipse cx="1069.4" cy="396.4" rx="2.1" ry="1.9" fill="rgb(93,103,175)"/><ellipse cx="1076.9" cy="394.2" rx="2.4" ry="2.1" fill="rgb(142,150,203)"/><ellipse cx="1086.8" cy="395.6" rx="2.7" ry="2.4" fill="rgb(117,126,189)"/><ellipse cx="1097" cy="395.9" rx="2.1" ry="1.9" fill="rgb(129,138,196)"/><ellipse cx="1104.2" cy="391.7" rx="2.3" ry="2" fill="rgb(124,133,193)"/><ellipse cx="1117.4" cy="395.6" rx="2.6" ry="2.5" fill="rgb(133,142,198)"/><ellipse cx="1122.6" cy="396.4" rx="2.3" ry="2.2" fill="rgb(109,119,184)"/><ellipse cx="1136.3" cy="396" rx="2.7" ry="2.5" fill="rgb(103,113,181)"/><ellipse cx="1145.2" cy="397.2" rx="2.3" ry="2.2" fill="rgb(91,100,173)"/><ellipse cx="1155.4" cy="395.3" rx="2.2" ry="2.1" fill="rgb(100,110,179)"/><ellipse cx="1161.5" cy="393.8" rx="2.5" ry="2.2" fill="rgb(102,111,180)"/><ellipse cx="1174.3" cy="391.6" rx="2.1" ry="2.1" fill="rgb(107,116,183)"/><ellipse cx="1181.7" cy="396.5" rx="2.3" ry="2.2" fill="rgb(94,104,175)"/><ellipse cx="1190.1" cy="396.9" rx="2.1" ry="2" fill="rgb(134,143,199)"/><ellipse cx="1202.8" cy="394.1" rx="2.5" ry="2.2" fill="rgb(142,150,203)"/><ellipse cx="1070.1" cy="400.4" rx="2.6" ry="2.2" fill="rgb(88,98,172)"/><ellipse cx="1082.9" cy="403.6" rx="2.4" ry="2.4" fill="rgb(112,121,186)"/><ellipse cx="1094" cy="403.2" rx="2.4" ry="2.3" fill="rgb(124,132,193)"/><ellipse cx="1099.8" cy="402" rx="2.2" ry="1.9" fill="rgb(134,143,199)"/><ellipse cx="1109.2" cy="400.6" rx="2.5" ry="2.4" fill="rgb(137,145,200)"/><ellipse cx="1118.7" cy="401.7" rx="2.7" ry="2.6" fill="rgb(119,128,190)"/><ellipse cx="1132" cy="400.7" rx="2.3" ry="2.3" fill="rgb(109,118,184)"/><ellipse cx="1141.2" cy="401.8" rx="2.4" ry="2" fill="rgb(102,112,180)"/><ellipse cx="1150.3" cy="404.6" rx="2.6" ry="2.5" fill="rgb(137,145,200)"/><ellipse cx="1156.9" cy="401.7" rx="2.7" ry="2.5" fill="rgb(133,142,198)"/><ellipse cx="1165.3" cy="403.9" rx="2.4" ry="2" fill="rgb(120,129,190)"/><ellipse cx="1178.1" cy="400.6" rx="2.1" ry="2" fill="rgb(124,133,193)"/><ellipse cx="1187.1" cy="405.1" rx="2.6" ry="2.2" fill="rgb(103,112,180)"/><ellipse cx="1193.9" cy="401.3" rx="2.6" ry="2.4" fill="rgb(143,151,204)"/><ellipse cx="1075.7" cy="410.6" rx="2.1" ry="1.9" fill="rgb(89,99,173)"/><ellipse cx="1086.1" cy="410.5" rx="2.5" ry="2.5" fill="rgb(127,136,195)"/><ellipse cx="1096.3" cy="410.1" rx="2.6" ry="2.5" fill="rgb(101,110,179)"/><ellipse cx="1107.5" cy="409.4" rx="2.4" ry="2.4" fill="rgb(109,118,184)"/><ellipse cx="1117.4" cy="413.2" rx="2.6" ry="2.4" fill="rgb(121,130,191)"/><ellipse cx="1123.5" cy="411.1" rx="2.5" ry="2.3" fill="rgb(121,130,191)"/><ellipse cx="1135.1" cy="409.4" rx="2.5" ry="2.2" fill="rgb(96,106,176)"/><ellipse cx="1143.6" cy="409.5" rx="2.6" ry="2.6" fill="rgb(131,139,197)"/><ellipse cx="1153.4" cy="408.5" rx="2.5" ry="2.3" fill="rgb(118,127,189)"/><ellipse cx="1164" cy="412" rx="2.3" ry="2.1" fill="rgb(139,148,202)"/><ellipse cx="1170.3" cy="410.2" rx="2.8" ry="2.7" fill="rgb(130,138,196)"/><ellipse cx="1181" cy="410.7" rx="2.1" ry="2" fill="rgb(94,104,175)"/><ellipse cx="1193.4" cy="413.6" rx="2.6" ry="2.6" fill="rgb(93,103,175)"/><ellipse cx="1080.2" cy="420" rx="2.3" ry="2.1" fill="rgb(124,133,193)"/><ellipse cx="1090.6" cy="417.3" rx="2.4" ry="2.1" fill="rgb(132,140,197)"/><ellipse cx="1101.9" cy="419.6" rx="2.8" ry="2.5" fill="rgb(110,119,185)"/><ellipse cx="1107.8" cy="418.7" rx="2.2" ry="2.1" fill="rgb(107,116,183)"/><ellipse cx="1120.4" cy="416.6" rx="2.8" ry="2.7" fill="rgb(112,121,186)"/><ellipse cx="1130.3" cy="419.8" rx="2.4" ry="2.1" fill="rgb(88,98,172)"/><ellipse cx="1141" cy="421.2" rx="2.5" ry="2.3" fill="rgb(115,125,188)"/><ellipse cx="1150.8" cy="419.4" rx="2.6" ry="2.3" fill="rgb(125,134,193)"/><ellipse cx="1158.4" cy="417.3" rx="2.6" ry="2.2" fill="rgb(115,124,187)"/><ellipse cx="1167.8" cy="418.9" rx="2.7" ry="2.5" fill="rgb(89,99,172)"/><ellipse cx="1174.9" cy="417.7" rx="2.2" ry="1.9" fill="rgb(94,104,175)"/><ellipse cx="1186.6" cy="418.3" rx="2.6" ry="2.6" fill="rgb(140,148,202)"/><ellipse cx="1193.6" cy="416.7" rx="2.3" ry="2.3" fill="rgb(95,105,176)"/><ellipse cx="1098.8" cy="424.9" rx="2.2" ry="2" fill="rgb(139,148,202)"/><ellipse cx="1104.4" cy="429.6" rx="2.6" ry="2.2" fill="rgb(134,143,199)"/><ellipse cx="1113.6" cy="429.6" rx="2.5" ry="2.3" fill="rgb(102,112,180)"/><ellipse cx="1123.5" cy="426.1" rx="2.7" ry="2.6" fill="rgb(93,103,175)"/><ellipse cx="1135" cy="428.8" rx="2.6" ry="2.4" fill="rgb(135,143,199)"/><ellipse cx="1144.5" cy="429.6" rx="2.2" ry="1.9" fill="rgb(144,152,204)"/><ellipse cx="1150.8" cy="424.7" rx="2.3" ry="2" fill="rgb(127,135,194)"/><ellipse cx="1161.8" cy="425.9" rx="2.2" ry="2" fill="rgb(138,146,201)"/><ellipse cx="1171.6" cy="429.9" rx="2.4" ry="2.1" fill="rgb(91,101,174)"/><ellipse cx="1122.1" cy="433" rx="2.8" ry="2.6" fill="rgb(111,120,185)"/><ellipse cx="1126.9" cy="434.1" rx="2.8" ry="2.4" fill="rgb(112,121,186)"/></g>
<path d="M984.5 486 C1005 484 1030 482 1050 478 C1065 474 1076 462 1084 448 C1088 441 1094 438 1100 444 C1106 452 1110 465 1115 478 C1120 492 1128 505 1138 515 L984.5 515 Z" fill="#fdfdfe" filter="url(#blur1)"/>
<path d="M1078 440 C1085 432 1095 428 1108 430 C1114 436 1116 446 1114 455 C1106 448 1095 440 1078 440 Z" fill="rgb(205,188,165)" opacity="0.8" filter="url(#blur1)"/>
<circle cx="1157" cy="431" r="3.5" fill="rgb(120,70,30)" opacity="0.8"/>
<circle cx="1167" cy="432" r="2.6" fill="rgb(120,70,30)" opacity="0.8"/>
<circle cx="1141" cy="430" r="2.2" fill="rgb(120,70,30)" opacity="0.8"/>
<circle cx="1146" cy="412" r="3" fill="rgb(120,70,30)" opacity="0.8"/>
<circle cx="1172" cy="410" r="3" fill="rgb(120,70,30)" opacity="0.8"/>
<ellipse cx="1030" cy="336" rx="6" ry="4" fill="#fafafc" opacity="0.85" filter="url(#blur1)"/>
<ellipse cx="1188" cy="400" rx="5" ry="5" fill="#fafafc" opacity="0.85" filter="url(#blur1)"/>
<ellipse cx="1237" cy="356" rx="10" ry="4" fill="#fafafc" opacity="0.85" filter="url(#blur1)"/>
<ellipse cx="1260" cy="320" rx="6" ry="10" fill="#fafafc" opacity="0.85" filter="url(#blur1)"/>
<ellipse cx="1035" cy="368" rx="4" ry="3" fill="#fafafc" opacity="0.85" filter="url(#blur1)"/>
<ellipse cx="1082" cy="395" rx="3" ry="6" fill="#fafafc" opacity="0.85" filter="url(#blur1)"/>
<path d="M1118 478 C1125 490 1133 502 1140 512" stroke="rgb(60,60,60)" stroke-width="1.2" fill="none"/>
</g>
<path d="M1126.5 330 C1134.5 329.4 1143.5 331.5 1149.4 332.1 C1155.3 332.7 1157.7 332.8 1162 333.5 C1166.3 334.2 1172.5 335.4 1175.3 336.3 C1178 337.2 1176 335.7 1178.5 338.7 C1181 341.7 1186.6 348.1 1190.3 354.4 C1194 360.7 1197.9 368.9 1200.5 376.5 C1203.1 384.1 1206.9 392.6 1206 400.1 C1205.1 407.6 1200.5 416.4 1195 421.4 C1189.5 426.4 1180.9 428 1173 430 C1165.1 432 1155.9 432.4 1147.8 433.2 C1139.7 434 1132.3 434.7 1124.2 434.8 C1116.1 434.9 1105.3 435.3 1099 434 C1092.7 432.7 1089.8 429 1086.4 426.9 C1083 424.8 1081.5 425.7 1078.5 421.4 C1075.5 417.1 1070.1 408.1 1068.3 400.9 C1066.5 393.7 1065 385.3 1067.5 378.1 C1070 370.9 1077.6 364.7 1083.2 357.6 C1088.8 350.5 1094.1 340.1 1101.3 335.5 C1108.5 330.9 1118.5 330.6 1126.5 330Z" fill="none" stroke="#ff0000" stroke-width="5" stroke-dasharray="23 22" stroke-dashoffset="0"/>
<text class="it" x="790.5" y="22.8" font-size="29" fill="#231815">Talin-1</text>
<text class="it" x="879" y="13.5" font-size="17" letter-spacing="0.4" fill="#231815">fl/fl</text>
<text class="it" x="988.5" y="22.7" font-size="29" letter-spacing="0.54" fill="#231815">Talin-1</text>
<text class="it" x="1078.27" y="13.4" font-size="17" letter-spacing="0.54" fill="#231815">fl/fl</text>
<text class="it" x="1102.7" y="22.7" font-size="29" letter-spacing="0.54" fill="#231815">; Ins1-CreERT</text>
<text class="r" transform="translate(648 221) rotate(-90)" x="0" y="0" font-size="29" textLength="93.8" lengthAdjust="spacing">Talin-1</text>
<text class="r" transform="translate(648.3 443) rotate(-90)" x="0" y="0" font-size="29" textLength="75.2" lengthAdjust="spacing">Stat3</text>
<line x1="1122.8" y1="545.6" x2="1182.8" y2="545.6" stroke="#231815" stroke-width="2.4"/>
<text class="r" x="1208.8" y="553.3" font-size="28" textLength="80" lengthAdjust="spacing" fill="#231815">50 µm</text>
<circle cx="1514.7" cy="98.2" r="6.3" fill="#15809c"/>
<rect x="1508.5" y="130.2" width="12.2" height="12.2" fill="#ff0000"/>
<text class="it" x="1585.3" y="108.1" font-size="29" letter-spacing="0.84">Talin-1</text>
<text class="it" x="1677.18" y="96.3" font-size="20" letter-spacing="0.84">fl/fl</text>
<text class="r" x="1706.97" y="108.1" font-size="29" letter-spacing="0.84"> (4)</text>
<text class="it" x="1585.3" y="145.6" font-size="29" letter-spacing="0.59">Talin-1</text>
<text class="it" x="1675.37" y="133.8" font-size="20" letter-spacing="0.59">fl/fl</text>
<text class="it" x="1703.85" y="145.6" font-size="29" letter-spacing="0.59">; Ins1-CreERT</text>
<text class="r" x="1896.24" y="145.6" font-size="29" letter-spacing="0.59"> (4)</text>
<line x1="1471.8" y1="520.2" x2="1657" y2="520.2" stroke="#000" stroke-width="3"/>
<line x1="1481.3" y1="169.8" x2="1481.3" y2="521.7" stroke="#000" stroke-width="3"/>
<line x1="1472" y1="520" x2="1481.3" y2="520" stroke="#000" stroke-width="3"/>
<text class="r" x="1466.2" y="529.67" font-size="27" text-anchor="end">0.0</text>
<line x1="1472" y1="403.7" x2="1481.3" y2="403.7" stroke="#000" stroke-width="3"/>
<text class="r" x="1466.2" y="413.37" font-size="27" text-anchor="end">0.5</text>
<line x1="1472" y1="287.4" x2="1481.3" y2="287.4" stroke="#000" stroke-width="3"/>
<text class="r" x="1466.2" y="297.07" font-size="27" text-anchor="end">1.0</text>
<line x1="1472" y1="171.1" x2="1481.3" y2="171.1" stroke="#000" stroke-width="3"/>
<text class="r" x="1466.2" y="180.77" font-size="27" text-anchor="end">1.5</text>
<rect x="1506.3" y="289" width="48" height="229.7" fill="#fff"/>
<polyline points="1506.3,520.2 1506.3,289 1554.3,289 1554.3,520.2" fill="none" stroke="#000" stroke-width="3" stroke-linejoin="miter"/>
<rect x="1581.2" y="460.3" width="48.1" height="58.4" fill="#fff"/>
<polyline points="1581.2,520.2 1581.2,460.3 1629.3,460.3 1629.3,520.2" fill="none" stroke="#000" stroke-width="3" stroke-linejoin="miter"/>
<line x1="1530" y1="255.3" x2="1530" y2="321" stroke="#15809c" stroke-width="2.8"/>
<line x1="1517.8" y1="255.3" x2="1542.2" y2="255.3" stroke="#15809c" stroke-width="3"/>
<line x1="1517.8" y1="321" x2="1542.2" y2="321" stroke="#15809c" stroke-width="3"/>
<circle cx="1530.2" cy="245.2" r="6.2" fill="#15809c"/>
<circle cx="1530.2" cy="282.3" r="6.2" fill="#15809c"/>
<circle cx="1539.7" cy="303.8" r="6.2" fill="#15809c"/>
<circle cx="1521.6" cy="321" r="6.2" fill="#15809c"/>
<line x1="1605.4" y1="443.9" x2="1605.4" y2="473.4" stroke="#ff0000" stroke-width="2.8"/>
<line x1="1595.9" y1="443.9" x2="1614.9" y2="443.9" stroke="#ff0000" stroke-width="3"/>
<line x1="1595.9" y1="473.4" x2="1614.9" y2="473.4" stroke="#ff0000" stroke-width="3"/>
<rect x="1590.3" y="436.1" width="12.6" height="12.6" fill="#ff0000"/>
<rect x="1607.2" y="444.2" width="12.6" height="12.6" fill="#ff0000"/>
<rect x="1607.2" y="463.8" width="12.6" height="12.6" fill="#ff0000"/>
<rect x="1590.3" y="469.8" width="12.6" height="12.6" fill="#ff0000"/>
<line x1="1525.4" y1="226.3" x2="1603.3" y2="226.3" stroke="#000" stroke-width="3"/>
<text class="r" x="1564.85" y="219.85" font-size="28" text-anchor="middle" letter-spacing="1.1" stroke="#000" stroke-width="0.6">***</text>
<text class="r" transform="translate(1347 503.9) rotate(-90)" x="0" y="0" font-size="28" textLength="304.4" lengthAdjust="spacing">Fluorescence intensity</text>
<g transform="translate(1389.9 471.3) rotate(-90)">
<text class="r" x="0" y="0" font-size="28" letter-spacing="1.4">(fold to </text>
<text class="it" x="105.97" y="0" font-size="28" letter-spacing="1.4">Talin-1</text>
<text class="it" x="198.79" y="-10.08" font-size="18.48" letter-spacing="1.4">fl/fl</text>
<text class="r" x="228.77" y="0" font-size="28" letter-spacing="1.4">)</text>
</g>
<line x1="1790.2" y1="519.6" x2="1975" y2="519.6" stroke="#000" stroke-width="3"/>
<line x1="1799.1" y1="169.3" x2="1799.1" y2="521.1" stroke="#000" stroke-width="3"/>
<line x1="1790.2" y1="519.4" x2="1799.1" y2="519.4" stroke="#000" stroke-width="3"/>
<text class="r" x="1784.8" y="529.07" font-size="27" text-anchor="end">0.0</text>
<line x1="1790.2" y1="403.15" x2="1799.1" y2="403.15" stroke="#000" stroke-width="3"/>
<text class="r" x="1784.8" y="412.82" font-size="27" text-anchor="end">0.5</text>
<line x1="1790.2" y1="286.9" x2="1799.1" y2="286.9" stroke="#000" stroke-width="3"/>
<text class="r" x="1784.8" y="296.57" font-size="27" text-anchor="end">1.0</text>
<line x1="1790.2" y1="170.65" x2="1799.1" y2="170.65" stroke="#000" stroke-width="3"/>
<text class="r" x="1784.8" y="180.32" font-size="27" text-anchor="end">1.5</text>
<rect x="1824.4" y="288.6" width="47.4" height="229.5" fill="#fff"/>
<polyline points="1824.4,519.6 1824.4,288.6 1871.8,288.6 1871.8,519.6" fill="none" stroke="#000" stroke-width="3" stroke-linejoin="miter"/>
<rect x="1899.6" y="350.8" width="46.4" height="167.3" fill="#fff"/>
<polyline points="1899.6,519.6 1899.6,350.8 1946,350.8 1946,519.6" fill="none" stroke="#000" stroke-width="3" stroke-linejoin="miter"/>
<line x1="1848.2" y1="275.4" x2="1848.2" y2="300.2" stroke="#15809c" stroke-width="2.8"/>
<line x1="1836.1" y1="275.4" x2="1860.3" y2="275.4" stroke="#15809c" stroke-width="3"/>
<line x1="1836.1" y1="300.2" x2="1860.3" y2="300.2" stroke="#15809c" stroke-width="3"/>
<circle cx="1829.2" cy="273.9" r="6.2" fill="#15809c"/>
<circle cx="1848.2" cy="288.6" r="6.2" fill="#15809c"/>
<circle cx="1867.6" cy="284.9" r="6.2" fill="#15809c"/>
<circle cx="1848.2" cy="304.4" r="6.2" fill="#15809c"/>
<line x1="1923" y1="335.4" x2="1923" y2="363.9" stroke="#ff0000" stroke-width="2.8"/>
<line x1="1911.3" y1="335.4" x2="1934.7" y2="335.4" stroke="#ff0000" stroke-width="3"/>
<line x1="1911.3" y1="363.9" x2="1934.7" y2="363.9" stroke="#ff0000" stroke-width="3"/>
<rect x="1898.1" y="328.5" width="12.6" height="12.6" fill="#ff0000"/>
<rect x="1916.7" y="343.4" width="12.6" height="12.6" fill="#ff0000"/>
<rect x="1935.4" y="339.7" width="12.6" height="12.6" fill="#ff0000"/>
<rect x="1916.7" y="361.4" width="12.6" height="12.6" fill="#ff0000"/>
<line x1="1839.7" y1="237.4" x2="1931.4" y2="237.4" stroke="#000" stroke-width="3"/>
<text class="r" x="1886.05" y="231.45" font-size="28" text-anchor="middle" letter-spacing="1.1" stroke="#000" stroke-width="0.6">***</text>
<text class="r" transform="translate(1681.1 414.4) rotate(-90)" x="0" y="0" font-size="28" textLength="124.3" lengthAdjust="spacing">Stat3 IOD</text>
<g transform="translate(1719.4 466) rotate(-90)">
<text class="r" x="0" y="0" font-size="28" letter-spacing="0.94">(fold to </text>
<text class="it" x="101.9" y="0" font-size="28" letter-spacing="0.94">Talin-1</text>
<text class="it" x="191.55" y="-10.08" font-size="18.48" letter-spacing="0.94">fl/fl</text>
<text class="r" x="219.27" y="0" font-size="28" letter-spacing="0.94">)</text>
</g>
<line x1="146" y1="644.9" x2="208.8" y2="644.9" stroke="#15809c" stroke-width="3"/>
<circle cx="177.4" cy="644.9" r="5.9" fill="#15809c"/>
<line x1="144.4" y1="686.3" x2="207.2" y2="686.3" stroke="#ff0000" stroke-width="3"/>
<rect x="169.5" y="680" width="12.6" height="12.6" fill="#ff0000"/>
<text class="it" x="247.2" y="655.5" font-size="29" letter-spacing="0.85">Talin-1</text>
<text class="it" x="339.13" y="643.7" font-size="20" letter-spacing="0.85">fl/fl</text>
<text class="r" x="368.95" y="655.5" font-size="29" letter-spacing="0.85"> (5)</text>
<text class="it" x="246" y="696.3" font-size="29" letter-spacing="0.61">Talin-1</text>
<text class="it" x="336.22" y="684.5" font-size="20" letter-spacing="0.61">fl/fl</text>
<text class="it" x="364.81" y="696.3" font-size="29" letter-spacing="0.61">; Ins1-CreERT</text>
<text class="r" x="557.48" y="696.3" font-size="29" letter-spacing="0.61"> (6)</text>
<circle cx="380.5" cy="690" r="0.9" fill="#555"/>
<line x1="102" y1="1065.9" x2="519" y2="1065.9" stroke="#000" stroke-width="3"/>
<line x1="110.9" y1="715.6" x2="110.9" y2="1067.4" stroke="#000" stroke-width="3"/>
<line x1="102" y1="1065.9" x2="110.9" y2="1065.9" stroke="#000" stroke-width="3"/>
<text class="r" x="94.8" y="1075.57" font-size="27" text-anchor="end">0</text>
<line x1="102" y1="978.65" x2="110.9" y2="978.65" stroke="#000" stroke-width="3"/>
<text class="r" x="94.8" y="988.32" font-size="27" text-anchor="end">10</text>
<line x1="102" y1="891.4" x2="110.9" y2="891.4" stroke="#000" stroke-width="3"/>
<text class="r" x="94.8" y="901.07" font-size="27" text-anchor="end">20</text>
<line x1="102" y1="804.15" x2="110.9" y2="804.15" stroke="#000" stroke-width="3"/>
<text class="r" x="94.8" y="813.82" font-size="27" text-anchor="end">30</text>
<line x1="102" y1="716.9" x2="110.9" y2="716.9" stroke="#000" stroke-width="3"/>
<text class="r" x="94.8" y="726.57" font-size="27" text-anchor="end">40</text>
<line x1="110.9" y1="1065.9" x2="110.9" y2="1075" stroke="#000" stroke-width="3"/>
<text class="r" x="110.9" y="1110" font-size="27" text-anchor="middle" letter-spacing="0.5">0</text>
<line x1="212.47" y1="1065.9" x2="212.47" y2="1075" stroke="#000" stroke-width="3"/>
<text class="r" x="212.47" y="1110" font-size="27" text-anchor="middle" letter-spacing="0.5">30</text>
<line x1="314.03" y1="1065.9" x2="314.03" y2="1075" stroke="#000" stroke-width="3"/>
<text class="r" x="314.03" y="1110" font-size="27" text-anchor="middle" letter-spacing="0.5">60</text>
<line x1="415.6" y1="1065.9" x2="415.6" y2="1075" stroke="#000" stroke-width="3"/>
<text class="r" x="415.6" y="1110" font-size="27" text-anchor="middle" letter-spacing="0.5">90</text>
<line x1="517.16" y1="1065.9" x2="517.16" y2="1075" stroke="#000" stroke-width="3"/>
<text class="r" x="517.16" y="1110" font-size="27" text-anchor="middle" letter-spacing="0.5">120</text>
<line x1="212.47" y1="920.19" x2="212.47" y2="934.5" stroke="#15809c" stroke-width="2.8"/>
<line x1="206.77" y1="934.5" x2="218.16" y2="934.5" stroke="#15809c" stroke-width="3"/>
<line x1="314.03" y1="972.19" x2="314.03" y2="978.82" stroke="#15809c" stroke-width="2.8"/>
<line x1="308.33" y1="978.82" x2="319.73" y2="978.82" stroke="#15809c" stroke-width="3"/>
<line x1="415.6" y1="991.04" x2="415.6" y2="996.97" stroke="#15809c" stroke-width="2.8"/>
<line x1="409.9" y1="996.97" x2="421.3" y2="996.97" stroke="#15809c" stroke-width="3"/>
<line x1="517.16" y1="1001.77" x2="517.16" y2="1012.42" stroke="#15809c" stroke-width="2.8"/>
<line x1="511.46" y1="1012.42" x2="522.86" y2="1012.42" stroke="#15809c" stroke-width="3"/>
<polyline points="110.9,1022.01 212.47,920.19 314.03,972.19 415.6,991.04 517.16,1001.77" fill="none" stroke="#15809c" stroke-width="3" stroke-linejoin="miter"/>
<circle cx="110.9" cy="1022.01" r="6" fill="#15809c"/>
<circle cx="212.47" cy="920.19" r="6" fill="#15809c"/>
<circle cx="314.03" cy="972.19" r="6" fill="#15809c"/>
<circle cx="415.6" cy="991.04" r="6" fill="#15809c"/>
<circle cx="517.16" cy="1001.77" r="6" fill="#15809c"/>
<line x1="212.47" y1="890.53" x2="212.47" y2="871.33" stroke="#ff0000" stroke-width="2.8"/>
<line x1="206.77" y1="871.33" x2="218.16" y2="871.33" stroke="#ff0000" stroke-width="3"/>
<line x1="314.03" y1="931.27" x2="314.03" y2="880.06" stroke="#ff0000" stroke-width="2.8"/>
<line x1="308.33" y1="880.06" x2="319.73" y2="880.06" stroke="#ff0000" stroke-width="3"/>
<line x1="415.6" y1="964.86" x2="415.6" y2="932.15" stroke="#ff0000" stroke-width="2.8"/>
<line x1="409.9" y1="932.15" x2="421.3" y2="932.15" stroke="#ff0000" stroke-width="3"/>
<line x1="517.16" y1="998.72" x2="517.16" y2="988.51" stroke="#ff0000" stroke-width="2.8"/>
<line x1="511.46" y1="988.51" x2="522.86" y2="988.51" stroke="#ff0000" stroke-width="3"/>
<polyline points="110.9,1022.01 212.47,890.53 314.03,931.27 415.6,964.86 517.16,998.72" fill="none" stroke="#ff0000" stroke-width="3" stroke-linejoin="miter"/>
<rect x="104.7" y="1015.81" width="12.4" height="12.4" fill="#ff0000"/>
<rect x="206.27" y="884.33" width="12.4" height="12.4" fill="#ff0000"/>
<rect x="307.83" y="925.07" width="12.4" height="12.4" fill="#ff0000"/>
<rect x="409.4" y="958.66" width="12.4" height="12.4" fill="#ff0000"/>
<rect x="510.96" y="992.52" width="12.4" height="12.4" fill="#ff0000"/>
<text class="r" x="214" y="850.55" font-size="28" text-anchor="middle" stroke="#000" stroke-width="0.6">*</text>
<text class="r" x="318.9" y="866.55" font-size="28" text-anchor="middle" letter-spacing="1" stroke="#000" stroke-width="0.6">**</text>
<text class="r" x="415.8" y="926.55" font-size="28" text-anchor="middle" stroke="#000" stroke-width="0.6">*</text>
<text class="r" x="155.5" y="749.7" font-size="29" textLength="61.5" lengthAdjust="spacing" fill="#231815">GTT</text>
<text class="r" transform="translate(29 1030.7) rotate(-90)" x="0" y="0" font-size="28" textLength="268" lengthAdjust="spacing">Blood glucose (µM)</text>
<text class="r" x="79" y="1172.5" font-size="28" textLength="469" lengthAdjust="spacing">Time after glucose injection (min)</text>
<line x1="718.8" y1="642.8" x2="781.7" y2="642.8" stroke="#15809c" stroke-width="3"/>
<circle cx="750.2" cy="642.8" r="5.9" fill="#15809c"/>
<line x1="717.4" y1="684.4" x2="780.3" y2="684.4" stroke="#ff0000" stroke-width="3"/>
<rect x="742.6" y="678.1" width="12.6" height="12.6" fill="#ff0000"/>
<text class="it" x="819.5" y="652.9" font-size="29" letter-spacing="0.9">Talin-1</text>
<text class="it" x="911.8" y="641.1" font-size="20" letter-spacing="0.9">fl/fl</text>
<text class="r" x="941.89" y="652.9" font-size="29" letter-spacing="0.9"> (5)</text>
<text class="it" x="818.1" y="694.2" font-size="29" letter-spacing="0.63">Talin-1</text>
<text class="it" x="908.47" y="682.4" font-size="20" letter-spacing="0.63">fl/fl</text>
<text class="it" x="937.17" y="694.2" font-size="29" letter-spacing="0.63">; Ins1-CreERT</text>
<text class="r" x="1130.12" y="694.2" font-size="29" letter-spacing="0.63"> (6)</text>
<line x1="858.4" y1="1069.8" x2="1101" y2="1069.8" stroke="#000" stroke-width="3"/>
<line x1="867.5" y1="719.8" x2="867.5" y2="1071.3" stroke="#000" stroke-width="3"/>
<line x1="858.4" y1="1069.8" x2="867.5" y2="1069.8" stroke="#000" stroke-width="3"/>
<text class="r" x="850.4" y="1079.47" font-size="27" text-anchor="end">0</text>
<line x1="858.4" y1="953.57" x2="867.5" y2="953.57" stroke="#000" stroke-width="3"/>
<text class="r" x="850.4" y="963.23" font-size="27" text-anchor="end">1000</text>
<line x1="858.4" y1="837.33" x2="867.5" y2="837.33" stroke="#000" stroke-width="3"/>
<text class="r" x="850.4" y="847" font-size="27" text-anchor="end">2000</text>
<line x1="858.4" y1="721.1" x2="867.5" y2="721.1" stroke="#000" stroke-width="3"/>
<text class="r" x="850.4" y="730.77" font-size="27" text-anchor="end">3000</text>
<rect x="900.2" y="921.9" width="66.7" height="146.4" fill="#fff"/>
<polyline points="900.2,1069.8 900.2,921.9 966.9,921.9 966.9,1069.8" fill="none" stroke="#000" stroke-width="3" stroke-linejoin="miter"/>
<rect x="1000.2" y="897.6" width="66.4" height="170.7" fill="#fff"/>
<polyline points="1000.2,1069.8 1000.2,897.6 1066.6,897.6 1066.6,1069.8" fill="none" stroke="#000" stroke-width="3" stroke-linejoin="miter"/>
<line x1="933.4" y1="911.8" x2="933.4" y2="932.8" stroke="#15809c" stroke-width="2.8"/>
<line x1="917.6" y1="911.8" x2="949.2" y2="911.8" stroke="#15809c" stroke-width="3"/>
<line x1="917.6" y1="932.8" x2="949.2" y2="932.8" stroke="#15809c" stroke-width="3"/>
<circle cx="933.4" cy="907.1" r="6.2" fill="#15809c"/>
<circle cx="908.2" cy="925" r="6.2" fill="#15809c"/>
<circle cx="958.7" cy="918.5" r="6.2" fill="#15809c"/>
<circle cx="941.9" cy="926.5" r="6.2" fill="#15809c"/>
<circle cx="924.8" cy="934.3" r="6.2" fill="#15809c"/>
<line x1="1032.9" y1="880.2" x2="1032.9" y2="915.6" stroke="#ff0000" stroke-width="2.8"/>
<line x1="1017.1" y1="880.2" x2="1048.7" y2="880.2" stroke="#ff0000" stroke-width="3"/>
<line x1="1017.1" y1="915.6" x2="1048.7" y2="915.6" stroke="#ff0000" stroke-width="3"/>
<rect x="1026.6" y="864.8" width="12.6" height="12.6" fill="#ff0000"/>
<rect x="1044.1" y="880.2" width="12.6" height="12.6" fill="#ff0000"/>
<rect x="1008.7" y="890.3" width="12.6" height="12.6" fill="#ff0000"/>
<rect x="1026.6" y="895.3" width="12.6" height="12.6" fill="#ff0000"/>
<rect x="1035.4" y="903.3" width="12.6" height="12.6" fill="#ff0000"/>
<rect x="1017.7" y="914.9" width="12.6" height="12.6" fill="#ff0000"/>
<line x1="941.7" y1="821.8" x2="1025.1" y2="821.8" stroke="#000" stroke-width="3"/>
<text class="r" x="983.9" y="810.95" font-size="28" text-anchor="middle" stroke="#000" stroke-width="0.6">*</text>
<text class="r" transform="translate(751.6 991.8) rotate(-90)" x="0" y="0" font-size="28" textLength="178" lengthAdjust="spacing">AUC for GTT</text>
<circle cx="1412.8" cy="658" r="6.3" fill="#15809c"/>
<rect x="1406.7" y="693.5" width="12.2" height="12.2" fill="#ff0000"/>
<text class="it" x="1483" y="672.3" font-size="29" letter-spacing="0.47">Talin-1</text>
<text class="it" x="1572.28" y="659.3" font-size="21" letter-spacing="0.47">fl/fl</text>
<text class="r" x="1601.48" y="672.3" font-size="29" letter-spacing="0.47"> (5)</text>
<text class="it" x="1483" y="713.3" font-size="29" letter-spacing="0.52">Talin-1</text>
<text class="it" x="1572.62" y="700.3" font-size="21" letter-spacing="0.52">fl/fl</text>
<text class="it" x="1602.06" y="713.3" font-size="29" letter-spacing="0.52">; Ins1-CreERT</text>
<text class="r" x="1793.63" y="713.3" font-size="29" letter-spacing="0.52"> (7)</text>
<line x1="1383.2" y1="1072.9" x2="1916.2" y2="1072.9" stroke="#000" stroke-width="3"/>
<line x1="1392.3" y1="722.9" x2="1392.3" y2="1074.4" stroke="#000" stroke-width="3"/>
<line x1="1383.2" y1="1072.9" x2="1392.3" y2="1072.9" stroke="#000" stroke-width="3"/>
<text class="r" x="1376.6" y="1082.57" font-size="27" text-anchor="end">0.0</text>
<line x1="1383.2" y1="898.55" x2="1392.3" y2="898.55" stroke="#000" stroke-width="3"/>
<text class="r" x="1376.6" y="908.22" font-size="27" text-anchor="end">0.5</text>
<line x1="1383.2" y1="724.2" x2="1392.3" y2="724.2" stroke="#000" stroke-width="3"/>
<text class="r" x="1376.6" y="733.87" font-size="27" text-anchor="end">1.0</text>
<line x1="1457" y1="1072.9" x2="1457" y2="1081.2" stroke="#000" stroke-width="3"/>
<text class="r" x="1457" y="1114.1" font-size="27" text-anchor="middle" letter-spacing="0.5">0</text>
<rect x="1415.3" y="925" width="40.6" height="146.4" fill="#fff"/>
<polyline points="1415.3,1072.9 1415.3,925 1455.9,925 1455.9,1072.9" fill="none" stroke="#000" stroke-width="3" stroke-linejoin="miter"/>
<line x1="1435.7" y1="925" x2="1435.7" y2="895.4" stroke="#15809c" stroke-width="2.8"/>
<line x1="1424.9" y1="895.4" x2="1446.5" y2="895.4" stroke="#15809c" stroke-width="3"/>
<rect x="1459.1" y="964.9" width="40.4" height="106.5" fill="#fff"/>
<polyline points="1459.1,1072.9 1459.1,964.9 1499.5,964.9 1499.5,1072.9" fill="none" stroke="#000" stroke-width="3" stroke-linejoin="miter"/>
<line x1="1479.2" y1="964.9" x2="1479.2" y2="942" stroke="#ff0000" stroke-width="2.8"/>
<line x1="1468.5" y1="942" x2="1489.9" y2="942" stroke="#ff0000" stroke-width="3"/>
<line x1="1587.6" y1="1072.9" x2="1587.6" y2="1081.2" stroke="#000" stroke-width="3"/>
<text class="r" x="1587.6" y="1114.1" font-size="27" text-anchor="middle" letter-spacing="0.5">5</text>
<rect x="1546.3" y="865.7" width="40.5" height="205.7" fill="#fff"/>
<polyline points="1546.3,1072.9 1546.3,865.7 1586.8,865.7 1586.8,1072.9" fill="none" stroke="#000" stroke-width="3" stroke-linejoin="miter"/>
<line x1="1566.6" y1="865.7" x2="1566.6" y2="820.7" stroke="#15809c" stroke-width="2.8"/>
<line x1="1556.1" y1="820.7" x2="1577.1" y2="820.7" stroke="#15809c" stroke-width="3"/>
<rect x="1588.9" y="938.5" width="41.2" height="132.9" fill="#fff"/>
<polyline points="1588.9,1072.9 1588.9,938.5 1630.1,938.5 1630.1,1072.9" fill="none" stroke="#000" stroke-width="3" stroke-linejoin="miter"/>
<line x1="1609.8" y1="938.5" x2="1609.8" y2="919.9" stroke="#ff0000" stroke-width="2.8"/>
<line x1="1599.1" y1="919.9" x2="1620.5" y2="919.9" stroke="#ff0000" stroke-width="3"/>
<line x1="1718.5" y1="1072.9" x2="1718.5" y2="1081.2" stroke="#000" stroke-width="3"/>
<text class="r" x="1718.5" y="1114.1" font-size="27" text-anchor="middle" letter-spacing="0.5">10</text>
<rect x="1676.9" y="848.3" width="40.2" height="223.1" fill="#fff"/>
<polyline points="1676.9,1072.9 1676.9,848.3 1717.1,848.3 1717.1,1072.9" fill="none" stroke="#000" stroke-width="3" stroke-linejoin="miter"/>
<line x1="1697.1" y1="848.3" x2="1697.1" y2="809.9" stroke="#15809c" stroke-width="2.8"/>
<line x1="1686.5" y1="809.9" x2="1707.7" y2="809.9" stroke="#15809c" stroke-width="3"/>
<rect x="1720.6" y="908" width="40.5" height="163.4" fill="#fff"/>
<polyline points="1720.6,1072.9 1720.6,908 1761.1,908 1761.1,1072.9" fill="none" stroke="#000" stroke-width="3" stroke-linejoin="miter"/>
<line x1="1740.8" y1="908" x2="1740.8" y2="865.2" stroke="#ff0000" stroke-width="2.8"/>
<line x1="1730.1" y1="865.2" x2="1751.5" y2="865.2" stroke="#ff0000" stroke-width="3"/>
<line x1="1849" y1="1072.9" x2="1849" y2="1081.2" stroke="#000" stroke-width="3"/>
<text class="r" x="1849" y="1114.1" font-size="27" text-anchor="middle" letter-spacing="0.5">30</text>
<rect x="1808" y="899.1" width="40.1" height="172.3" fill="#fff"/>
<polyline points="1808,1072.9 1808,899.1 1848.1,899.1 1848.1,1072.9" fill="none" stroke="#000" stroke-width="3" stroke-linejoin="miter"/>
<line x1="1828" y1="899.1" x2="1828" y2="859.9" stroke="#15809c" stroke-width="2.8"/>
<line x1="1817.3" y1="859.9" x2="1838.7" y2="859.9" stroke="#15809c" stroke-width="3"/>
<rect x="1850.8" y="933.9" width="41" height="137.5" fill="#fff"/>
<polyline points="1850.8,1072.9 1850.8,933.9 1891.8,933.9 1891.8,1072.9" fill="none" stroke="#000" stroke-width="3" stroke-linejoin="miter"/>
<line x1="1871.3" y1="933.9" x2="1871.3" y2="905.3" stroke="#ff0000" stroke-width="2.8"/>
<line x1="1860.6" y1="905.3" x2="1882" y2="905.3" stroke="#ff0000" stroke-width="3"/>
<circle cx="1435.7" cy="884.2" r="6.2" fill="#15809c"/>
<circle cx="1435.7" cy="910.7" r="6.2" fill="#15809c"/>
<circle cx="1451.4" cy="925" r="6.2" fill="#15809c"/>
<circle cx="1435.7" cy="937" r="6.2" fill="#15809c"/>
<circle cx="1435.7" cy="960.8" r="6.2" fill="#15809c"/>
<rect x="1478.3" y="931.9" width="12" height="12" fill="#ff0000"/>
<rect x="1467.7" y="936.8" width="12" height="12" fill="#ff0000"/>
<rect x="1467.7" y="957.7" width="12" height="12" fill="#ff0000"/>
<rect x="1478.3" y="957.7" width="12" height="12" fill="#ff0000"/>
<rect x="1488.8" y="957.7" width="12" height="12" fill="#ff0000"/>
<rect x="1457.8" y="967.2" width="12" height="12" fill="#ff0000"/>
<rect x="1467.7" y="991.3" width="12" height="12" fill="#ff0000"/>
<circle cx="1566.6" cy="832.8" r="6.2" fill="#15809c"/>
<circle cx="1582.4" cy="829" r="6.2" fill="#15809c"/>
<circle cx="1566.6" cy="854.6" r="6.2" fill="#15809c"/>
<circle cx="1566.6" cy="867.4" r="6.2" fill="#15809c"/>
<circle cx="1566.6" cy="938.2" r="6.2" fill="#15809c"/>
<rect x="1603.8" y="903" width="12" height="12" fill="#ff0000"/>
<rect x="1603.8" y="919.8" width="12" height="12" fill="#ff0000"/>
<rect x="1588" y="926.3" width="12" height="12" fill="#ff0000"/>
<rect x="1603.8" y="935.1" width="12" height="12" fill="#ff0000"/>
<rect x="1619.4" y="930.7" width="12" height="12" fill="#ff0000"/>
<rect x="1619.4" y="943.9" width="12" height="12" fill="#ff0000"/>
<rect x="1588" y="954.8" width="12" height="12" fill="#ff0000"/>
<circle cx="1681.4" cy="814.9" r="6.2" fill="#15809c"/>
<circle cx="1697.1" cy="826.3" r="6.2" fill="#15809c"/>
<circle cx="1713" cy="820.3" r="6.2" fill="#15809c"/>
<circle cx="1697.1" cy="876.8" r="6.2" fill="#15809c"/>
<circle cx="1697.1" cy="896.4" r="6.2" fill="#15809c"/>
<rect x="1734.8" y="822.3" width="12" height="12" fill="#ff0000"/>
<rect x="1734.8" y="874.9" width="12" height="12" fill="#ff0000"/>
<rect x="1734.8" y="891.3" width="12" height="12" fill="#ff0000"/>
<rect x="1734.8" y="914.5" width="12" height="12" fill="#ff0000"/>
<rect x="1734.8" y="929.6" width="12" height="12" fill="#ff0000"/>
<rect x="1750.3" y="930.2" width="12" height="12" fill="#ff0000"/>
<rect x="1719.1" y="941.2" width="12" height="12" fill="#ff0000"/>
<circle cx="1828" cy="839.4" r="6.2" fill="#15809c"/>
<circle cx="1828" cy="879.1" r="6.2" fill="#15809c"/>
<circle cx="1828" cy="919.6" r="6.2" fill="#15809c"/>
<circle cx="1811.9" cy="925.8" r="6.2" fill="#15809c"/>
<circle cx="1843.7" cy="925.5" r="6.2" fill="#15809c"/>
<rect x="1860" y="881.9" width="12" height="12" fill="#ff0000"/>
<rect x="1870.3" y="896.1" width="12" height="12" fill="#ff0000"/>
<rect x="1870.3" y="929.1" width="12" height="12" fill="#ff0000"/>
<rect x="1860" y="937.7" width="12" height="12" fill="#ff0000"/>
<rect x="1870.3" y="943.9" width="12" height="12" fill="#ff0000"/>
<rect x="1880.8" y="943.9" width="12" height="12" fill="#ff0000"/>
<rect x="1849.6" y="949.8" width="12" height="12" fill="#ff0000"/>
<line x1="1433.8" y1="855.9" x2="1483.9" y2="855.9" stroke="#000" stroke-width="3"/>
<text class="r" x="1459.35" y="850.55" font-size="28" text-anchor="middle" stroke="#000" stroke-width="0.6">*</text>
<line x1="1564" y1="794.8" x2="1613.9" y2="794.8" stroke="#000" stroke-width="3"/>
<text class="r" x="1589.45" y="788.85" font-size="28" text-anchor="middle" letter-spacing="1.1" stroke="#000" stroke-width="0.6">**</text>
<line x1="1692.1" y1="781.9" x2="1741.7" y2="781.9" stroke="#000" stroke-width="3"/>
<text class="r" x="1717.4" y="774.75" font-size="28" text-anchor="middle" stroke="#000" stroke-width="0.6">*</text>
<text class="r" x="1427" y="756.5" font-size="29" textLength="74" lengthAdjust="spacing" fill="#231815">GSIS</text>
<text class="r" transform="translate(1311.5 1056) rotate(-90)" x="0" y="0" font-size="28" textLength="302.3" lengthAdjust="spacing">Serum insulin (ng/mL)</text>
<text class="r" x="1547.3" y="1164.8" font-size="28" textLength="146.5" lengthAdjust="spacing">Time (min)</text>
<circle cx="217.5" cy="1266" r="6.3" fill="#15809c"/>
<rect x="211.3" y="1321.8" width="12.4" height="12.4" fill="#ff0000"/>
<text class="it" x="286.8" y="1276.2" font-size="29" letter-spacing="0.92">Talin-1</text>
<text class="it" x="379.19" y="1264.4" font-size="20" letter-spacing="0.92">fl/fl</text>
<text class="r" x="409.35" y="1276.2" font-size="29" letter-spacing="0.92"> (4)</text>
<text class="it" x="286.8" y="1318.9" font-size="29" letter-spacing="1">Talin-1</text>
<text class="it" x="379.77" y="1307.1" font-size="20" letter-spacing="1">fl/fl</text>
<text class="it" x="410.33" y="1318.9" font-size="29" letter-spacing="1">;</text>
<text class="it" x="285.8" y="1357" font-size="29" letter-spacing="0.1">Ins1-CreERT</text>
<text class="r" x="455.59" y="1357" font-size="29" letter-spacing="0.1"> (4)</text>
<line x1="253.8" y1="1736.6" x2="496.1" y2="1736.6" stroke="#000" stroke-width="3"/>
<line x1="262.2" y1="1387.2" x2="262.2" y2="1738.1" stroke="#000" stroke-width="3"/>
<line x1="253.8" y1="1736.6" x2="262.2" y2="1736.6" stroke="#000" stroke-width="3"/>
<text class="r" x="246.2" y="1746.27" font-size="27" text-anchor="end">0.0</text>
<line x1="253.8" y1="1666.97" x2="262.2" y2="1666.97" stroke="#000" stroke-width="3"/>
<text class="r" x="246.2" y="1676.64" font-size="27" text-anchor="end">0.5</text>
<line x1="253.8" y1="1597.35" x2="262.2" y2="1597.35" stroke="#000" stroke-width="3"/>
<text class="r" x="246.2" y="1607.02" font-size="27" text-anchor="end">1.0</text>
<line x1="253.8" y1="1527.72" x2="262.2" y2="1527.72" stroke="#000" stroke-width="3"/>
<text class="r" x="246.2" y="1537.39" font-size="27" text-anchor="end">1.5</text>
<line x1="253.8" y1="1458.1" x2="262.2" y2="1458.1" stroke="#000" stroke-width="3"/>
<text class="r" x="246.2" y="1467.77" font-size="27" text-anchor="end">2.0</text>
<line x1="253.8" y1="1388.47" x2="262.2" y2="1388.47" stroke="#000" stroke-width="3"/>
<text class="r" x="246.2" y="1398.14" font-size="27" text-anchor="end">2.5</text>
<rect x="295.9" y="1518.1" width="65.8" height="217" fill="#fff"/>
<polyline points="295.9,1736.6 295.9,1518.1 361.7,1518.1 361.7,1736.6" fill="none" stroke="#000" stroke-width="3" stroke-linejoin="miter"/>
<rect x="395.4" y="1595" width="65.9" height="140.1" fill="#fff"/>
<polyline points="395.4,1736.6 395.4,1595 461.3,1595 461.3,1736.6" fill="none" stroke="#000" stroke-width="3" stroke-linejoin="miter"/>
<line x1="328.6" y1="1468" x2="328.6" y2="1568" stroke="#15809c" stroke-width="2.8"/>
<line x1="312.8" y1="1468" x2="344.4" y2="1468" stroke="#15809c" stroke-width="3"/>
<line x1="312.8" y1="1568" x2="344.4" y2="1568" stroke="#15809c" stroke-width="3"/>
<circle cx="328.6" cy="1456.8" r="6.2" fill="#15809c"/>
<circle cx="328.6" cy="1497.9" r="6.2" fill="#15809c"/>
<circle cx="337.6" cy="1550.6" r="6.2" fill="#15809c"/>
<circle cx="319.5" cy="1566.4" r="6.2" fill="#15809c"/>
<line x1="428" y1="1559.6" x2="428" y2="1629.8" stroke="#ff0000" stroke-width="2.8"/>
<line x1="411.7" y1="1559.6" x2="444.3" y2="1559.6" stroke="#ff0000" stroke-width="3"/>
<line x1="411.7" y1="1629.8" x2="444.3" y2="1629.8" stroke="#ff0000" stroke-width="3"/>
<rect x="403.8" y="1571.9" width="12.6" height="12.6" fill="#ff0000"/>
<rect x="421.7" y="1574" width="12.6" height="12.6" fill="#ff0000"/>
<rect x="439.7" y="1567" width="12.6" height="12.6" fill="#ff0000"/>
<rect x="421.7" y="1640.8" width="12.6" height="12.6" fill="#ff0000"/>
<line x1="329.6" y1="1428.4" x2="421.3" y2="1428.4" stroke="#000" stroke-width="3"/>
<text class="r" x="375.95" y="1426.15" font-size="28" text-anchor="middle" stroke="#000" stroke-width="0.6">*</text>
<text class="r" transform="translate(171 1678.7) rotate(-90)" x="0" y="0" font-size="28" textLength="221.3" lengthAdjust="spacing">β-cell mass (mg)</text>
<line x1="806.9" y1="1272.3" x2="869.7" y2="1272.3" stroke="#15809c" stroke-width="3"/>
<rect x="832.1" y="1266.1" width="12.4" height="12.4" fill="#15809c"/>
<line x1="804.4" y1="1320.7" x2="867.2" y2="1320.7" stroke="#ff0000" stroke-width="3"/>
<circle cx="835.8" cy="1320.7" r="6.2" fill="#ff0000"/>
<text class="it" x="907.5" y="1282.4" font-size="29" letter-spacing="0.69">Talin-1</text>
<text class="it" x="998.31" y="1270.6" font-size="20" letter-spacing="0.69">fl/fl</text>
<text class="r" x="1027.33" y="1282.4" font-size="29" letter-spacing="0.69"> (5)</text>
<text class="it" x="906" y="1331" font-size="29" letter-spacing="0.61">Talin-1</text>
<text class="it" x="996.22" y="1319.2" font-size="20" letter-spacing="0.61">fl/fl</text>
<text class="it" x="1024.81" y="1331" font-size="29" letter-spacing="0.61">; Ins1-CreERT</text>
<text class="r" x="1217.48" y="1331" font-size="29" letter-spacing="0.61"> (7)</text>
<line x1="786.5" y1="1737.1" x2="1203.6" y2="1737.1" stroke="#000" stroke-width="3"/>
<line x1="795.4" y1="1387.2" x2="795.4" y2="1738.6" stroke="#000" stroke-width="3"/>
<line x1="786.5" y1="1737.1" x2="795.4" y2="1737.1" stroke="#000" stroke-width="3"/>
<text class="r" x="779.3" y="1746.77" font-size="27" text-anchor="end">0</text>
<line x1="786.5" y1="1679" x2="795.4" y2="1679" stroke="#000" stroke-width="3"/>
<text class="r" x="779.3" y="1688.67" font-size="27" text-anchor="end">20</text>
<line x1="786.5" y1="1620.9" x2="795.4" y2="1620.9" stroke="#000" stroke-width="3"/>
<text class="r" x="779.3" y="1630.57" font-size="27" text-anchor="end">40</text>
<line x1="786.5" y1="1562.8" x2="795.4" y2="1562.8" stroke="#000" stroke-width="3"/>
<text class="r" x="779.3" y="1572.47" font-size="27" text-anchor="end">60</text>
<line x1="786.5" y1="1504.7" x2="795.4" y2="1504.7" stroke="#000" stroke-width="3"/>
<text class="r" x="779.3" y="1514.37" font-size="27" text-anchor="end">80</text>
<line x1="786.5" y1="1446.6" x2="795.4" y2="1446.6" stroke="#000" stroke-width="3"/>
<text class="r" x="779.3" y="1456.27" font-size="27" text-anchor="end">100</text>
<line x1="786.5" y1="1388.5" x2="795.4" y2="1388.5" stroke="#000" stroke-width="3"/>
<text class="r" x="779.3" y="1398.17" font-size="27" text-anchor="end">120</text>
<line x1="795.4" y1="1737.1" x2="795.4" y2="1746.3" stroke="#000" stroke-width="3"/>
<text class="r" x="795.4" y="1781" font-size="27" text-anchor="middle" letter-spacing="0.5">0</text>
<line x1="897.07" y1="1737.1" x2="897.07" y2="1746.3" stroke="#000" stroke-width="3"/>
<text class="r" x="897.07" y="1781" font-size="27" text-anchor="middle" letter-spacing="0.5">30</text>
<line x1="998.74" y1="1737.1" x2="998.74" y2="1746.3" stroke="#000" stroke-width="3"/>
<text class="r" x="998.74" y="1781" font-size="27" text-anchor="middle" letter-spacing="0.5">60</text>
<line x1="1100.41" y1="1737.1" x2="1100.41" y2="1746.3" stroke="#000" stroke-width="3"/>
<text class="r" x="1100.41" y="1781" font-size="27" text-anchor="middle" letter-spacing="0.5">90</text>
<line x1="1202.08" y1="1737.1" x2="1202.08" y2="1746.3" stroke="#000" stroke-width="3"/>
<text class="r" x="1202.08" y="1781" font-size="27" text-anchor="middle" letter-spacing="0.5">120</text>
<line x1="846.24" y1="1464.32" x2="846.24" y2="1525.62" stroke="#ff0000" stroke-width="2.8"/>
<line x1="840.63" y1="1464.32" x2="851.84" y2="1464.32" stroke="#ff0000" stroke-width="3"/>
<line x1="840.63" y1="1525.62" x2="851.84" y2="1525.62" stroke="#ff0000" stroke-width="3"/>
<line x1="897.07" y1="1506.73" x2="897.07" y2="1561.64" stroke="#ff0000" stroke-width="2.8"/>
<line x1="891.47" y1="1506.73" x2="902.67" y2="1506.73" stroke="#ff0000" stroke-width="3"/>
<line x1="891.47" y1="1561.64" x2="902.67" y2="1561.64" stroke="#ff0000" stroke-width="3"/>
<line x1="998.74" y1="1537.53" x2="998.74" y2="1582.26" stroke="#ff0000" stroke-width="2.8"/>
<line x1="993.14" y1="1537.53" x2="1004.34" y2="1537.53" stroke="#ff0000" stroke-width="3"/>
<line x1="993.14" y1="1582.26" x2="1004.34" y2="1582.26" stroke="#ff0000" stroke-width="3"/>
<line x1="1202.08" y1="1525.62" x2="1202.08" y2="1586.62" stroke="#ff0000" stroke-width="2.8"/>
<line x1="1196.48" y1="1525.62" x2="1207.68" y2="1525.62" stroke="#ff0000" stroke-width="3"/>
<line x1="1196.48" y1="1586.62" x2="1207.68" y2="1586.62" stroke="#ff0000" stroke-width="3"/>
<polyline points="795.4,1446.6 846.24,1495.4 897.07,1533.75 998.74,1558.73 1202.08,1555.54" fill="none" stroke="#ff0000" stroke-width="3" stroke-linejoin="miter"/>
<circle cx="795.4" cy="1446.6" r="6.2" fill="#ff0000"/>
<circle cx="846.24" cy="1495.4" r="6.2" fill="#ff0000"/>
<circle cx="897.07" cy="1533.75" r="6.2" fill="#ff0000"/>
<circle cx="998.74" cy="1558.73" r="6.2" fill="#ff0000"/>
<circle cx="1202.08" cy="1555.54" r="6.2" fill="#ff0000"/>
<line x1="846.24" y1="1468.1" x2="846.24" y2="1517.77" stroke="#15809c" stroke-width="2.8"/>
<line x1="840.63" y1="1468.1" x2="851.84" y2="1468.1" stroke="#15809c" stroke-width="3"/>
<line x1="840.63" y1="1517.77" x2="851.84" y2="1517.77" stroke="#15809c" stroke-width="3"/>
<line x1="897.07" y1="1523.58" x2="897.07" y2="1559.31" stroke="#15809c" stroke-width="2.8"/>
<line x1="891.47" y1="1523.58" x2="902.67" y2="1523.58" stroke="#15809c" stroke-width="3"/>
<line x1="891.47" y1="1559.31" x2="902.67" y2="1559.31" stroke="#15809c" stroke-width="3"/>
<line x1="998.74" y1="1542.46" x2="998.74" y2="1582.26" stroke="#15809c" stroke-width="2.8"/>
<line x1="993.14" y1="1542.46" x2="1004.34" y2="1542.46" stroke="#15809c" stroke-width="3"/>
<line x1="993.14" y1="1582.26" x2="1004.34" y2="1582.26" stroke="#15809c" stroke-width="3"/>
<line x1="1202.08" y1="1545.95" x2="1202.08" y2="1584.01" stroke="#15809c" stroke-width="2.8"/>
<line x1="1196.48" y1="1545.95" x2="1207.68" y2="1545.95" stroke="#15809c" stroke-width="3"/>
<line x1="1196.48" y1="1584.01" x2="1207.68" y2="1584.01" stroke="#15809c" stroke-width="3"/>
<polyline points="795.4,1446.6 846.24,1493.95 897.07,1541.59 998.74,1562.22 1202.08,1565.12" fill="none" stroke="#15809c" stroke-width="3" stroke-linejoin="miter"/>
<rect x="789.2" y="1440.4" width="12.4" height="12.4" fill="#15809c"/>
<rect x="840.03" y="1487.75" width="12.4" height="12.4" fill="#15809c"/>
<rect x="890.87" y="1535.39" width="12.4" height="12.4" fill="#15809c"/>
<rect x="992.54" y="1556.02" width="12.4" height="12.4" fill="#15809c"/>
<rect x="1195.88" y="1558.92" width="12.4" height="12.4" fill="#15809c"/>
<text class="r" x="823" y="1405.8" font-size="29" textLength="48" lengthAdjust="spacing" fill="#231815">ITT</text>
<text class="r" transform="translate(696.8 1692.4) rotate(-90)" x="0" y="0" font-size="28" textLength="248.6" lengthAdjust="spacing">Blood glucose (%)</text>
<text class="r" x="773.5" y="1843.1" font-size="28" textLength="454" lengthAdjust="spacing">Time after insulin injection (min)</text>
<path d="M1049.5 1365.5 l2 2.5" stroke="#444" stroke-width="1.2"/>
<path d="M1073.5 1365.5 l-1.5 2.5" stroke="#444" stroke-width="1.2"/>
<line x1="1356.3" y1="1270.8" x2="1419.5" y2="1270.8" stroke="#15809c" stroke-width="3"/>
<rect x="1381.7" y="1264.6" width="12.4" height="12.4" fill="#15809c"/>
<line x1="1353.7" y1="1318.2" x2="1416.9" y2="1318.2" stroke="#ff0000" stroke-width="3"/>
<circle cx="1385.3" cy="1318.2" r="6.2" fill="#ff0000"/>
<text class="it" x="1457.2" y="1280.8" font-size="29" letter-spacing="0.67">Talin-1</text>
<text class="it" x="1547.87" y="1269" font-size="20" letter-spacing="0.67">fl/fl</text>
<text class="r" x="1576.79" y="1280.8" font-size="29" letter-spacing="0.67"> (5)</text>
<text class="it" x="1455.4" y="1328.2" font-size="29" letter-spacing="0.59">Talin-1</text>
<text class="it" x="1545.52" y="1316.4" font-size="20" letter-spacing="0.59">fl/fl</text>
<text class="it" x="1574.04" y="1328.2" font-size="29" letter-spacing="0.59">; Ins1-CreERT</text>
<text class="r" x="1766.52" y="1328.2" font-size="29" letter-spacing="0.59"> (7)</text>
<line x1="1507" y1="1738.7" x2="1749.3" y2="1738.7" stroke="#000" stroke-width="3"/>
<line x1="1515.4" y1="1387.7" x2="1515.4" y2="1740.2" stroke="#000" stroke-width="3"/>
<line x1="1507" y1="1738.7" x2="1515.4" y2="1738.7" stroke="#000" stroke-width="3"/>
<text class="r" x="1499.3" y="1748.37" font-size="27" text-anchor="end">0</text>
<line x1="1507" y1="1563.85" x2="1515.4" y2="1563.85" stroke="#000" stroke-width="3"/>
<text class="r" x="1499.3" y="1573.52" font-size="27" text-anchor="end">5000</text>
<line x1="1507" y1="1389" x2="1515.4" y2="1389" stroke="#000" stroke-width="3"/>
<text class="r" x="1499.3" y="1398.67" font-size="27" text-anchor="end">10000</text>
<rect x="1548.7" y="1458.9" width="65.7" height="278.3" fill="#fff"/>
<polyline points="1548.7,1738.7 1548.7,1458.9 1614.4,1458.9 1614.4,1738.7" fill="none" stroke="#000" stroke-width="3" stroke-linejoin="miter"/>
<rect x="1648.8" y="1452.6" width="65.3" height="284.6" fill="#fff"/>
<polyline points="1648.8,1738.7 1648.8,1452.6 1714.1,1452.6 1714.1,1738.7" fill="none" stroke="#000" stroke-width="3" stroke-linejoin="miter"/>
<line x1="1581.8" y1="1435.3" x2="1581.8" y2="1483.8" stroke="#15809c" stroke-width="2.8"/>
<line x1="1566" y1="1435.3" x2="1597.6" y2="1435.3" stroke="#15809c" stroke-width="3"/>
<line x1="1566" y1="1483.8" x2="1597.6" y2="1483.8" stroke="#15809c" stroke-width="3"/>
<circle cx="1556.9" cy="1444.4" r="6.2" fill="#15809c"/>
<circle cx="1607.1" cy="1444.4" r="6.2" fill="#15809c"/>
<circle cx="1573.3" cy="1453.6" r="6.2" fill="#15809c"/>
<circle cx="1590.2" cy="1453.6" r="6.2" fill="#15809c"/>
<circle cx="1581.8" cy="1501.7" r="6.2" fill="#15809c"/>
<line x1="1681.2" y1="1420.6" x2="1681.2" y2="1484.8" stroke="#ff0000" stroke-width="2.8"/>
<line x1="1665.1" y1="1420.6" x2="1697.3" y2="1420.6" stroke="#ff0000" stroke-width="3"/>
<line x1="1665.1" y1="1484.8" x2="1697.3" y2="1484.8" stroke="#ff0000" stroke-width="3"/>
<rect x="1674.9" y="1406.9" width="12.6" height="12.6" fill="#ff0000"/>
<rect x="1666.1" y="1419.5" width="12.6" height="12.6" fill="#ff0000"/>
<rect x="1684" y="1425.2" width="12.6" height="12.6" fill="#ff0000"/>
<rect x="1666.1" y="1452.2" width="12.6" height="12.6" fill="#ff0000"/>
<rect x="1684" y="1447.6" width="12.6" height="12.6" fill="#ff0000"/>
<rect x="1674.9" y="1476.4" width="12.6" height="12.6" fill="#ff0000"/>
<rect x="1674.9" y="1496.4" width="12.6" height="12.6" fill="#ff0000"/>
<text class="r" transform="translate(1381.6 1653.4) rotate(-90)" x="0" y="0" font-size="28" textLength="164.4" lengthAdjust="spacing">AUC for ITT</text>
</svg>
</body></html>
